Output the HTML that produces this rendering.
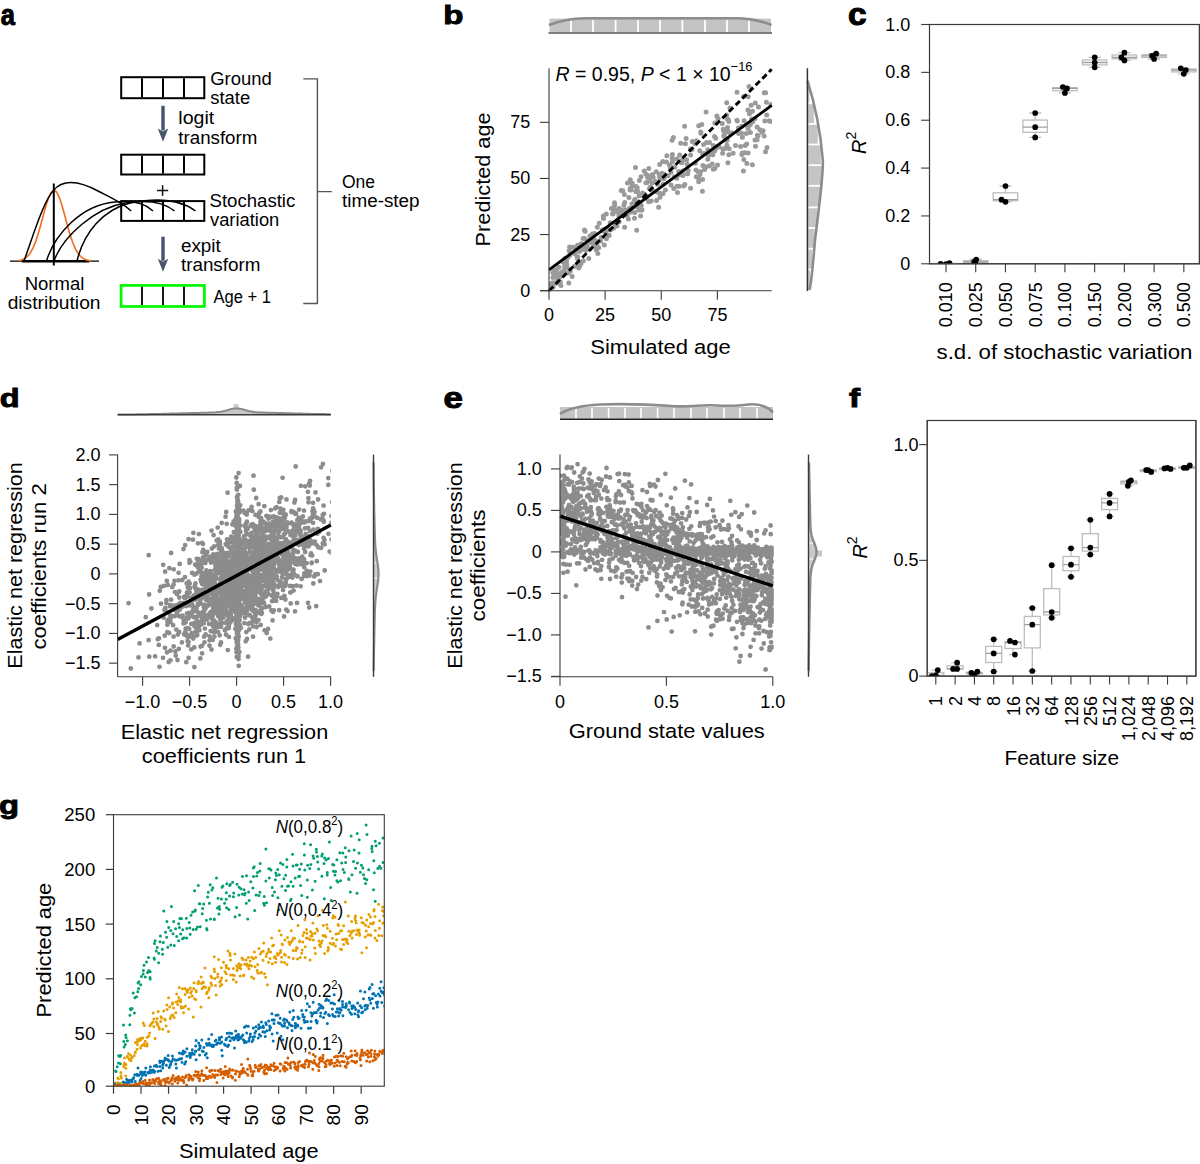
<!DOCTYPE html><html><head><meta charset="utf-8"><style>
html,body{margin:0;padding:0;background:#fff;width:1200px;height:1164px;overflow:hidden}
svg{display:block;font-family:"Liberation Sans",sans-serif}
</style></head><body>
<svg width="1200" height="1164" viewBox="0 0 1200 1164">
<text x="0" y="0" font-size="29" font-weight="bold" fill="#000" stroke="#000" stroke-width="1" textLength="14.19" lengthAdjust="spacingAndGlyphs" transform="translate(0.7 24.9) scale(1 1.0)">a</text>
<rect x="121.2" y="77.2" width="83.1" height="21.0" fill="none" stroke="#000" stroke-width="2"/>
<line x1="142.00" y1="78.20" x2="142.00" y2="97.20" stroke="#000" stroke-width="2"/>
<line x1="163.00" y1="78.20" x2="163.00" y2="97.20" stroke="#000" stroke-width="2"/>
<line x1="184.00" y1="78.20" x2="184.00" y2="97.20" stroke="#000" stroke-width="2"/>
<rect x="121.2" y="154.7" width="83.1" height="19.8" fill="none" stroke="#000" stroke-width="2"/>
<line x1="142.00" y1="155.70" x2="142.00" y2="173.50" stroke="#000" stroke-width="2"/>
<line x1="163.00" y1="155.70" x2="163.00" y2="173.50" stroke="#000" stroke-width="2"/>
<line x1="184.00" y1="155.70" x2="184.00" y2="173.50" stroke="#000" stroke-width="2"/>
<rect x="121.2" y="201.1" width="83.1" height="19.8" fill="none" stroke="#000" stroke-width="2"/>
<line x1="142.00" y1="202.10" x2="142.00" y2="219.90" stroke="#000" stroke-width="2"/>
<line x1="163.00" y1="202.10" x2="163.00" y2="219.90" stroke="#000" stroke-width="2"/>
<line x1="184.00" y1="202.10" x2="184.00" y2="219.90" stroke="#000" stroke-width="2"/>
<rect x="121.1" y="285.4" width="83.3" height="21.1" fill="none" stroke="#00f800" stroke-width="2.7"/>
<line x1="142.00" y1="286.70" x2="142.00" y2="305.10" stroke="#000" stroke-width="1.8"/>
<line x1="163.00" y1="286.70" x2="163.00" y2="305.10" stroke="#000" stroke-width="1.8"/>
<line x1="184.00" y1="286.70" x2="184.00" y2="305.10" stroke="#000" stroke-width="1.8"/>
<rect x="161.3" y="105.8" width="3.4" height="24.7" fill="#46556b"/>
<path d="M157.8 128.5 L163.0 141.8 L168.2 128.5 L163.0 131.5Z" fill="#46556b"/>
<rect x="161.3" y="236.7" width="3.4" height="24.1" fill="#46556b"/>
<path d="M157.8 258.8 L163.0 271.8 L168.2 258.8 L163.0 261.8Z" fill="#46556b"/>
<line x1="157.00" y1="190.50" x2="168.20" y2="190.50" stroke="#111" stroke-width="1.5"/>
<line x1="162.60" y1="185.20" x2="162.60" y2="195.80" stroke="#111" stroke-width="1.5"/>
<text x="210.2" y="85.0" font-size="17.5" textLength="61.5" lengthAdjust="spacingAndGlyphs">Ground</text>
<text x="210.2" y="104.2" font-size="17.5" textLength="40.0" lengthAdjust="spacingAndGlyphs">state</text>
<text x="178.3" y="124.0" font-size="17.5" textLength="36.0" lengthAdjust="spacingAndGlyphs">logit</text>
<text x="178.3" y="143.5" font-size="17.5" textLength="79.0" lengthAdjust="spacingAndGlyphs">transform</text>
<text x="209.5" y="207.3" font-size="17.5" textLength="85.8" lengthAdjust="spacingAndGlyphs">Stochastic</text>
<text x="210.0" y="226.0" font-size="17.5" textLength="69.3" lengthAdjust="spacingAndGlyphs">variation</text>
<text x="180.9" y="251.6" font-size="17.5" textLength="39.9" lengthAdjust="spacingAndGlyphs">expit</text>
<text x="180.9" y="270.7" font-size="17.5" textLength="79.6" lengthAdjust="spacingAndGlyphs">transform</text>
<text x="213.5" y="303.3" font-size="17.5" textLength="57.5" lengthAdjust="spacingAndGlyphs">Age + 1</text>
<text x="342.0" y="187.5" font-size="17.5" textLength="33.0" lengthAdjust="spacingAndGlyphs">One</text>
<text x="342.0" y="206.7" font-size="17.5" textLength="77.6" lengthAdjust="spacingAndGlyphs">time-step</text>
<text x="24.7" y="289.7" font-size="17.5" textLength="59.6" lengthAdjust="spacingAndGlyphs">Normal</text>
<text x="7.7" y="308.6" font-size="17.5" textLength="92.8" lengthAdjust="spacingAndGlyphs">distribution</text>
<path d="M303.3 78.9H317.4V303.5H303.3M317.4 191.6H331.8" fill="none" stroke="#555" stroke-width="1.4"/>
<line x1="10.00" y1="261.20" x2="99.00" y2="261.20" stroke="#000" stroke-width="1.2"/>
<line x1="22.00" y1="261.20" x2="89.00" y2="261.20" stroke="#000" stroke-width="2.4"/>
<polyline points="18.50,260.60 19.41,260.43 20.31,260.23 21.22,259.98 22.12,259.68 23.03,259.32 23.94,258.88 24.84,258.36 25.75,257.74 26.66,257.01 27.56,256.17 28.47,255.19 29.38,254.06 30.28,252.77 31.19,251.32 32.09,249.68 33.00,247.85 33.91,245.84 34.81,243.62 35.72,241.22 36.62,238.62 37.53,235.84 38.44,232.90 39.34,229.82 40.25,226.61 41.16,223.31 42.06,219.95 42.97,216.57 43.88,213.22 44.78,209.93 45.69,206.75 46.59,203.74 47.50,200.94 48.41,198.39 49.31,196.14 50.22,194.22 51.12,192.68 52.03,191.53 52.94,190.80 53.84,190.51 54.75,190.65 55.66,191.23 56.56,192.23 57.47,193.64 58.38,195.44 59.28,197.58 60.19,200.03 61.09,202.75 62.00,205.69 62.91,208.82 63.81,212.07 64.72,215.41 65.62,218.78 66.53,222.15 67.44,225.48 68.34,228.72 69.25,231.85 70.16,234.85 71.06,237.68 71.97,240.34 72.88,242.82 73.78,245.10 74.69,247.18 75.59,249.07 76.50,250.77 77.41,252.29 78.31,253.63 79.22,254.81 80.12,255.84 81.03,256.74 81.94,257.50 82.84,258.16 83.75,258.71 84.66,259.18 85.56,259.56 86.47,259.89 87.38,260.15 88.28,260.37 89.19,260.54 90.09,260.69 91.00,260.80" fill="none" stroke="#f26b1d" stroke-width="1.6"/>
<line x1="53.80" y1="183.50" x2="53.80" y2="265.50" stroke="#000" stroke-width="2"/>
<path d="M24 261 C33 236 44 200 53.5 190.5 C62 180 78 180 100 192 C112 198 125 204 131 211" fill="none" stroke="#000" stroke-width="1.5"/>
<path d="M46.5 261 C54 236 80 205 115 202 C135 200 147 205 153 211" fill="none" stroke="#000" stroke-width="1.5"/>
<path d="M54 261 C63 236 95 208 125 203 C150 199 165 203 174.5 211" fill="none" stroke="#000" stroke-width="1.5"/>
<path d="M77 261 C84 232 103 210 130 203 C165 196 185 203 195.5 211" fill="none" stroke="#000" stroke-width="1.5"/>
<text x="0" y="0" font-size="29" font-weight="bold" fill="#000" stroke="#000" stroke-width="1" textLength="20.20" lengthAdjust="spacingAndGlyphs" transform="translate(443.2 24.3) scale(1 0.92)">b</text>
<clipPath id="cb"><rect x="549" y="60" width="223" height="232"/></clipPath>
<path d="M577.6 249.8h0M660.0 179.1h0M682.7 171.0h0M555.4 270.5h0M581.9 243.7h0M755.3 103.1h0M564.7 264.5h0M577.8 256.7h0M759.8 129.7h0M687.2 164.3h0M631.0 190.1h0M662.7 175.2h0M696.3 176.7h0M610.2 222.7h0M579.7 266.0h0M724.1 135.8h0M698.0 171.4h0M662.9 193.7h0M730.5 133.6h0M671.0 172.3h0M767.0 147.6h0M594.5 233.6h0M672.1 140.2h0M656.5 200.5h0M627.5 183.1h0M680.5 174.7h0M601.3 237.5h0M727.3 140.1h0M741.8 154.6h0M577.6 245.2h0M652.8 176.9h0M610.6 229.7h0M567.5 267.7h0M748.1 153.0h0M644.6 194.2h0M581.8 244.2h0M698.7 178.9h0M593.9 245.3h0M749.3 124.5h0M597.3 227.3h0M556.4 269.8h0M593.6 245.8h0M625.8 214.1h0M653.2 177.2h0M750.4 132.6h0M704.0 153.5h0M624.4 194.6h0M552.8 272.6h0M584.5 247.4h0M770.5 121.4h0M651.2 177.0h0M702.6 179.4h0M561.2 272.4h0M556.6 283.1h0M737.0 92.3h0M679.7 155.0h0M617.6 212.1h0M619.5 213.5h0M568.8 283.0h0M587.4 240.8h0M554.5 270.7h0M735.5 145.5h0M652.6 174.5h0M577.3 250.3h0M713.3 169.3h0M592.5 233.9h0M562.8 261.8h0M682.0 160.4h0M748.1 128.6h0M555.0 274.6h0M727.9 162.7h0M591.3 242.8h0M569.6 255.4h0M553.0 287.2h0M614.1 207.1h0M710.6 151.8h0M658.6 207.2h0M738.6 133.5h0M597.3 246.7h0M619.1 208.4h0M606.4 238.7h0M766.4 102.2h0M758.1 135.7h0M624.7 202.5h0M645.9 196.2h0M618.9 215.7h0M714.9 123.0h0M557.9 274.5h0M564.0 272.0h0M638.8 210.1h0M603.5 218.6h0M736.9 120.2h0M713.9 148.8h0M670.3 168.3h0M696.0 169.9h0M702.9 165.4h0M722.6 153.2h0M755.1 118.6h0M582.3 249.2h0M688.2 170.6h0M580.9 246.7h0M647.5 177.3h0M723.8 135.8h0M747.9 110.1h0M717.7 146.4h0M556.9 277.5h0M628.9 197.6h0M585.2 249.4h0M771.0 104.6h0M581.0 263.6h0M603.3 216.1h0M628.4 212.6h0M562.5 272.0h0M742.4 153.1h0M690.4 148.9h0M584.5 238.6h0M659.7 164.4h0M566.5 260.8h0M684.8 184.6h0M600.5 241.3h0M557.6 278.7h0M574.6 266.2h0M672.4 154.5h0M690.6 155.0h0M621.2 209.9h0M692.0 149.4h0M627.2 215.5h0M578.0 263.1h0M619.1 221.7h0M636.9 190.3h0M751.8 120.2h0M574.7 253.9h0M568.2 257.0h0M673.8 188.5h0M763.1 130.7h0M750.6 123.9h0M704.6 169.6h0M563.8 273.1h0M728.2 119.6h0M700.9 133.3h0M581.0 243.8h0M652.3 183.1h0M560.0 274.9h0M727.2 118.9h0M708.7 151.9h0M727.8 131.1h0M718.0 119.1h0M608.4 228.2h0M724.5 148.7h0M604.4 229.2h0M579.6 249.1h0M635.8 191.4h0M659.6 176.7h0M612.5 213.7h0M683.6 185.9h0M682.9 175.6h0M602.3 229.9h0M687.4 173.8h0M628.4 219.1h0M712.3 164.1h0M613.5 228.2h0M726.5 140.4h0M641.3 205.4h0M672.0 167.3h0M698.7 125.8h0M664.2 177.7h0M606.3 213.9h0M766.7 114.9h0M570.3 271.3h0M621.2 212.4h0M671.0 184.9h0M555.4 274.2h0M583.4 260.7h0M726.6 115.1h0M723.2 129.3h0M690.6 188.2h0M749.4 113.7h0M716.9 115.9h0M615.4 224.7h0M692.3 141.6h0M624.6 227.2h0M715.7 138.3h0M634.5 218.3h0M583.1 246.9h0M743.8 159.4h0M702.4 191.3h0M714.5 136.5h0M673.4 137.4h0M723.0 149.1h0M648.5 175.8h0M674.8 167.1h0M562.9 272.6h0M672.4 161.7h0M730.0 108.1h0M705.8 167.1h0M727.5 127.5h0M659.3 174.4h0M744.9 152.8h0M573.1 247.2h0M743.6 96.6h0M631.5 212.1h0M569.2 250.8h0M686.6 159.7h0M650.1 187.2h0M644.2 171.1h0M738.4 128.0h0M579.6 251.4h0M686.1 138.5h0M641.0 176.8h0M666.4 162.0h0M660.0 197.3h0M578.8 268.0h0M662.8 161.4h0M740.6 146.4h0M587.1 246.1h0M551.5 287.6h0M564.0 270.6h0M651.2 201.0h0M765.6 92.8h0M558.8 280.8h0M769.2 120.7h0M668.1 175.7h0M575.7 247.9h0M642.0 209.7h0M595.1 240.2h0M707.7 149.7h0M669.4 164.9h0M613.0 214.0h0M605.8 232.2h0M741.7 126.3h0M719.3 147.1h0M645.9 182.7h0M639.1 195.7h0M712.9 154.7h0M764.8 121.0h0M566.7 263.9h0M584.4 230.1h0M629.5 208.3h0M661.8 173.2h0M564.9 258.4h0M560.9 285.6h0M597.8 253.5h0M634.8 212.4h0M713.3 145.5h0M684.6 126.2h0M555.5 276.1h0M559.0 267.3h0M649.5 188.5h0M743.4 171.0h0M752.4 164.7h0M630.1 190.0h0M746.2 125.2h0M755.5 146.3h0M639.4 180.4h0M714.8 168.6h0M630.2 188.6h0M583.1 238.5h0M676.8 178.2h0M568.2 273.1h0M696.4 140.7h0M728.8 154.8h0M752.5 111.2h0M648.6 201.8h0M575.1 251.7h0M749.6 125.3h0M742.4 137.2h0M764.1 135.9h0M681.0 161.0h0M698.7 181.7h0M632.0 203.7h0M589.7 248.7h0M613.8 210.8h0M709.2 166.0h0M621.2 190.4h0M702.7 154.3h0M660.6 193.4h0M648.8 168.4h0M764.1 92.8h0M585.9 250.2h0M657.3 192.2h0M584.5 249.6h0M757.4 135.3h0M657.6 184.3h0M622.8 190.7h0M586.4 244.6h0M681.0 162.3h0M637.7 191.4h0M577.3 256.8h0M556.2 272.8h0M636.0 186.4h0M678.6 171.4h0M664.3 174.2h0M749.0 86.5h0M751.6 118.9h0M757.1 126.9h0M726.7 102.8h0M655.2 181.6h0M665.4 189.9h0M637.3 187.7h0M637.8 206.6h0M558.2 278.3h0M726.5 131.9h0M603.7 231.2h0M555.5 282.4h0M652.7 190.6h0M708.5 155.5h0M645.9 173.9h0M629.9 210.7h0M695.4 163.3h0M585.2 231.3h0M551.5 285.1h0M680.7 143.2h0M666.9 155.8h0M741.4 133.0h0M641.4 210.2h0M723.7 131.1h0M553.0 277.5h0M555.1 273.5h0M682.0 162.7h0M599.3 223.3h0M564.0 260.0h0M577.4 264.9h0M632.3 183.2h0M623.9 205.3h0M674.3 177.0h0M746.3 133.6h0M630.3 179.8h0M589.9 235.9h0M677.5 192.4h0M549.5 284.2h0M634.5 200.0h0M619.5 213.4h0M635.1 204.0h0M560.3 282.2h0M672.2 158.3h0M687.7 173.7h0M715.6 148.8h0M761.8 131.9h0M627.8 212.4h0M694.9 143.4h0M647.2 182.6h0M596.8 244.4h0M746.7 144.0h0M714.8 150.8h0M758.5 106.9h0M731.6 132.9h0M752.9 121.6h0M577.5 258.8h0M552.5 282.7h0M593.1 240.0h0M640.6 216.1h0M701.8 124.5h0M646.5 198.2h0M663.1 184.2h0M718.1 118.8h0M564.7 267.1h0M699.8 150.8h0M559.8 277.3h0M604.3 244.9h0M709.5 142.4h0M700.8 131.9h0M639.1 205.6h0M614.5 202.7h0M733.1 153.3h0M610.1 230.1h0M555.9 275.0h0M604.0 229.6h0M553.7 276.6h0M729.2 148.7h0M576.2 265.7h0M765.5 151.7h0M596.3 249.9h0M617.0 226.1h0M679.1 186.3h0M617.5 210.4h0M633.3 207.3h0M572.2 276.6h0M635.5 167.4h0M554.6 283.6h0M598.8 247.8h0M751.1 105.3h0M611.4 208.6h0M609.2 235.4h0M700.0 174.4h0M745.2 145.5h0M614.8 204.8h0M632.6 203.6h0M707.8 159.3h0M725.1 138.6h0M685.4 143.7h0M588.8 258.4h0M589.2 249.0h0M717.5 165.0h0M706.1 112.1h0M748.2 96.8h0M722.3 123.4h0M642.6 193.1h0M578.6 249.6h0M746.9 163.4h0M703.6 144.4h0M677.1 186.2h0M700.5 171.7h0M634.6 206.7h0M625.3 210.1h0M676.9 159.1h0M656.3 171.7h0M706.6 142.6h0M757.1 139.7h0M737.3 121.0h0M635.1 199.3h0M631.8 186.6h0M755.0 140.1h0M636.7 230.2h0M726.9 145.3h0M569.6 247.1h0M649.3 179.8h0M663.7 178.7h0M728.8 121.5h0M744.1 120.7h0M582.9 247.2h0" stroke="#9a9a9a" stroke-width="5.0" stroke-linecap="round" fill="none" clip-path="url(#cb)"/>
<line x1="549.0" y1="269.8" x2="771.7" y2="105.3" stroke="#000" stroke-width="2.9"/>
<line x1="549.0" y1="290.7" x2="771.7" y2="69.3" stroke="#000" stroke-width="2.9" stroke-dasharray="6 3.4"/>
<line x1="549.00" y1="68.30" x2="549.00" y2="290.70" stroke="#3a3a3a" stroke-width="1.1"/>
<line x1="540.00" y1="290.70" x2="771.70" y2="290.70" stroke="#3a3a3a" stroke-width="1.1"/>
<line x1="540.00" y1="290.70" x2="549.00" y2="290.70" stroke="#3a3a3a" stroke-width="1.1"/>
<line x1="549.00" y1="290.70" x2="549.00" y2="299.70" stroke="#3a3a3a" stroke-width="1.1"/>
<text x="530.2" y="296.7" font-size="18" text-anchor="end">0</text>
<text x="549.0" y="321.3" font-size="18" text-anchor="middle">0</text>
<line x1="540.00" y1="234.57" x2="549.00" y2="234.57" stroke="#3a3a3a" stroke-width="1.1"/>
<line x1="605.12" y1="290.70" x2="605.12" y2="299.70" stroke="#3a3a3a" stroke-width="1.1"/>
<text x="530.2" y="240.6" font-size="18" text-anchor="end">25</text>
<text x="605.1" y="321.3" font-size="18" text-anchor="middle">25</text>
<line x1="540.00" y1="178.45" x2="549.00" y2="178.45" stroke="#3a3a3a" stroke-width="1.1"/>
<line x1="661.25" y1="290.70" x2="661.25" y2="299.70" stroke="#3a3a3a" stroke-width="1.1"/>
<text x="530.2" y="184.4" font-size="18" text-anchor="end">50</text>
<text x="661.2" y="321.3" font-size="18" text-anchor="middle">50</text>
<line x1="540.00" y1="122.32" x2="549.00" y2="122.32" stroke="#3a3a3a" stroke-width="1.1"/>
<line x1="717.38" y1="290.70" x2="717.38" y2="299.70" stroke="#3a3a3a" stroke-width="1.1"/>
<text x="530.2" y="128.3" font-size="18" text-anchor="end">75</text>
<text x="717.4" y="321.3" font-size="18" text-anchor="middle">75</text>
<text x="660.5" y="354.2" font-size="20.5" text-anchor="middle" textLength="140.5" lengthAdjust="spacingAndGlyphs">Simulated age</text>
<text x="490.2" y="179.4" font-size="20" text-anchor="middle" textLength="134.0" lengthAdjust="spacingAndGlyphs" transform="rotate(-90 490.2 179.4)">Predicted age</text>
<text x="555.5" y="81.3" font-size="20.5" textLength="197" lengthAdjust="spacingAndGlyphs"><tspan font-style="italic">R</tspan> = 0.95, <tspan font-style="italic">P</tspan> &lt; 1 × 10<tspan font-size="13.5" dy="-10">−16</tspan></text>
<rect x="549.5" y="18.6" width="221.5" height="13.6" fill="#c4c4c4"/>
<line x1="571.00" y1="20.00" x2="571.00" y2="32.20" stroke="#fff" stroke-width="1.8"/>
<line x1="593.00" y1="20.00" x2="593.00" y2="32.20" stroke="#fff" stroke-width="1.8"/>
<line x1="615.60" y1="20.00" x2="615.60" y2="32.20" stroke="#fff" stroke-width="1.8"/>
<line x1="638.00" y1="20.00" x2="638.00" y2="32.20" stroke="#fff" stroke-width="1.8"/>
<line x1="660.00" y1="20.00" x2="660.00" y2="32.20" stroke="#fff" stroke-width="1.8"/>
<line x1="682.40" y1="20.00" x2="682.40" y2="32.20" stroke="#fff" stroke-width="1.8"/>
<line x1="705.00" y1="20.00" x2="705.00" y2="32.20" stroke="#fff" stroke-width="1.8"/>
<line x1="727.00" y1="20.00" x2="727.00" y2="32.20" stroke="#fff" stroke-width="1.8"/>
<line x1="749.00" y1="20.00" x2="749.00" y2="32.20" stroke="#fff" stroke-width="1.8"/>
<path d="M549 25 C560 21 570 18.5 585 18.3 L735 18.3 C750 18.5 762 21 771.5 25" fill="none" stroke="#8c8c8c" stroke-width="2.6"/>
<line x1="548.50" y1="33.00" x2="772.00" y2="33.00" stroke="#555" stroke-width="1.5"/>
<rect x="807.5" y="80.6" width="1.8" height="22.7" fill="#c4c4c4"/>
<rect x="807.5" y="103.3" width="6.4" height="20.7" fill="#c4c4c4"/>
<rect x="807.5" y="124.0" width="10.3" height="20.5" fill="#c4c4c4"/>
<rect x="807.5" y="144.5" width="13.3" height="20.7" fill="#c4c4c4"/>
<rect x="807.5" y="165.2" width="14.2" height="20.6" fill="#c4c4c4"/>
<rect x="807.5" y="185.8" width="12.5" height="21.6" fill="#c4c4c4"/>
<rect x="807.5" y="207.4" width="9.8" height="20.6" fill="#c4c4c4"/>
<rect x="807.5" y="228.0" width="7.2" height="20.7" fill="#c4c4c4"/>
<rect x="807.5" y="248.7" width="4.8" height="20.6" fill="#c4c4c4"/>
<rect x="807.5" y="269.3" width="2.6" height="20.7" fill="#c4c4c4"/>
<line x1="808.50" y1="103.30" x2="822.00" y2="103.30" stroke="#fff" stroke-width="1.8"/>
<line x1="808.50" y1="124.00" x2="822.00" y2="124.00" stroke="#fff" stroke-width="1.8"/>
<line x1="808.50" y1="144.50" x2="822.00" y2="144.50" stroke="#fff" stroke-width="1.8"/>
<line x1="808.50" y1="165.20" x2="822.00" y2="165.20" stroke="#fff" stroke-width="1.8"/>
<line x1="808.50" y1="185.80" x2="822.00" y2="185.80" stroke="#fff" stroke-width="1.8"/>
<line x1="808.50" y1="207.40" x2="822.00" y2="207.40" stroke="#fff" stroke-width="1.8"/>
<line x1="808.50" y1="228.00" x2="822.00" y2="228.00" stroke="#fff" stroke-width="1.8"/>
<line x1="808.50" y1="248.70" x2="822.00" y2="248.70" stroke="#fff" stroke-width="1.8"/>
<line x1="808.50" y1="269.30" x2="822.00" y2="269.30" stroke="#fff" stroke-width="1.8"/>
<path d="M807.5 81 C812 95 820 125 822.8 160 C823.5 175 820 200 815 240 C813 265 811.5 282 809.5 290" fill="none" stroke="#8c8c8c" stroke-width="2.6"/>
<line x1="807.40" y1="68.20" x2="807.40" y2="291.00" stroke="#333" stroke-width="1.5"/>
<text x="0" y="0" font-size="29" font-weight="bold" fill="#000" stroke="#000" stroke-width="1" textLength="18.54" lengthAdjust="spacingAndGlyphs" transform="translate(848.0 25.3) scale(1 1.05)">c</text>
<rect x="929.5" y="24.5" width="269.9" height="239.3" fill="none" stroke="#3a3a3a" stroke-width="1.1"/>
<line x1="921.20" y1="263.80" x2="929.50" y2="263.80" stroke="#3a3a3a" stroke-width="1.1"/>
<text x="910.2" y="269.8" font-size="18" text-anchor="end">0</text>
<line x1="921.20" y1="215.94" x2="929.50" y2="215.94" stroke="#3a3a3a" stroke-width="1.1"/>
<text x="910.2" y="221.9" font-size="18" text-anchor="end">0.2</text>
<line x1="921.20" y1="168.08" x2="929.50" y2="168.08" stroke="#3a3a3a" stroke-width="1.1"/>
<text x="910.2" y="174.1" font-size="18" text-anchor="end">0.4</text>
<line x1="921.20" y1="120.22" x2="929.50" y2="120.22" stroke="#3a3a3a" stroke-width="1.1"/>
<text x="910.2" y="126.2" font-size="18" text-anchor="end">0.6</text>
<line x1="921.20" y1="72.36" x2="929.50" y2="72.36" stroke="#3a3a3a" stroke-width="1.1"/>
<text x="910.2" y="78.4" font-size="18" text-anchor="end">0.8</text>
<line x1="921.20" y1="24.50" x2="929.50" y2="24.50" stroke="#3a3a3a" stroke-width="1.1"/>
<text x="910.2" y="30.5" font-size="18" text-anchor="end">1.0</text>
<line x1="946.00" y1="263.80" x2="946.00" y2="272.30" stroke="#3a3a3a" stroke-width="1.1"/>
<text x="952.5" y="282.3" font-size="18" text-anchor="end" transform="rotate(-90 952.5 282.3)">0.010</text>
<line x1="975.73" y1="263.80" x2="975.73" y2="272.30" stroke="#3a3a3a" stroke-width="1.1"/>
<text x="982.2" y="282.3" font-size="18" text-anchor="end" transform="rotate(-90 982.2 282.3)">0.025</text>
<line x1="1005.46" y1="263.80" x2="1005.46" y2="272.30" stroke="#3a3a3a" stroke-width="1.1"/>
<text x="1012.0" y="282.3" font-size="18" text-anchor="end" transform="rotate(-90 1012.0 282.3)">0.050</text>
<line x1="1035.19" y1="263.80" x2="1035.19" y2="272.30" stroke="#3a3a3a" stroke-width="1.1"/>
<text x="1041.7" y="282.3" font-size="18" text-anchor="end" transform="rotate(-90 1041.7 282.3)">0.075</text>
<line x1="1064.92" y1="263.80" x2="1064.92" y2="272.30" stroke="#3a3a3a" stroke-width="1.1"/>
<text x="1071.4" y="282.3" font-size="18" text-anchor="end" transform="rotate(-90 1071.4 282.3)">0.100</text>
<line x1="1094.65" y1="263.80" x2="1094.65" y2="272.30" stroke="#3a3a3a" stroke-width="1.1"/>
<text x="1101.2" y="282.3" font-size="18" text-anchor="end" transform="rotate(-90 1101.2 282.3)">0.150</text>
<line x1="1124.38" y1="263.80" x2="1124.38" y2="272.30" stroke="#3a3a3a" stroke-width="1.1"/>
<text x="1130.9" y="282.3" font-size="18" text-anchor="end" transform="rotate(-90 1130.9 282.3)">0.200</text>
<line x1="1154.11" y1="263.80" x2="1154.11" y2="272.30" stroke="#3a3a3a" stroke-width="1.1"/>
<text x="1160.6" y="282.3" font-size="18" text-anchor="end" transform="rotate(-90 1160.6 282.3)">0.300</text>
<line x1="1183.84" y1="263.80" x2="1183.84" y2="272.30" stroke="#3a3a3a" stroke-width="1.1"/>
<text x="1190.3" y="282.3" font-size="18" text-anchor="end" transform="rotate(-90 1190.3 282.3)">0.500</text>
<clipPath id="ccp"><rect x="929.5" y="24.5" width="269.9" height="239.3"/></clipPath><g clip-path="url(#ccp)">
<line x1="946.0" y1="263.1" x2="946.0" y2="263.4" stroke="#bdbdbd" stroke-width="1.3"/>
<line x1="946.0" y1="263.9" x2="946.0" y2="264.0" stroke="#bdbdbd" stroke-width="1.3"/>
<line x1="940.0" y1="263.1" x2="952.0" y2="263.1" stroke="#bdbdbd" stroke-width="1.3"/>
<line x1="940.0" y1="264.0" x2="952.0" y2="264.0" stroke="#bdbdbd" stroke-width="1.3"/>
<rect x="933.8" y="263.4" width="24.5" height="1.5" fill="#fff" stroke="#bdbdbd" stroke-width="1.3"/>
<line x1="933.8" y1="263.8" x2="958.2" y2="263.8" stroke="#a0a0a0" stroke-width="1.3"/>
<circle cx="940.5" cy="263.8" r="2.85" fill="#000"/>
<circle cx="946.0" cy="264.0" r="2.85" fill="#000"/>
<circle cx="949.5" cy="263.1" r="2.85" fill="#000"/>
<line x1="975.7" y1="259.5" x2="975.7" y2="260.7" stroke="#bdbdbd" stroke-width="1.3"/>
<line x1="975.7" y1="262.2" x2="975.7" y2="262.6" stroke="#bdbdbd" stroke-width="1.3"/>
<line x1="969.7" y1="259.5" x2="981.7" y2="259.5" stroke="#bdbdbd" stroke-width="1.3"/>
<line x1="969.7" y1="262.6" x2="981.7" y2="262.6" stroke="#bdbdbd" stroke-width="1.3"/>
<rect x="963.5" y="260.7" width="24.5" height="1.6" fill="#fff" stroke="#bdbdbd" stroke-width="1.3"/>
<line x1="963.5" y1="261.9" x2="988.0" y2="261.9" stroke="#a0a0a0" stroke-width="1.3"/>
<circle cx="976.2" cy="259.5" r="2.85" fill="#000"/>
<circle cx="974.2" cy="261.9" r="2.85" fill="#000"/>
<circle cx="975.2" cy="262.6" r="2.85" fill="#000"/>
<line x1="1005.5" y1="186.0" x2="1005.5" y2="192.8" stroke="#bdbdbd" stroke-width="1.3"/>
<line x1="1005.5" y1="200.7" x2="1005.5" y2="201.8" stroke="#bdbdbd" stroke-width="1.3"/>
<line x1="999.5" y1="186.0" x2="1011.5" y2="186.0" stroke="#bdbdbd" stroke-width="1.3"/>
<line x1="999.5" y1="201.8" x2="1011.5" y2="201.8" stroke="#bdbdbd" stroke-width="1.3"/>
<rect x="993.2" y="192.8" width="24.5" height="7.9" fill="#fff" stroke="#bdbdbd" stroke-width="1.3"/>
<line x1="993.2" y1="199.7" x2="1017.7" y2="199.7" stroke="#a0a0a0" stroke-width="1.3"/>
<circle cx="1005.5" cy="186.0" r="2.85" fill="#000"/>
<circle cx="1001.5" cy="199.7" r="2.85" fill="#000"/>
<circle cx="1005.5" cy="201.8" r="2.85" fill="#000"/>
<line x1="1035.2" y1="113.0" x2="1035.2" y2="120.1" stroke="#bdbdbd" stroke-width="1.3"/>
<line x1="1035.2" y1="132.3" x2="1035.2" y2="137.4" stroke="#bdbdbd" stroke-width="1.3"/>
<line x1="1029.2" y1="113.0" x2="1041.2" y2="113.0" stroke="#bdbdbd" stroke-width="1.3"/>
<line x1="1029.2" y1="137.4" x2="1041.2" y2="137.4" stroke="#bdbdbd" stroke-width="1.3"/>
<rect x="1022.9" y="120.1" width="24.5" height="12.2" fill="#fff" stroke="#bdbdbd" stroke-width="1.3"/>
<line x1="1022.9" y1="127.2" x2="1047.4" y2="127.2" stroke="#a0a0a0" stroke-width="1.3"/>
<circle cx="1035.2" cy="113.0" r="2.85" fill="#000"/>
<circle cx="1035.2" cy="127.2" r="2.85" fill="#000"/>
<circle cx="1035.2" cy="137.4" r="2.85" fill="#000"/>
<line x1="1064.9" y1="87.0" x2="1064.9" y2="87.7" stroke="#bdbdbd" stroke-width="1.3"/>
<line x1="1064.9" y1="90.7" x2="1064.9" y2="92.9" stroke="#bdbdbd" stroke-width="1.3"/>
<line x1="1058.9" y1="87.0" x2="1070.9" y2="87.0" stroke="#bdbdbd" stroke-width="1.3"/>
<line x1="1058.9" y1="92.9" x2="1070.9" y2="92.9" stroke="#bdbdbd" stroke-width="1.3"/>
<rect x="1052.7" y="87.7" width="24.5" height="3.0" fill="#fff" stroke="#bdbdbd" stroke-width="1.3"/>
<line x1="1052.7" y1="88.4" x2="1077.2" y2="88.4" stroke="#a0a0a0" stroke-width="1.3"/>
<circle cx="1062.9" cy="87.0" r="2.85" fill="#000"/>
<circle cx="1066.9" cy="88.4" r="2.85" fill="#000"/>
<circle cx="1064.9" cy="92.9" r="2.85" fill="#000"/>
<line x1="1094.7" y1="57.3" x2="1094.7" y2="59.9" stroke="#bdbdbd" stroke-width="1.3"/>
<line x1="1094.7" y1="64.9" x2="1094.7" y2="67.3" stroke="#bdbdbd" stroke-width="1.3"/>
<line x1="1088.7" y1="57.3" x2="1100.7" y2="57.3" stroke="#bdbdbd" stroke-width="1.3"/>
<line x1="1088.7" y1="67.3" x2="1100.7" y2="67.3" stroke="#bdbdbd" stroke-width="1.3"/>
<rect x="1082.4" y="59.9" width="24.5" height="5.0" fill="#fff" stroke="#bdbdbd" stroke-width="1.3"/>
<line x1="1082.4" y1="62.5" x2="1106.9" y2="62.5" stroke="#a0a0a0" stroke-width="1.3"/>
<circle cx="1094.7" cy="57.3" r="2.85" fill="#000"/>
<circle cx="1094.7" cy="62.5" r="2.85" fill="#000"/>
<circle cx="1094.7" cy="67.3" r="2.85" fill="#000"/>
<line x1="1124.4" y1="52.7" x2="1124.4" y2="55.0" stroke="#bdbdbd" stroke-width="1.3"/>
<line x1="1124.4" y1="58.8" x2="1124.4" y2="60.4" stroke="#bdbdbd" stroke-width="1.3"/>
<line x1="1118.4" y1="52.7" x2="1130.4" y2="52.7" stroke="#bdbdbd" stroke-width="1.3"/>
<line x1="1118.4" y1="60.4" x2="1130.4" y2="60.4" stroke="#bdbdbd" stroke-width="1.3"/>
<rect x="1112.1" y="55.0" width="24.5" height="3.8" fill="#fff" stroke="#bdbdbd" stroke-width="1.3"/>
<line x1="1112.1" y1="57.3" x2="1136.6" y2="57.3" stroke="#a0a0a0" stroke-width="1.3"/>
<circle cx="1124.4" cy="52.7" r="2.85" fill="#000"/>
<circle cx="1121.4" cy="57.3" r="2.85" fill="#000"/>
<circle cx="1124.4" cy="60.4" r="2.85" fill="#000"/>
<line x1="1154.1" y1="53.7" x2="1154.1" y2="54.8" stroke="#bdbdbd" stroke-width="1.3"/>
<line x1="1154.1" y1="57.4" x2="1154.1" y2="59.0" stroke="#bdbdbd" stroke-width="1.3"/>
<line x1="1148.1" y1="53.7" x2="1160.1" y2="53.7" stroke="#bdbdbd" stroke-width="1.3"/>
<line x1="1148.1" y1="59.0" x2="1160.1" y2="59.0" stroke="#bdbdbd" stroke-width="1.3"/>
<rect x="1141.9" y="54.8" width="24.5" height="2.6" fill="#fff" stroke="#bdbdbd" stroke-width="1.3"/>
<line x1="1141.9" y1="55.8" x2="1166.4" y2="55.8" stroke="#a0a0a0" stroke-width="1.3"/>
<circle cx="1156.1" cy="53.7" r="2.85" fill="#000"/>
<circle cx="1152.1" cy="55.8" r="2.85" fill="#000"/>
<circle cx="1154.1" cy="59.0" r="2.85" fill="#000"/>
<line x1="1183.8" y1="68.3" x2="1183.8" y2="69.1" stroke="#bdbdbd" stroke-width="1.3"/>
<line x1="1183.8" y1="71.9" x2="1183.8" y2="73.8" stroke="#bdbdbd" stroke-width="1.3"/>
<line x1="1177.8" y1="68.3" x2="1189.8" y2="68.3" stroke="#bdbdbd" stroke-width="1.3"/>
<line x1="1177.8" y1="73.8" x2="1189.8" y2="73.8" stroke="#bdbdbd" stroke-width="1.3"/>
<rect x="1171.6" y="69.1" width="24.5" height="2.8" fill="#fff" stroke="#bdbdbd" stroke-width="1.3"/>
<line x1="1171.6" y1="70.0" x2="1196.1" y2="70.0" stroke="#a0a0a0" stroke-width="1.3"/>
<circle cx="1180.8" cy="68.3" r="2.85" fill="#000"/>
<circle cx="1185.8" cy="70.0" r="2.85" fill="#000"/>
<circle cx="1183.8" cy="73.8" r="2.85" fill="#000"/>
</g>
<rect x="929.5" y="24.5" width="269.9" height="239.3" fill="none" stroke="#3a3a3a" stroke-width="1.1"/>
<text x="866" y="154" font-size="20" transform="rotate(-90 866 154)"><tspan font-style="italic">R</tspan><tspan font-size="14" dy="-10" dx="0">2</tspan></text>
<text x="1064.5" y="359.3" font-size="20.5" text-anchor="middle" textLength="255.9" lengthAdjust="spacingAndGlyphs">s.d. of stochastic variation</text>
<text x="0" y="0" font-size="29" font-weight="bold" fill="#000" stroke="#000" stroke-width="1" textLength="11.10" lengthAdjust="spacingAndGlyphs" transform="translate(848.9 406.6) scale(1 0.92)">f</text>
<rect x="927.2" y="420.5" width="268.7" height="255.6" fill="none" stroke="#3a3a3a" stroke-width="1.1"/>
<line x1="919.20" y1="676.10" x2="927.20" y2="676.10" stroke="#3a3a3a" stroke-width="1.1"/>
<text x="918.6" y="682.1" font-size="18" text-anchor="end">0</text>
<line x1="919.20" y1="560.35" x2="927.20" y2="560.35" stroke="#3a3a3a" stroke-width="1.1"/>
<text x="918.6" y="566.4" font-size="18" text-anchor="end">0.5</text>
<line x1="919.20" y1="444.60" x2="927.20" y2="444.60" stroke="#3a3a3a" stroke-width="1.1"/>
<text x="918.6" y="450.6" font-size="18" text-anchor="end">1.0</text>
<line x1="935.80" y1="676.10" x2="935.80" y2="684.60" stroke="#3a3a3a" stroke-width="1.1"/>
<text x="942.3" y="696.0" font-size="18" text-anchor="end" transform="rotate(-90 942.3 696.0)">1</text>
<line x1="955.11" y1="676.10" x2="955.11" y2="684.60" stroke="#3a3a3a" stroke-width="1.1"/>
<text x="961.6" y="696.0" font-size="18" text-anchor="end" transform="rotate(-90 961.6 696.0)">2</text>
<line x1="974.42" y1="676.10" x2="974.42" y2="684.60" stroke="#3a3a3a" stroke-width="1.1"/>
<text x="980.9" y="696.0" font-size="18" text-anchor="end" transform="rotate(-90 980.9 696.0)">4</text>
<line x1="993.73" y1="676.10" x2="993.73" y2="684.60" stroke="#3a3a3a" stroke-width="1.1"/>
<text x="1000.2" y="696.0" font-size="18" text-anchor="end" transform="rotate(-90 1000.2 696.0)">8</text>
<line x1="1013.04" y1="676.10" x2="1013.04" y2="684.60" stroke="#3a3a3a" stroke-width="1.1"/>
<text x="1019.5" y="696.0" font-size="18" text-anchor="end" transform="rotate(-90 1019.5 696.0)">16</text>
<line x1="1032.35" y1="676.10" x2="1032.35" y2="684.60" stroke="#3a3a3a" stroke-width="1.1"/>
<text x="1038.8" y="696.0" font-size="18" text-anchor="end" transform="rotate(-90 1038.8 696.0)">32</text>
<line x1="1051.66" y1="676.10" x2="1051.66" y2="684.60" stroke="#3a3a3a" stroke-width="1.1"/>
<text x="1058.2" y="696.0" font-size="18" text-anchor="end" transform="rotate(-90 1058.2 696.0)">64</text>
<line x1="1070.97" y1="676.10" x2="1070.97" y2="684.60" stroke="#3a3a3a" stroke-width="1.1"/>
<text x="1077.5" y="696.0" font-size="18" text-anchor="end" transform="rotate(-90 1077.5 696.0)">128</text>
<line x1="1090.28" y1="676.10" x2="1090.28" y2="684.60" stroke="#3a3a3a" stroke-width="1.1"/>
<text x="1096.8" y="696.0" font-size="18" text-anchor="end" transform="rotate(-90 1096.8 696.0)">256</text>
<line x1="1109.59" y1="676.10" x2="1109.59" y2="684.60" stroke="#3a3a3a" stroke-width="1.1"/>
<text x="1116.1" y="696.0" font-size="18" text-anchor="end" transform="rotate(-90 1116.1 696.0)">512</text>
<line x1="1128.90" y1="676.10" x2="1128.90" y2="684.60" stroke="#3a3a3a" stroke-width="1.1"/>
<text x="1135.4" y="696.0" font-size="18" text-anchor="end" transform="rotate(-90 1135.4 696.0)">1,024</text>
<line x1="1148.21" y1="676.10" x2="1148.21" y2="684.60" stroke="#3a3a3a" stroke-width="1.1"/>
<text x="1154.7" y="696.0" font-size="18" text-anchor="end" transform="rotate(-90 1154.7 696.0)">2,048</text>
<line x1="1167.52" y1="676.10" x2="1167.52" y2="684.60" stroke="#3a3a3a" stroke-width="1.1"/>
<text x="1174.0" y="696.0" font-size="18" text-anchor="end" transform="rotate(-90 1174.0 696.0)">4,096</text>
<line x1="1186.83" y1="676.10" x2="1186.83" y2="684.60" stroke="#3a3a3a" stroke-width="1.1"/>
<text x="1193.3" y="696.0" font-size="18" text-anchor="end" transform="rotate(-90 1193.3 696.0)">8,192</text>
<clipPath id="cfp"><rect x="927.2" y="420.5" width="268.7" height="255.6"/></clipPath><g clip-path="url(#cfp)">
<line x1="935.8" y1="670.1" x2="935.8" y2="672.7" stroke="#bdbdbd" stroke-width="1.3"/>
<line x1="935.8" y1="675.8" x2="935.8" y2="676.1" stroke="#bdbdbd" stroke-width="1.3"/>
<line x1="931.8" y1="670.1" x2="939.8" y2="670.1" stroke="#bdbdbd" stroke-width="1.3"/>
<line x1="931.8" y1="676.1" x2="939.8" y2="676.1" stroke="#bdbdbd" stroke-width="1.3"/>
<rect x="927.8" y="672.7" width="16.0" height="3.0" fill="#fff" stroke="#bdbdbd" stroke-width="1.3"/>
<line x1="927.8" y1="675.4" x2="943.8" y2="675.4" stroke="#a0a0a0" stroke-width="1.3"/>
<circle cx="931.8" cy="676.1" r="2.85" fill="#000"/>
<circle cx="935.8" cy="675.4" r="2.85" fill="#000"/>
<circle cx="937.8" cy="670.1" r="2.85" fill="#000"/>
<line x1="955.1" y1="662.7" x2="955.1" y2="665.8" stroke="#bdbdbd" stroke-width="1.3"/>
<line x1="955.1" y1="668.9" x2="955.1" y2="668.9" stroke="#bdbdbd" stroke-width="1.3"/>
<line x1="951.1" y1="662.7" x2="959.1" y2="662.7" stroke="#bdbdbd" stroke-width="1.3"/>
<line x1="951.1" y1="668.9" x2="959.1" y2="668.9" stroke="#bdbdbd" stroke-width="1.3"/>
<rect x="947.1" y="665.8" width="16.0" height="3.1" fill="#fff" stroke="#bdbdbd" stroke-width="1.3"/>
<line x1="947.1" y1="668.9" x2="963.1" y2="668.9" stroke="#a0a0a0" stroke-width="1.3"/>
<circle cx="953.1" cy="668.9" r="2.85" fill="#000"/>
<circle cx="957.1" cy="668.9" r="2.85" fill="#000"/>
<circle cx="957.1" cy="662.7" r="2.85" fill="#000"/>
<line x1="974.4" y1="671.7" x2="974.4" y2="672.3" stroke="#bdbdbd" stroke-width="1.3"/>
<line x1="974.4" y1="673.7" x2="974.4" y2="674.5" stroke="#bdbdbd" stroke-width="1.3"/>
<line x1="970.4" y1="671.7" x2="978.4" y2="671.7" stroke="#bdbdbd" stroke-width="1.3"/>
<line x1="970.4" y1="674.5" x2="978.4" y2="674.5" stroke="#bdbdbd" stroke-width="1.3"/>
<rect x="966.4" y="672.3" width="16.0" height="1.5" fill="#fff" stroke="#bdbdbd" stroke-width="1.3"/>
<line x1="966.4" y1="672.9" x2="982.4" y2="672.9" stroke="#a0a0a0" stroke-width="1.3"/>
<circle cx="971.4" cy="672.9" r="2.85" fill="#000"/>
<circle cx="977.4" cy="671.7" r="2.85" fill="#000"/>
<circle cx="974.4" cy="674.5" r="2.85" fill="#000"/>
<line x1="993.7" y1="639.3" x2="993.7" y2="646.4" stroke="#bdbdbd" stroke-width="1.3"/>
<line x1="993.7" y1="662.4" x2="993.7" y2="671.5" stroke="#bdbdbd" stroke-width="1.3"/>
<line x1="989.7" y1="639.3" x2="997.7" y2="639.3" stroke="#bdbdbd" stroke-width="1.3"/>
<line x1="989.7" y1="671.5" x2="997.7" y2="671.5" stroke="#bdbdbd" stroke-width="1.3"/>
<rect x="985.7" y="646.4" width="16.0" height="16.1" fill="#fff" stroke="#bdbdbd" stroke-width="1.3"/>
<line x1="985.7" y1="653.4" x2="1001.7" y2="653.4" stroke="#a0a0a0" stroke-width="1.3"/>
<circle cx="993.7" cy="639.3" r="2.85" fill="#000"/>
<circle cx="993.7" cy="653.4" r="2.85" fill="#000"/>
<circle cx="993.7" cy="671.5" r="2.85" fill="#000"/>
<line x1="1013.0" y1="640.9" x2="1013.0" y2="641.7" stroke="#bdbdbd" stroke-width="1.3"/>
<line x1="1013.0" y1="648.6" x2="1013.0" y2="654.6" stroke="#bdbdbd" stroke-width="1.3"/>
<line x1="1009.0" y1="640.9" x2="1017.0" y2="640.9" stroke="#bdbdbd" stroke-width="1.3"/>
<line x1="1009.0" y1="654.6" x2="1017.0" y2="654.6" stroke="#bdbdbd" stroke-width="1.3"/>
<rect x="1005.0" y="641.7" width="16.0" height="6.8" fill="#fff" stroke="#bdbdbd" stroke-width="1.3"/>
<line x1="1005.0" y1="642.5" x2="1021.0" y2="642.5" stroke="#a0a0a0" stroke-width="1.3"/>
<circle cx="1010.0" cy="640.9" r="2.85" fill="#000"/>
<circle cx="1015.0" cy="642.5" r="2.85" fill="#000"/>
<circle cx="1015.0" cy="654.6" r="2.85" fill="#000"/>
<line x1="1032.3" y1="608.0" x2="1032.3" y2="616.4" stroke="#bdbdbd" stroke-width="1.3"/>
<line x1="1032.3" y1="647.9" x2="1032.3" y2="671.0" stroke="#bdbdbd" stroke-width="1.3"/>
<line x1="1028.3" y1="608.0" x2="1036.3" y2="608.0" stroke="#bdbdbd" stroke-width="1.3"/>
<line x1="1028.3" y1="671.0" x2="1036.3" y2="671.0" stroke="#bdbdbd" stroke-width="1.3"/>
<rect x="1024.3" y="616.4" width="16.0" height="31.5" fill="#fff" stroke="#bdbdbd" stroke-width="1.3"/>
<line x1="1024.3" y1="624.7" x2="1040.3" y2="624.7" stroke="#a0a0a0" stroke-width="1.3"/>
<circle cx="1032.3" cy="608.0" r="2.85" fill="#000"/>
<circle cx="1032.3" cy="624.7" r="2.85" fill="#000"/>
<circle cx="1032.3" cy="671.0" r="2.85" fill="#000"/>
<line x1="1051.7" y1="565.2" x2="1051.7" y2="588.6" stroke="#bdbdbd" stroke-width="1.3"/>
<line x1="1051.7" y1="614.9" x2="1051.7" y2="617.8" stroke="#bdbdbd" stroke-width="1.3"/>
<line x1="1047.7" y1="565.2" x2="1055.7" y2="565.2" stroke="#bdbdbd" stroke-width="1.3"/>
<line x1="1047.7" y1="617.8" x2="1055.7" y2="617.8" stroke="#bdbdbd" stroke-width="1.3"/>
<rect x="1043.7" y="588.6" width="16.0" height="26.3" fill="#fff" stroke="#bdbdbd" stroke-width="1.3"/>
<line x1="1043.7" y1="612.0" x2="1059.7" y2="612.0" stroke="#a0a0a0" stroke-width="1.3"/>
<circle cx="1051.7" cy="565.2" r="2.85" fill="#000"/>
<circle cx="1051.7" cy="612.0" r="2.85" fill="#000"/>
<circle cx="1051.7" cy="617.8" r="2.85" fill="#000"/>
<line x1="1071.0" y1="548.3" x2="1071.0" y2="556.5" stroke="#bdbdbd" stroke-width="1.3"/>
<line x1="1071.0" y1="570.8" x2="1071.0" y2="576.8" stroke="#bdbdbd" stroke-width="1.3"/>
<line x1="1067.0" y1="548.3" x2="1075.0" y2="548.3" stroke="#bdbdbd" stroke-width="1.3"/>
<line x1="1067.0" y1="576.8" x2="1075.0" y2="576.8" stroke="#bdbdbd" stroke-width="1.3"/>
<rect x="1063.0" y="556.5" width="16.0" height="14.2" fill="#fff" stroke="#bdbdbd" stroke-width="1.3"/>
<line x1="1063.0" y1="564.7" x2="1079.0" y2="564.7" stroke="#a0a0a0" stroke-width="1.3"/>
<circle cx="1071.0" cy="548.3" r="2.85" fill="#000"/>
<circle cx="1071.0" cy="564.7" r="2.85" fill="#000"/>
<circle cx="1071.0" cy="576.8" r="2.85" fill="#000"/>
<line x1="1090.3" y1="519.8" x2="1090.3" y2="533.7" stroke="#bdbdbd" stroke-width="1.3"/>
<line x1="1090.3" y1="551.1" x2="1090.3" y2="554.6" stroke="#bdbdbd" stroke-width="1.3"/>
<line x1="1086.3" y1="519.8" x2="1094.3" y2="519.8" stroke="#bdbdbd" stroke-width="1.3"/>
<line x1="1086.3" y1="554.6" x2="1094.3" y2="554.6" stroke="#bdbdbd" stroke-width="1.3"/>
<rect x="1082.3" y="533.7" width="16.0" height="17.4" fill="#fff" stroke="#bdbdbd" stroke-width="1.3"/>
<line x1="1082.3" y1="547.6" x2="1098.3" y2="547.6" stroke="#a0a0a0" stroke-width="1.3"/>
<circle cx="1090.3" cy="519.8" r="2.85" fill="#000"/>
<circle cx="1090.3" cy="547.6" r="2.85" fill="#000"/>
<circle cx="1090.3" cy="554.6" r="2.85" fill="#000"/>
<line x1="1109.6" y1="493.9" x2="1109.6" y2="498.4" stroke="#bdbdbd" stroke-width="1.3"/>
<line x1="1109.6" y1="509.7" x2="1109.6" y2="516.4" stroke="#bdbdbd" stroke-width="1.3"/>
<line x1="1105.6" y1="493.9" x2="1113.6" y2="493.9" stroke="#bdbdbd" stroke-width="1.3"/>
<line x1="1105.6" y1="516.4" x2="1113.6" y2="516.4" stroke="#bdbdbd" stroke-width="1.3"/>
<rect x="1101.6" y="498.4" width="16.0" height="11.2" fill="#fff" stroke="#bdbdbd" stroke-width="1.3"/>
<line x1="1101.6" y1="502.9" x2="1117.6" y2="502.9" stroke="#a0a0a0" stroke-width="1.3"/>
<circle cx="1109.6" cy="493.9" r="2.85" fill="#000"/>
<circle cx="1109.6" cy="502.9" r="2.85" fill="#000"/>
<circle cx="1109.6" cy="516.4" r="2.85" fill="#000"/>
<line x1="1128.9" y1="480.3" x2="1128.9" y2="481.1" stroke="#bdbdbd" stroke-width="1.3"/>
<line x1="1128.9" y1="483.8" x2="1128.9" y2="485.8" stroke="#bdbdbd" stroke-width="1.3"/>
<line x1="1124.9" y1="480.3" x2="1132.9" y2="480.3" stroke="#bdbdbd" stroke-width="1.3"/>
<line x1="1124.9" y1="485.8" x2="1132.9" y2="485.8" stroke="#bdbdbd" stroke-width="1.3"/>
<rect x="1120.9" y="481.1" width="16.0" height="2.8" fill="#fff" stroke="#bdbdbd" stroke-width="1.3"/>
<line x1="1120.9" y1="481.9" x2="1136.9" y2="481.9" stroke="#a0a0a0" stroke-width="1.3"/>
<circle cx="1130.9" cy="480.3" r="2.85" fill="#000"/>
<circle cx="1128.9" cy="481.9" r="2.85" fill="#000"/>
<circle cx="1127.9" cy="485.8" r="2.85" fill="#000"/>
<line x1="1148.2" y1="470.1" x2="1148.2" y2="470.1" stroke="#bdbdbd" stroke-width="1.3"/>
<line x1="1148.2" y1="471.0" x2="1148.2" y2="471.9" stroke="#bdbdbd" stroke-width="1.3"/>
<line x1="1144.2" y1="470.1" x2="1152.2" y2="470.1" stroke="#bdbdbd" stroke-width="1.3"/>
<line x1="1144.2" y1="471.9" x2="1152.2" y2="471.9" stroke="#bdbdbd" stroke-width="1.3"/>
<rect x="1140.2" y="470.1" width="16.0" height="1.5" fill="#fff" stroke="#bdbdbd" stroke-width="1.3"/>
<line x1="1140.2" y1="470.1" x2="1156.2" y2="470.1" stroke="#a0a0a0" stroke-width="1.3"/>
<circle cx="1146.2" cy="470.1" r="2.85" fill="#000"/>
<circle cx="1151.2" cy="471.9" r="2.85" fill="#000"/>
<circle cx="1148.2" cy="470.1" r="2.85" fill="#000"/>
<line x1="1167.5" y1="467.8" x2="1167.5" y2="468.1" stroke="#bdbdbd" stroke-width="1.3"/>
<line x1="1167.5" y1="468.7" x2="1167.5" y2="468.9" stroke="#bdbdbd" stroke-width="1.3"/>
<line x1="1163.5" y1="467.8" x2="1171.5" y2="467.8" stroke="#bdbdbd" stroke-width="1.3"/>
<line x1="1163.5" y1="468.9" x2="1171.5" y2="468.9" stroke="#bdbdbd" stroke-width="1.3"/>
<rect x="1159.5" y="468.1" width="16.0" height="1.5" fill="#fff" stroke="#bdbdbd" stroke-width="1.3"/>
<line x1="1159.5" y1="468.4" x2="1175.5" y2="468.4" stroke="#a0a0a0" stroke-width="1.3"/>
<circle cx="1164.5" cy="468.4" r="2.85" fill="#000"/>
<circle cx="1170.5" cy="468.9" r="2.85" fill="#000"/>
<circle cx="1167.5" cy="467.8" r="2.85" fill="#000"/>
<line x1="1186.8" y1="465.4" x2="1186.8" y2="466.6" stroke="#bdbdbd" stroke-width="1.3"/>
<line x1="1186.8" y1="467.8" x2="1186.8" y2="467.8" stroke="#bdbdbd" stroke-width="1.3"/>
<line x1="1182.8" y1="465.4" x2="1190.8" y2="465.4" stroke="#bdbdbd" stroke-width="1.3"/>
<line x1="1182.8" y1="467.8" x2="1190.8" y2="467.8" stroke="#bdbdbd" stroke-width="1.3"/>
<rect x="1178.8" y="466.6" width="16.0" height="1.5" fill="#fff" stroke="#bdbdbd" stroke-width="1.3"/>
<line x1="1178.8" y1="467.8" x2="1194.8" y2="467.8" stroke="#a0a0a0" stroke-width="1.3"/>
<circle cx="1189.8" cy="465.4" r="2.85" fill="#000"/>
<circle cx="1183.8" cy="467.8" r="2.85" fill="#000"/>
<circle cx="1186.8" cy="467.8" r="2.85" fill="#000"/>
</g>
<rect x="927.2" y="420.5" width="268.7" height="255.6" fill="none" stroke="#3a3a3a" stroke-width="1.1"/>
<text x="867.5" y="558.6" font-size="20" transform="rotate(-90 867.5 558.6)"><tspan font-style="italic">R</tspan><tspan font-size="14" dy="-10" dx="0">2</tspan></text>
<text x="1061.8" y="765.4" font-size="20.5" text-anchor="middle" textLength="114.7" lengthAdjust="spacingAndGlyphs">Feature size</text>
<text x="0" y="0" font-size="29" font-weight="bold" fill="#000" stroke="#000" stroke-width="1" textLength="19.85" lengthAdjust="spacingAndGlyphs" transform="translate(-0.2 407.0) scale(1 0.92)">d</text>
<clipPath id="cd"><rect x="117.6" y="449.6" width="213.2" height="227.2"/></clipPath>
<path d="M257.9 576.5h0M302.3 556.7h0M175.3 651.5h0M309.1 483.6h0M242.3 553.5h0M213.3 583.7h0M213.2 554.5h0M202.4 595.3h0M235.5 578.1h0M276.3 517.5h0M266.6 585.5h0M268.7 580.4h0M178.8 648.9h0M183.6 619.8h0M304.0 510.6h0M281.5 564.5h0M328.3 484.9h0M290.7 559.9h0M204.6 584.6h0M293.7 573.3h0M268.3 538.0h0M252.4 511.1h0M212.5 594.5h0M244.2 613.2h0M238.5 575.8h0M278.5 533.0h0M248.9 590.3h0M305.2 486.3h0M214.3 620.7h0M262.3 545.3h0M263.3 521.7h0M210.8 579.7h0M198.6 559.2h0M283.2 536.9h0M264.1 571.3h0M237.9 586.5h0M259.3 513.0h0M218.1 632.1h0M253.3 559.4h0M220.8 604.6h0M251.4 579.1h0M282.1 528.2h0M231.0 601.4h0M276.9 596.5h0M204.3 559.2h0M233.0 542.7h0M191.5 597.6h0M240.2 597.9h0M247.2 597.3h0M236.5 566.9h0M233.8 565.4h0M295.8 531.8h0M299.0 525.5h0M197.3 596.6h0M289.4 532.0h0M177.7 607.6h0M215.8 576.8h0M237.4 582.0h0M248.4 562.1h0M203.8 618.7h0M216.3 592.8h0M247.1 602.1h0M217.4 571.0h0M219.4 601.6h0M269.8 577.9h0M280.0 571.7h0M241.8 597.1h0M244.8 598.7h0M243.4 557.6h0M226.6 568.3h0M224.4 558.8h0M204.1 610.1h0M269.1 553.1h0M240.9 627.8h0M238.8 551.8h0M251.8 596.6h0M264.6 528.2h0M298.9 525.6h0M233.6 521.6h0M228.7 567.1h0M251.9 586.5h0M211.5 530.6h0M293.2 512.0h0M279.8 522.7h0M270.9 510.1h0M239.5 575.4h0M272.6 620.4h0M284.6 556.6h0M263.4 577.6h0M233.3 560.1h0M179.2 616.2h0M280.6 537.4h0M230.5 601.9h0M211.6 558.0h0M278.4 536.9h0M257.2 584.2h0M189.4 562.8h0M240.3 531.9h0M233.7 560.5h0M282.4 567.6h0M171.1 599.7h0M229.3 576.3h0M238.8 586.2h0M298.8 545.1h0M202.4 597.3h0M130.8 668.5h0M190.8 600.9h0M254.3 595.6h0M275.3 556.6h0M310.9 542.9h0M259.6 541.2h0M213.2 601.3h0M278.2 550.5h0M243.7 611.8h0M236.4 544.6h0M244.8 513.0h0M293.2 549.7h0M209.4 575.9h0M204.7 573.7h0M241.6 577.6h0M241.6 548.7h0M212.7 602.5h0M210.2 592.4h0M258.7 566.2h0M295.7 561.5h0M271.6 595.5h0M270.5 530.9h0M292.1 543.9h0M167.4 632.2h0M185.9 633.4h0M216.9 589.9h0M198.1 622.7h0M206.0 577.6h0M246.8 569.7h0M194.6 586.7h0M227.0 552.8h0M165.4 607.8h0M206.6 575.1h0M296.0 513.5h0M223.2 569.2h0M256.6 627.0h0M271.4 525.9h0M225.2 575.0h0M266.4 545.0h0M252.4 525.4h0M271.0 563.6h0M219.6 571.7h0M188.6 657.8h0M204.7 551.8h0M222.7 584.9h0M264.8 568.1h0M236.2 583.1h0M228.8 564.2h0M237.2 625.6h0M286.5 499.5h0M221.9 580.4h0M302.4 544.6h0M196.8 558.8h0M221.3 560.1h0M277.1 541.1h0M264.1 586.2h0M211.1 559.4h0M239.9 567.2h0M216.8 608.6h0M276.9 559.9h0M264.9 553.6h0M216.6 606.5h0M259.4 541.2h0M230.0 594.5h0M241.3 549.7h0M246.6 563.0h0M222.4 570.8h0M260.5 590.7h0M261.9 560.6h0M260.5 547.2h0M286.7 541.0h0M233.6 587.6h0M187.0 592.5h0M225.3 591.3h0M251.9 569.6h0M245.0 539.5h0M266.4 515.8h0M275.2 508.4h0M239.6 558.6h0M239.9 589.7h0M206.1 599.1h0M283.9 521.6h0M233.9 573.9h0M202.4 552.2h0M201.2 603.6h0M228.1 556.2h0M304.1 576.0h0M273.9 565.1h0M178.8 592.1h0M239.4 563.6h0M254.3 562.4h0M268.3 589.7h0M257.4 562.3h0M219.4 593.1h0M260.0 581.6h0M222.8 577.3h0M157.8 639.2h0M216.8 603.8h0M217.7 527.6h0M280.9 543.5h0M284.8 518.0h0M203.8 607.1h0M250.8 581.3h0M247.6 606.1h0M188.8 636.9h0M165.0 647.9h0M240.5 561.8h0M249.4 595.2h0M221.2 608.0h0M139.6 643.4h0M243.0 554.4h0M221.8 595.2h0M209.8 574.6h0M231.6 607.4h0M200.6 579.8h0M265.7 562.6h0M244.5 557.0h0M222.6 615.0h0M255.0 571.8h0M242.9 574.3h0M185.6 622.4h0M238.6 560.8h0M226.5 581.0h0M177.0 594.1h0M219.0 602.3h0M260.6 559.4h0M220.2 623.4h0M298.4 527.0h0M309.6 575.6h0M232.3 597.9h0M265.4 560.2h0M320.9 519.4h0M231.3 577.1h0M209.5 645.7h0M227.8 616.0h0M191.2 623.8h0M192.1 604.4h0M252.2 606.6h0M228.1 605.6h0M253.6 559.8h0M262.9 562.7h0M214.7 576.8h0M236.6 569.0h0M233.7 619.6h0M218.3 616.3h0M211.9 590.7h0M256.3 560.4h0M238.7 594.1h0M256.9 544.2h0M282.7 574.8h0M283.2 570.2h0M201.3 598.7h0M211.1 586.4h0M234.2 597.9h0M248.9 576.2h0M280.3 583.6h0M207.0 615.3h0M227.3 544.4h0M253.6 602.0h0M291.5 511.2h0M297.3 564.5h0M205.3 563.1h0M235.9 592.9h0M213.0 620.8h0M276.8 561.6h0M261.3 567.8h0M230.3 576.8h0M220.6 615.2h0M255.5 610.0h0M281.9 562.7h0M214.5 604.2h0M231.6 603.6h0M248.5 576.5h0M244.8 539.5h0M257.1 536.1h0M205.6 587.2h0M221.2 551.4h0M163.2 564.8h0M246.3 534.3h0M285.4 599.5h0M164.8 635.7h0M219.8 579.1h0M278.7 530.7h0M238.6 610.6h0M171.1 553.0h0M289.2 568.6h0M189.2 628.9h0M297.0 602.9h0M221.6 561.2h0M216.9 561.1h0M245.2 548.6h0M243.3 568.0h0M267.3 552.0h0M263.5 560.7h0M238.4 527.8h0M295.1 527.5h0M271.6 530.5h0M254.7 612.8h0M249.3 615.1h0M240.4 544.4h0M241.1 558.5h0M269.7 546.1h0M262.4 566.4h0M245.7 564.6h0M283.2 565.3h0M234.0 561.4h0M260.9 609.8h0M277.2 553.7h0M201.1 612.9h0M233.9 602.2h0M308.4 546.4h0M207.2 598.2h0M288.5 554.0h0M203.3 549.9h0M259.7 598.8h0M203.1 620.9h0M220.4 585.6h0M229.7 581.6h0M223.0 574.3h0M283.0 528.6h0M276.2 547.8h0M277.7 580.2h0M251.6 506.9h0M307.2 535.8h0M283.8 552.1h0M256.6 565.3h0M203.7 617.8h0M270.5 580.7h0M269.3 560.3h0M247.8 564.8h0M271.6 545.2h0M273.8 586.6h0M232.6 560.8h0M265.9 592.1h0M257.5 538.0h0M256.2 498.0h0M230.9 615.5h0M226.3 569.7h0M248.7 543.4h0M299.3 558.3h0M333.8 487.8h0M229.9 622.5h0M203.5 612.2h0M231.0 565.0h0M211.9 548.5h0M228.0 596.1h0M259.4 605.6h0M208.9 577.7h0M267.6 516.4h0M274.6 543.6h0M302.6 564.2h0M314.2 576.4h0M282.6 477.8h0M331.5 522.5h0M224.9 630.2h0M254.8 618.3h0M250.8 535.6h0M261.0 528.6h0M283.6 555.8h0M231.7 593.1h0M310.2 518.4h0M293.3 524.5h0M257.7 559.9h0M262.3 599.6h0M207.0 584.4h0M148.7 555.2h0M241.0 605.1h0M256.6 588.6h0M253.2 591.4h0M202.1 618.3h0M227.1 539.5h0M311.9 518.1h0M272.5 587.8h0M268.2 593.8h0M232.6 582.3h0M272.9 579.1h0M293.9 538.5h0M273.7 552.7h0M229.0 625.3h0M255.5 514.9h0M210.8 613.7h0M232.9 539.5h0M267.3 557.4h0M224.1 592.7h0M235.7 638.2h0M299.6 563.8h0M238.2 546.0h0M274.0 535.0h0M233.1 604.6h0M244.8 566.8h0M230.9 617.3h0M167.7 620.3h0M198.6 628.4h0M228.6 546.8h0M301.2 561.1h0M222.7 582.0h0M243.5 579.8h0M268.8 579.9h0M255.8 547.4h0M231.7 570.4h0M309.8 531.0h0M295.9 558.3h0M151.4 608.5h0M281.4 585.8h0M265.5 555.4h0M282.2 561.4h0M248.1 656.7h0M276.3 596.5h0M318.4 547.5h0M310.1 480.8h0M313.1 502.8h0M285.0 570.0h0M280.0 523.6h0M280.7 582.3h0M201.9 563.5h0M331.6 539.3h0M253.8 594.3h0M257.1 612.4h0M249.3 576.7h0M262.8 537.5h0M163.6 617.7h0M253.5 475.7h0M196.3 617.1h0M207.0 560.1h0M173.6 584.6h0M179.0 604.5h0M267.1 568.5h0M225.9 602.8h0M240.7 555.7h0M238.1 554.9h0M200.2 603.0h0M217.5 608.4h0M196.4 635.5h0M232.6 583.3h0M159.5 666.8h0M229.4 603.7h0M279.3 501.9h0M290.6 576.7h0M288.2 565.5h0M263.3 540.5h0M205.9 581.9h0M279.0 564.5h0M264.2 552.4h0M254.5 573.4h0M197.9 597.8h0M259.2 591.2h0M298.3 532.1h0M272.7 554.6h0M235.5 577.3h0M265.1 553.6h0M244.4 572.3h0M251.0 582.4h0M276.6 556.3h0M257.4 584.0h0M247.0 638.9h0M258.9 590.8h0M212.8 602.5h0M206.0 594.5h0M262.7 556.5h0M221.5 551.1h0M265.6 523.5h0M173.7 569.3h0M290.0 558.4h0M240.3 548.8h0M308.0 602.8h0M149.3 656.7h0M179.7 563.9h0M297.9 552.0h0M250.2 576.1h0M255.9 558.5h0M249.0 559.0h0M250.4 579.9h0M264.9 565.6h0M205.6 634.5h0M237.9 569.2h0M294.1 525.2h0M251.2 546.8h0M220.6 582.4h0M248.0 588.5h0M284.3 563.9h0M236.7 601.0h0M237.5 617.5h0M263.2 552.7h0M276.9 576.6h0M300.9 485.8h0M239.4 569.8h0M257.7 530.3h0M284.4 595.9h0M171.6 616.8h0M250.0 548.3h0M262.2 543.5h0M241.4 565.9h0M211.9 576.8h0M267.0 584.0h0M292.3 573.4h0M241.3 589.6h0M226.2 623.2h0M236.5 551.7h0M304.4 573.5h0M292.5 577.6h0M246.5 579.4h0M202.8 551.6h0M196.4 592.5h0M232.6 566.7h0M232.8 577.7h0M255.2 526.0h0M201.6 580.2h0M240.2 615.9h0M265.5 596.4h0M180.3 602.9h0M333.2 521.1h0M267.2 577.2h0M265.3 554.8h0M195.2 564.7h0M205.8 607.8h0M284.3 516.0h0M279.3 518.3h0M289.7 568.1h0M273.3 538.9h0M269.3 564.2h0M202.7 595.0h0M255.3 544.2h0M222.1 564.2h0M267.1 582.0h0M316.2 606.2h0M270.2 546.2h0M284.6 525.9h0M233.6 567.1h0M206.3 584.3h0M246.2 553.5h0M285.6 539.9h0M302.2 562.6h0M243.5 568.3h0M255.5 552.8h0M230.5 598.6h0M179.7 605.4h0M249.1 542.0h0M259.2 513.4h0M229.9 562.4h0M239.2 521.3h0M176.6 611.0h0M248.1 577.0h0M299.1 509.6h0M245.0 578.9h0M268.8 572.6h0M263.0 595.3h0M216.8 589.4h0M254.0 577.4h0M214.4 625.2h0M358.1 550.9h0M253.8 559.7h0M204.0 573.6h0M186.9 617.6h0M303.3 563.4h0M269.5 567.9h0M193.5 617.0h0M224.3 554.1h0M199.2 571.7h0M288.1 567.0h0M225.7 589.5h0M320.0 581.1h0M265.8 596.5h0M233.5 578.8h0M297.5 576.4h0M165.1 571.7h0M213.8 561.7h0M230.4 568.9h0M287.0 544.1h0M287.3 568.3h0M259.6 564.8h0M177.5 660.0h0M225.5 566.1h0M203.4 576.3h0M293.9 526.5h0M228.9 586.2h0M268.5 518.7h0M317.3 533.7h0M243.0 569.3h0M272.7 573.1h0M231.1 593.3h0M247.7 614.6h0M247.5 586.6h0M246.4 581.7h0M248.5 577.3h0M230.7 609.9h0M317.8 574.2h0M220.9 609.9h0M255.3 578.3h0M234.4 552.4h0M158.8 644.9h0M283.2 544.7h0M254.7 578.0h0M192.8 610.4h0M217.7 613.9h0M183.5 549.1h0M256.6 562.8h0M305.7 545.2h0M292.5 530.7h0M195.7 627.4h0M179.2 632.0h0M265.8 557.4h0M310.3 571.6h0M247.4 574.7h0M285.8 514.7h0M191.7 633.2h0M241.0 575.9h0M262.3 544.5h0M229.4 620.8h0M236.5 570.6h0M271.6 559.3h0M221.1 626.8h0M206.9 594.6h0M273.9 540.4h0M254.5 542.7h0M206.7 599.5h0M261.7 528.5h0M223.4 579.4h0M269.7 560.1h0M244.7 596.1h0M233.9 591.3h0M215.2 575.8h0M252.7 568.9h0M243.2 541.9h0M317.9 528.8h0M243.2 574.6h0M193.0 539.7h0M324.7 544.3h0M166.4 602.9h0M308.5 502.3h0M211.6 583.6h0M298.4 523.8h0M237.7 556.6h0M265.7 607.0h0M246.0 530.5h0M240.5 587.2h0M264.8 562.1h0M220.0 544.0h0M263.1 568.0h0M203.0 595.9h0M216.5 573.4h0M225.1 601.8h0M240.8 557.5h0M291.4 547.6h0M212.4 599.6h0M211.4 612.3h0M201.2 581.7h0M228.9 636.9h0M266.1 578.7h0M215.7 609.3h0M233.1 565.2h0M221.7 522.9h0M247.6 557.6h0M166.8 580.9h0M267.3 594.4h0M280.0 522.7h0M212.2 619.3h0M241.7 593.2h0M209.3 599.5h0M283.0 590.1h0M268.7 544.5h0M356.1 490.0h0M236.4 559.4h0M210.7 631.1h0M226.0 634.6h0M196.1 611.1h0M252.6 524.2h0M256.5 620.3h0M280.2 584.8h0M260.2 526.3h0M228.7 562.0h0M294.6 524.3h0M267.1 559.2h0M276.8 549.2h0M199.7 592.7h0M212.7 597.6h0M220.2 644.8h0M229.8 588.9h0M160.8 587.0h0M291.4 575.0h0M237.0 557.9h0M277.8 561.1h0M275.0 575.3h0M302.9 516.4h0M267.5 567.8h0M260.0 603.8h0M217.0 625.9h0M250.4 542.2h0M313.4 529.7h0M177.9 634.5h0M218.7 572.4h0M256.6 572.1h0M308.4 498.2h0M203.9 615.9h0M228.9 616.8h0M252.3 606.1h0M366.1 536.3h0M213.2 608.1h0M240.6 596.4h0M275.4 573.2h0M219.7 615.3h0M261.8 543.3h0M262.9 533.5h0M233.2 609.3h0M260.7 527.1h0M313.6 510.1h0M252.1 536.1h0M230.9 596.4h0M218.6 615.1h0M256.3 533.4h0M287.5 611.0h0M253.2 578.8h0M259.5 580.2h0M349.7 535.2h0M218.2 610.1h0M206.1 599.9h0M258.2 573.7h0M239.4 571.1h0M269.8 587.3h0M295.4 550.8h0M261.5 552.0h0M240.2 574.6h0M267.7 589.5h0M266.3 579.8h0M244.2 560.8h0M225.6 590.7h0M273.4 565.9h0M240.0 580.7h0M203.6 574.9h0M273.9 547.5h0M227.6 492.7h0M226.8 543.8h0M272.6 541.8h0M217.4 565.5h0M240.7 590.4h0M209.6 589.7h0M188.6 581.7h0M258.6 528.8h0M307.2 542.7h0M213.7 603.2h0M292.0 542.5h0M288.3 559.8h0M305.2 552.0h0M206.0 580.7h0M222.1 550.6h0M310.6 555.2h0M245.3 526.7h0M247.0 573.2h0M274.6 597.9h0M271.0 546.9h0M226.4 577.1h0M239.4 562.2h0M272.1 601.2h0M258.0 550.0h0M219.7 562.0h0M296.9 575.8h0M280.5 581.8h0M235.6 553.6h0M226.7 523.8h0M283.3 509.8h0M155.1 656.3h0M252.1 524.4h0M225.2 613.7h0M222.1 588.4h0M282.0 561.3h0M259.9 530.7h0M365.8 478.3h0M240.0 577.1h0M262.5 552.3h0M194.7 622.9h0M287.3 547.1h0M225.7 544.1h0M257.1 562.0h0M298.5 559.0h0M294.2 512.7h0M267.7 570.7h0M298.1 539.8h0M231.8 570.6h0M213.1 582.8h0M190.4 614.7h0M270.3 561.4h0M324.4 540.0h0M236.4 582.1h0M249.3 629.4h0M236.7 588.3h0M267.5 570.8h0M178.6 572.8h0M281.7 523.6h0M290.3 592.4h0M222.6 617.4h0M209.9 574.8h0M214.8 586.6h0M269.9 578.3h0M304.3 567.3h0M210.4 604.4h0M189.2 616.6h0M252.5 602.9h0M258.8 554.1h0M275.7 518.4h0M221.8 589.3h0M276.6 550.2h0M290.7 603.4h0M185.3 632.0h0M236.8 622.5h0M271.7 543.6h0M277.6 530.4h0M226.7 612.0h0M173.1 625.2h0M217.8 614.1h0M192.9 612.1h0M227.5 620.9h0M287.1 530.7h0M223.1 606.6h0M250.6 600.6h0M200.8 624.8h0M283.0 563.5h0M223.1 553.0h0M207.0 586.6h0M319.0 532.1h0M260.0 583.5h0M273.4 582.7h0M170.3 605.2h0M301.9 521.1h0M313.1 508.3h0M241.7 575.3h0M235.4 610.8h0M224.5 600.9h0M288.3 552.2h0M186.5 595.7h0M259.4 563.1h0M323.6 505.6h0M252.0 554.4h0M322.7 514.8h0M247.7 540.8h0M235.0 570.8h0M281.9 521.5h0M243.9 582.0h0M250.6 582.2h0M231.2 536.6h0M200.2 596.8h0M234.8 520.5h0M273.9 610.3h0M288.3 542.1h0M244.0 559.0h0M258.6 504.2h0M211.0 562.5h0M239.9 586.2h0M240.8 567.3h0M241.5 594.2h0M249.1 587.5h0M260.4 549.5h0M293.8 539.6h0M276.5 507.1h0M266.7 633.1h0M200.0 599.7h0M215.9 567.3h0M248.7 534.5h0M250.8 564.2h0M275.0 554.8h0M179.3 591.3h0M253.8 489.7h0M251.8 547.2h0M234.1 604.6h0M216.6 607.7h0M255.7 555.9h0M240.9 595.6h0M265.2 540.2h0M170.0 606.4h0M212.4 592.3h0M305.7 534.0h0M255.8 603.0h0M217.5 606.2h0M234.9 584.9h0M197.5 596.9h0M301.9 540.3h0M302.2 539.8h0M281.2 497.5h0M293.6 590.6h0M265.4 527.8h0M298.0 530.8h0M271.8 578.3h0M301.7 539.5h0M246.8 587.2h0M244.4 579.9h0M226.3 573.6h0M229.8 566.4h0M187.5 596.6h0M298.7 517.6h0M301.6 578.9h0M275.9 522.2h0M286.2 545.7h0M256.7 592.6h0M266.7 529.5h0M196.4 592.3h0M245.2 579.7h0M178.8 610.4h0M222.0 598.2h0M237.0 617.1h0M236.0 576.5h0M207.4 582.9h0M297.0 561.2h0M285.8 556.4h0M227.8 650.1h0M201.0 567.1h0M229.2 600.9h0M283.7 583.8h0M175.0 592.1h0M278.5 526.0h0M242.8 565.0h0M232.6 556.5h0M286.7 550.9h0M248.5 583.5h0M234.3 538.9h0M295.0 611.4h0M187.1 636.3h0M309.4 544.9h0M215.5 565.5h0M215.9 578.7h0M308.4 544.8h0M374.7 509.8h0M294.8 528.8h0M215.8 596.1h0M164.6 610.0h0M257.1 559.3h0M248.0 601.9h0M225.6 605.2h0M243.0 585.0h0M222.0 577.3h0M280.0 525.8h0M244.6 593.7h0M239.9 625.7h0M163.9 585.8h0M257.4 603.9h0M192.2 572.9h0M275.8 577.7h0M246.4 591.2h0M170.2 615.3h0M234.8 603.6h0M202.0 572.8h0M268.8 543.8h0M264.6 630.3h0M287.8 553.7h0M218.0 627.1h0M266.2 559.4h0M194.9 585.9h0M259.7 587.0h0M238.4 575.5h0M256.2 569.5h0M246.8 561.6h0M286.1 552.9h0M234.0 603.2h0M240.1 559.8h0M300.5 535.6h0M244.4 623.2h0M226.8 593.2h0M212.7 615.9h0M247.6 576.8h0M245.7 641.3h0M271.6 575.6h0M240.5 525.6h0M273.3 596.6h0M236.9 577.9h0M307.9 491.8h0M245.1 562.9h0M272.9 532.3h0M261.7 569.6h0M196.8 635.3h0M286.4 578.9h0M230.9 568.0h0M282.1 577.5h0M170.6 618.0h0M176.2 629.6h0M170.5 660.3h0M231.7 559.3h0M245.2 611.9h0M209.0 623.9h0M233.3 579.5h0M220.2 592.0h0M274.4 569.5h0M273.3 548.7h0M257.6 553.7h0M270.9 569.9h0M311.6 563.0h0M270.9 535.7h0M188.1 605.2h0M238.1 591.4h0M234.7 586.8h0M277.2 525.7h0M264.3 506.2h0M278.9 561.2h0M187.1 613.3h0M299.3 528.8h0M240.3 561.0h0M282.6 526.4h0M264.3 563.0h0M212.3 612.3h0M214.6 557.4h0M268.6 581.7h0M289.2 566.2h0M210.9 612.0h0M202.0 589.9h0M167.0 652.3h0M209.6 613.3h0M216.7 540.5h0M233.8 553.9h0M267.9 537.5h0M226.1 557.2h0M202.1 542.9h0M230.0 599.7h0M241.5 573.3h0M250.0 546.3h0M249.4 579.7h0M237.5 566.7h0M265.1 576.4h0M233.0 570.6h0M204.3 580.9h0M237.5 554.0h0M314.7 516.3h0M212.9 575.3h0M337.3 583.6h0M224.9 576.9h0M271.3 561.6h0M182.8 606.5h0M240.2 598.6h0M298.8 526.0h0M199.5 591.8h0M216.5 598.1h0M256.1 564.4h0M257.5 551.7h0M187.8 628.2h0M196.3 573.7h0M255.0 561.3h0M255.3 548.4h0M272.0 571.4h0M237.8 587.0h0M267.9 587.4h0M290.0 566.8h0M197.8 589.3h0M282.8 552.5h0M272.9 551.4h0M292.8 586.2h0M229.6 583.6h0M243.0 540.7h0M247.3 578.1h0M226.1 571.5h0M282.5 567.4h0M252.9 544.0h0M206.6 594.4h0M254.2 558.4h0M204.0 589.9h0M185.1 545.2h0M205.0 604.9h0M245.1 525.8h0M248.7 607.0h0M240.2 569.6h0M264.8 540.8h0M316.9 545.4h0M201.7 567.8h0M260.4 524.3h0M254.7 569.7h0M199.4 596.1h0M225.3 593.7h0M252.0 609.3h0M245.5 585.5h0M212.9 580.5h0M273.2 539.8h0M253.3 572.3h0M268.4 575.8h0M304.1 548.7h0M196.5 608.3h0M281.4 528.9h0M262.2 555.5h0M211.5 649.6h0M242.1 576.8h0M228.6 563.4h0M200.3 658.4h0M274.5 546.4h0M215.2 592.3h0M167.8 585.0h0M275.1 572.4h0M225.9 592.3h0M258.1 577.2h0M251.9 566.2h0M232.6 551.3h0M229.9 572.7h0M149.1 594.5h0M228.8 587.6h0M201.4 595.3h0M263.1 555.0h0M214.8 570.0h0M219.6 569.7h0M247.8 528.3h0M200.9 615.8h0M217.4 593.9h0M225.8 572.7h0M259.1 529.4h0M189.6 592.5h0M272.7 579.3h0M238.7 550.7h0M225.2 597.4h0M256.9 573.3h0M282.0 520.0h0M287.2 522.3h0M204.9 628.6h0M294.4 502.5h0M245.3 563.8h0M293.0 534.9h0M237.6 596.5h0M239.8 580.5h0M196.4 618.6h0M226.9 600.3h0M277.8 557.5h0M285.7 545.6h0M268.5 551.8h0M254.4 603.7h0M227.3 583.9h0M321.1 547.8h0M193.4 532.8h0M198.7 591.0h0M214.9 607.6h0M250.4 576.0h0M226.5 628.7h0M272.7 560.3h0M184.9 577.2h0M274.8 529.0h0M309.6 484.5h0M276.4 569.8h0M232.5 610.4h0M221.0 586.9h0M284.4 546.3h0M179.8 609.6h0M213.8 557.4h0M180.6 616.6h0M238.1 571.7h0M312.4 511.3h0M227.3 575.7h0M283.7 516.4h0M203.0 544.1h0M222.9 571.2h0M222.0 610.2h0M282.9 513.0h0M210.6 613.2h0M218.3 592.1h0M243.7 609.9h0M301.4 564.2h0M245.7 603.0h0M310.1 540.0h0M258.3 605.3h0M234.0 604.3h0M286.5 560.2h0M221.7 548.2h0M209.3 602.2h0M247.5 609.7h0M185.7 628.6h0M198.9 534.1h0M213.3 623.2h0M244.8 612.0h0M282.4 548.2h0M286.4 545.8h0M236.2 560.1h0M252.3 610.4h0M231.9 583.3h0M190.5 612.8h0M258.7 526.8h0M216.1 557.3h0M271.6 610.7h0M223.2 558.6h0M205.7 605.7h0M255.9 572.1h0M222.9 597.0h0M194.3 647.4h0M282.2 561.8h0M255.4 599.4h0M255.2 563.3h0M246.4 587.6h0M222.5 580.8h0M138.5 657.4h0M222.4 622.8h0M226.9 564.0h0M259.2 611.3h0M194.4 574.7h0M261.2 544.1h0M244.6 578.8h0M298.5 542.7h0M216.3 613.2h0M244.0 572.7h0M252.8 621.6h0M265.6 555.3h0M291.9 561.2h0M261.5 569.4h0M191.2 649.4h0M305.7 521.5h0M169.3 568.2h0M267.8 564.9h0M293.2 553.4h0M218.3 539.5h0M242.2 569.6h0M241.2 587.1h0M202.1 653.3h0M257.9 534.8h0M208.0 605.7h0M256.2 550.5h0M266.7 536.7h0M285.1 542.8h0M295.1 540.1h0M260.1 578.5h0M262.5 558.9h0M235.9 574.2h0M241.8 568.6h0M277.4 593.8h0M273.5 588.7h0M262.0 588.5h0M243.9 544.3h0M283.0 548.2h0M202.0 645.8h0M224.4 557.4h0M252.6 536.9h0M286.6 550.3h0M197.9 543.3h0M204.2 576.0h0M198.9 570.8h0M271.5 516.9h0M274.3 543.8h0M301.9 559.8h0M329.6 551.6h0M199.3 622.0h0M237.3 581.5h0M223.7 590.2h0M203.4 613.4h0M245.8 523.9h0M223.7 565.9h0M249.7 552.0h0M230.9 579.2h0M190.0 588.2h0M266.4 558.9h0M265.4 574.8h0M227.8 578.1h0M163.0 657.8h0M157.2 625.1h0M192.4 597.6h0M258.1 563.9h0M269.0 573.8h0M246.7 577.9h0M246.6 554.4h0M148.7 640.2h0M257.5 587.0h0M218.1 545.1h0M233.5 592.1h0M207.6 599.9h0M168.8 619.5h0M272.2 540.9h0M257.8 569.4h0M203.7 623.2h0M185.6 634.9h0M220.0 625.9h0M276.1 550.3h0M263.9 575.3h0M245.5 556.4h0M277.7 543.9h0M256.2 585.0h0M207.9 573.5h0M267.7 567.5h0M241.1 542.3h0M212.3 574.5h0M286.1 539.5h0M259.5 528.4h0M189.4 605.4h0M272.2 580.0h0M250.9 565.2h0M229.9 593.1h0M226.2 512.0h0M205.0 605.5h0M188.6 615.7h0M253.8 590.1h0M261.1 518.2h0M230.9 621.4h0M253.0 581.2h0M229.3 590.3h0M230.2 594.4h0M262.5 569.4h0M261.7 543.7h0M296.6 585.6h0M226.1 598.1h0M256.6 554.2h0M237.3 560.4h0M251.7 539.3h0M290.3 563.1h0M258.5 620.1h0M214.5 584.1h0M226.4 545.1h0M221.5 584.9h0M233.8 563.6h0M218.7 599.6h0M225.1 601.3h0M237.2 566.6h0M255.6 615.6h0M211.8 581.1h0M246.0 569.8h0M245.0 552.4h0M274.9 571.3h0M252.9 544.6h0M262.8 548.9h0M253.6 552.3h0M285.7 581.2h0M238.7 607.5h0M188.1 645.4h0M256.3 568.3h0M206.9 619.5h0M161.0 603.7h0M260.7 578.7h0M241.6 608.7h0M250.1 584.6h0M259.7 557.4h0M236.3 587.6h0M282.5 559.3h0M245.0 570.0h0M231.4 590.7h0M243.6 593.1h0M167.5 612.0h0M261.3 613.9h0M188.4 618.4h0M256.9 592.1h0M237.5 581.9h0M245.2 567.3h0M212.6 593.9h0M303.8 537.1h0M167.5 621.4h0M237.4 586.1h0M209.4 574.8h0M184.0 634.3h0M295.0 563.8h0M249.2 563.8h0M331.5 516.1h0M270.9 554.8h0M260.7 585.6h0M263.2 561.1h0M195.5 583.5h0M194.4 626.0h0M295.1 500.0h0M272.5 542.5h0M215.8 622.5h0M246.9 521.7h0M248.9 593.1h0M287.7 523.5h0M255.8 598.3h0M217.9 599.3h0M273.0 611.9h0M223.8 610.2h0M264.5 597.2h0M222.3 587.5h0M128.6 603.2h0M302.9 541.7h0M209.6 636.3h0M280.4 508.7h0M267.0 580.3h0M224.6 580.8h0M201.4 576.2h0M314.5 512.1h0M252.7 585.3h0M291.4 512.1h0M256.7 570.8h0M279.1 550.6h0M253.0 636.7h0M197.5 566.8h0M216.3 611.7h0M258.7 600.6h0M201.1 564.5h0M232.2 583.0h0M240.9 598.8h0M285.3 563.4h0M304.1 559.3h0M169.2 633.1h0M260.1 536.6h0M311.0 553.3h0M195.0 599.7h0M205.1 619.6h0M287.9 577.5h0M251.2 584.8h0M224.6 607.1h0M252.4 570.9h0M271.5 525.0h0M248.5 510.4h0M259.4 584.6h0M253.2 539.7h0M260.3 579.6h0M253.6 545.7h0M261.7 567.5h0M240.6 586.1h0M287.3 550.6h0M235.8 617.7h0M228.5 616.5h0M194.4 667.1h0M219.9 541.7h0M252.8 526.6h0M240.6 574.5h0M269.1 523.7h0M204.5 591.3h0M223.9 611.0h0M174.8 616.1h0M237.2 617.6h0M282.1 554.6h0M264.1 550.6h0M232.2 572.1h0M264.4 593.1h0M256.8 564.2h0M214.0 622.1h0M209.5 616.6h0M212.7 639.9h0M262.8 554.0h0M267.6 560.2h0M260.9 554.0h0M236.8 538.0h0M315.5 492.4h0M238.9 586.3h0M264.3 531.8h0M253.0 575.7h0M284.4 563.1h0M184.9 598.4h0M265.4 560.0h0M239.4 574.7h0M243.1 581.1h0M208.1 580.2h0M219.7 635.3h0M290.7 523.1h0M278.2 571.3h0M194.1 610.0h0M255.3 582.5h0M228.5 612.6h0M285.5 529.6h0M262.8 580.5h0M274.2 569.2h0M244.2 555.1h0M248.1 546.2h0M222.6 590.3h0M191.4 601.4h0M225.5 572.3h0M291.1 544.9h0M295.3 535.4h0M214.2 606.7h0M214.8 589.8h0M218.6 609.1h0M217.1 559.2h0M202.7 578.6h0M220.3 573.5h0M269.1 554.7h0M271.9 572.4h0M307.0 576.0h0M239.0 596.0h0M166.4 600.2h0M224.1 606.2h0M205.6 555.3h0M231.9 573.1h0M217.5 606.0h0M279.7 547.3h0M213.6 535.2h0M244.4 566.5h0M309.8 485.6h0M243.6 576.0h0M183.6 623.4h0M276.8 546.1h0M261.1 594.1h0M263.9 602.7h0M269.2 606.4h0M209.4 556.7h0M207.8 596.9h0M249.5 623.1h0M182.2 580.1h0M213.4 626.8h0M286.0 571.6h0M197.6 563.4h0M256.7 591.5h0M282.5 525.5h0M241.7 590.6h0M227.6 576.4h0M291.6 522.6h0M193.9 595.5h0M304.5 540.1h0M211.2 582.2h0M245.0 607.8h0M203.8 589.7h0M204.6 591.8h0M279.8 512.8h0M246.5 578.6h0M262.7 541.0h0M196.4 588.9h0M230.8 619.9h0M198.6 612.6h0M242.8 573.3h0M260.5 552.8h0M262.0 580.1h0M262.6 575.2h0M219.9 571.6h0M264.7 546.8h0M227.9 593.8h0M293.1 556.9h0M237.6 559.5h0M287.4 570.0h0M230.7 569.9h0M268.0 549.2h0M252.2 617.5h0M190.3 561.7h0M268.2 525.8h0M210.4 571.2h0M178.6 580.3h0M248.9 569.0h0M285.1 526.8h0M270.7 578.4h0M212.9 625.7h0M181.3 604.2h0M145.8 617.2h0M220.2 587.5h0M224.6 597.4h0M237.7 593.6h0M288.8 566.0h0M236.4 580.2h0M204.1 636.7h0M202.7 594.4h0M208.7 600.4h0M219.1 567.2h0M255.5 597.0h0M232.0 579.9h0M240.9 582.7h0M247.4 582.2h0M251.3 560.1h0M267.4 550.4h0M286.5 526.9h0M207.3 552.0h0M233.0 546.7h0M239.5 600.1h0M238.1 647.0h0M273.7 569.7h0M270.4 563.2h0M220.8 566.0h0M305.0 528.3h0M263.0 547.9h0M269.4 577.8h0M222.1 613.6h0M273.0 555.6h0M232.4 524.4h0M209.4 601.5h0M248.6 606.2h0M206.9 578.4h0M204.4 595.5h0M260.7 564.9h0M273.2 535.6h0M219.1 590.6h0M279.2 610.2h0M287.1 574.4h0M286.3 556.6h0M256.8 543.5h0M233.2 593.7h0M300.7 531.0h0M230.5 552.5h0M261.8 527.2h0M285.6 571.2h0M307.3 539.4h0M255.9 563.6h0M254.8 574.6h0M264.5 522.9h0M253.4 578.4h0M286.2 524.9h0M284.6 566.4h0M308.7 520.9h0M243.9 536.4h0M273.0 521.7h0M220.0 593.9h0M231.1 587.3h0M298.2 532.0h0M236.3 548.0h0M176.9 612.7h0M226.3 559.1h0M226.9 621.3h0M179.3 597.6h0M253.2 552.1h0M276.7 585.6h0M227.1 583.8h0M281.6 528.5h0M170.5 650.7h0M273.3 572.4h0M245.5 611.9h0M328.3 478.1h0M246.7 613.3h0M245.0 617.7h0M245.0 555.4h0M233.3 564.9h0M232.1 607.4h0M271.2 539.1h0M255.9 538.4h0M256.9 583.9h0M256.1 546.4h0M221.2 532.7h0M314.9 541.7h0M209.6 640.3h0M280.0 565.8h0M240.0 511.9h0M284.1 616.5h0M238.1 569.5h0M286.0 568.7h0M264.4 536.9h0M289.1 555.6h0M318.7 530.9h0M254.4 585.3h0M252.3 581.4h0M159.8 590.8h0M247.5 529.1h0M279.3 523.1h0M237.8 595.6h0M249.2 588.9h0M241.0 578.6h0M177.0 605.2h0M278.1 587.0h0M220.9 604.3h0M197.8 616.1h0M282.5 571.8h0M261.3 589.8h0M267.5 552.6h0M251.7 603.9h0M223.3 617.7h0M279.4 530.9h0M215.9 602.8h0M256.4 590.4h0M211.1 603.5h0M207.4 586.6h0M276.7 544.6h0M219.2 546.3h0M305.0 536.6h0M200.5 646.6h0M285.8 558.6h0M236.7 618.7h0M275.3 559.7h0M272.7 562.1h0M181.9 642.4h0M269.5 526.3h0M236.2 565.3h0M213.7 556.5h0M285.2 585.9h0M260.8 539.1h0M262.5 556.3h0M298.1 519.8h0M284.1 534.3h0M251.1 577.9h0M218.5 610.9h0M300.5 533.9h0M224.3 576.6h0M190.0 635.5h0M316.8 574.2h0M322.9 464.0h0M189.0 613.0h0M261.3 602.7h0M196.7 633.1h0M270.8 585.6h0M231.5 576.5h0M197.6 627.7h0M282.2 543.1h0M216.5 606.7h0M262.3 608.3h0M223.8 553.1h0M309.5 521.0h0M286.8 546.5h0M231.8 550.5h0M170.5 621.9h0M261.2 557.7h0M214.0 632.2h0M290.6 592.6h0M304.6 522.4h0M248.2 595.5h0M280.4 546.0h0M200.4 570.8h0M268.6 574.0h0M306.9 570.9h0M197.9 605.2h0M274.0 547.0h0M256.1 536.1h0M278.5 537.0h0M249.3 602.4h0M244.2 542.3h0M290.0 586.0h0M248.0 582.5h0M263.8 579.6h0M197.4 623.3h0M260.7 625.0h0M271.4 610.4h0M241.3 579.9h0M244.8 591.8h0M174.5 580.8h0M208.7 601.1h0M236.7 597.6h0M234.9 575.1h0M324.7 570.5h0M274.3 531.1h0M203.3 592.6h0M328.4 484.8h0M195.7 631.7h0M204.5 642.3h0M214.4 636.6h0M244.1 560.6h0M339.5 534.4h0M236.7 561.4h0M266.1 591.4h0M193.2 638.5h0M230.1 602.7h0M339.2 535.7h0M293.7 538.8h0M279.7 498.1h0M301.8 522.7h0M267.3 530.4h0M266.1 578.6h0M207.4 618.4h0M191.9 635.0h0M222.3 598.2h0M234.5 608.9h0M217.2 553.8h0M272.7 550.1h0M313.3 583.5h0M246.2 593.3h0M189.5 560.1h0M201.4 593.3h0M285.0 533.4h0M275.7 551.6h0M255.2 576.7h0M270.3 638.6h0M288.3 560.6h0M248.5 624.0h0M258.1 551.1h0M234.2 577.1h0M174.2 609.5h0M250.6 536.0h0M245.2 562.0h0M261.1 592.3h0M226.2 566.3h0M261.4 575.2h0M260.4 511.3h0M230.7 602.6h0M209.1 588.2h0M220.6 601.3h0M258.5 569.8h0M278.0 549.1h0M313.1 522.8h0M242.5 610.2h0M264.5 581.6h0M290.5 535.2h0M209.1 590.4h0M269.2 563.5h0M229.0 617.7h0M232.1 559.6h0M274.3 599.5h0M237.3 546.3h0M258.4 612.5h0M205.0 552.3h0M243.6 584.1h0M213.6 610.8h0M234.6 553.0h0M351.8 537.6h0M246.9 562.3h0M238.1 571.4h0M231.3 589.4h0M217.4 608.3h0M313.3 541.8h0M220.3 619.5h0M335.5 528.3h0M238.0 555.8h0M292.4 570.0h0M250.6 567.5h0M222.3 588.1h0M239.2 607.4h0M295.9 542.7h0M239.9 486.0h0M173.6 636.6h0M316.8 561.2h0M219.8 544.2h0M233.8 532.2h0M301.3 518.8h0M182.9 603.2h0M227.1 584.6h0M270.1 563.0h0M269.9 546.8h0M267.8 586.4h0M209.9 599.8h0M281.3 597.9h0M229.1 577.8h0M253.1 626.3h0M211.2 578.5h0M311.8 562.7h0M232.1 590.4h0M243.5 510.6h0M225.6 609.0h0M261.2 589.6h0M195.6 588.7h0M242.7 574.0h0M237.9 553.5h0M308.1 527.8h0M233.9 564.9h0M239.5 539.1h0M252.1 584.0h0M286.0 558.4h0M324.0 513.8h0M263.9 559.9h0M266.7 585.9h0M309.2 607.5h0M249.9 557.7h0M263.8 564.0h0M224.8 609.4h0M241.9 571.0h0M217.9 555.4h0M331.3 552.6h0M277.7 545.5h0M274.2 572.8h0M209.1 600.1h0M252.0 591.5h0M221.1 598.3h0M220.9 578.0h0M195.4 596.7h0M222.4 573.3h0M348.6 512.9h0M224.1 562.8h0M273.7 526.0h0M284.3 547.5h0M265.5 545.5h0M276.8 539.6h0M209.3 577.3h0M307.1 545.3h0M328.5 533.8h0M249.1 580.5h0M220.5 556.2h0M215.5 579.2h0M196.3 590.1h0M270.9 577.4h0M279.8 546.4h0M312.8 514.9h0M197.3 634.9h0M280.1 548.7h0M273.8 516.5h0M237.2 607.2h0M213.5 603.2h0M258.5 543.5h0M332.3 470.8h0M197.9 603.8h0M224.1 562.2h0M226.6 628.5h0M241.3 613.2h0M289.0 555.5h0M228.4 573.0h0M159.0 638.3h0M197.9 565.7h0M197.2 598.5h0M256.4 622.1h0M252.4 556.0h0M202.2 584.1h0M274.1 545.5h0M175.7 655.6h0M238.9 606.6h0M296.4 543.3h0M185.4 621.5h0M269.1 516.6h0M285.8 583.7h0M228.2 615.3h0M252.1 537.8h0M188.6 539.2h0M258.8 517.1h0M199.4 630.2h0M224.1 568.6h0M261.9 612.9h0M231.0 540.0h0M203.1 620.5h0M243.9 579.4h0M234.8 611.8h0M214.1 546.5h0M168.7 662.0h0M237.1 567.6h0M278.9 545.0h0M221.0 572.1h0M223.3 603.9h0M226.2 607.8h0M260.3 569.6h0M186.3 606.0h0M273.8 554.7h0M323.6 537.9h0M262.9 580.4h0M247.0 596.3h0M261.7 565.8h0M263.3 549.0h0M231.7 611.8h0M239.8 581.9h0M236.9 557.2h0M265.2 576.3h0M317.1 533.3h0M250.1 583.5h0M322.8 543.5h0M211.6 593.7h0M273.8 594.9h0M217.6 607.5h0M250.0 615.4h0M241.6 591.7h0M172.3 587.0h0M235.7 583.1h0M260.5 521.6h0M256.7 556.6h0M188.5 642.1h0M189.8 583.6h0M268.7 559.8h0M206.2 581.3h0M323.8 521.8h0M257.1 581.4h0M258.0 586.0h0M238.4 588.1h0M215.0 601.0h0M255.7 538.8h0M236.6 566.7h0M303.1 543.2h0M251.5 595.4h0M254.8 530.0h0M286.3 530.4h0M283.1 512.6h0M167.4 624.7h0M321.1 467.3h0M186.7 583.4h0M206.4 570.5h0M234.0 554.9h0M214.7 582.8h0M315.3 574.4h0M246.7 611.4h0M201.9 561.5h0M230.9 548.9h0M214.8 610.3h0M219.2 599.1h0M260.5 531.3h0M266.2 563.5h0M239.4 588.1h0M194.7 623.9h0M221.0 642.5h0M281.1 567.0h0M266.0 563.7h0M233.4 586.5h0M274.7 544.0h0M173.7 646.4h0M218.9 548.6h0M246.9 541.5h0M257.4 603.7h0M286.2 609.6h0M248.8 585.7h0M257.1 580.9h0M251.6 532.8h0M204.7 610.0h0M238.4 583.6h0M300.7 586.3h0M273.4 591.0h0M233.8 556.8h0M246.3 632.1h0M312.2 555.4h0M306.7 563.1h0M318.1 499.5h0M295.7 466.5h0M240.7 556.8h0M238.7 636.6h0M184.1 596.8h0M295.5 513.9h0M293.5 569.6h0M332.1 502.1h0M216.7 573.2h0M313.0 543.2h0M268.0 629.0h0M252.3 602.1h0M257.4 530.6h0M203.1 557.5h0M244.6 601.3h0M209.3 575.2h0M228.8 628.0h0M255.7 579.2h0M229.2 542.8h0M275.0 537.9h0M220.8 591.0h0M226.5 586.9h0M225.6 516.7h0M255.6 561.6h0M257.7 562.2h0M286.3 552.9h0M236.1 559.5h0M222.5 580.7h0M259.3 564.3h0M317.3 517.8h0M282.4 561.4h0M176.5 606.9h0M252.8 545.9h0M233.4 568.0h0M241.4 605.1h0M280.7 545.2h0M251.0 598.8h0M245.2 584.4h0M187.6 640.9h0M244.9 585.9h0M220.4 565.4h0M258.4 560.3h0M290.3 561.8h0M215.4 568.6h0M240.3 548.4h0M272.4 575.7h0M186.3 662.2h0M221.8 608.1h0M193.1 606.3h0M225.0 593.7h0M244.8 591.1h0M235.5 553.8h0M303.5 544.2h0M278.9 521.3h0M255.9 531.8h0M291.9 559.3h0M322.4 518.3h0M234.6 553.2h0M242.2 556.9h0M262.1 559.9h0M289.8 544.2h0M171.7 615.8h0M246.8 514.5h0M352.4 500.2h0M250.7 525.4h0M323.6 520.7h0M345.0 528.0h0M279.7 571.3h0M338.8 521.5h0M251.9 622.3h0M182.6 615.6h0M231.8 586.4h0M307.2 572.9h0M354.0 487.8h0M273.5 595.5h0M187.8 587.5h0M250.8 580.4h0M173.3 605.6h0M253.9 562.2h0M313.5 543.3h0M214.9 630.0h0M216.5 584.6h0M232.3 618.2h0M236.9 567.6h0M273.4 554.0h0M264.1 603.5h0M279.8 567.5h0M211.5 603.6h0M297.3 520.2h0M276.1 600.9h0M216.4 596.9h0M237.5 581.9h0M238.9 564.7h0M238.6 655.9h0M238.3 494.8h0M236.8 522.3h0M237.9 590.2h0M237.7 610.3h0M237.8 540.0h0M237.6 600.3h0M237.8 584.0h0M237.5 593.4h0M237.9 540.7h0M239.1 587.1h0M237.9 597.3h0M238.5 504.6h0M238.3 623.2h0M236.9 571.8h0M238.0 551.2h0M237.8 565.1h0M237.9 535.0h0M236.3 543.1h0M237.1 646.1h0M237.3 590.3h0M236.8 554.3h0M236.5 614.6h0M237.9 555.1h0M237.0 565.3h0M236.5 624.9h0M237.2 512.4h0M237.7 608.8h0M236.8 575.3h0M236.9 586.9h0M236.6 573.9h0M237.4 487.4h0M238.0 553.0h0M238.8 512.8h0M237.8 580.0h0M236.6 591.1h0M237.3 570.8h0M237.3 546.2h0M240.2 588.5h0M239.2 509.5h0M237.1 528.8h0M237.2 535.3h0M235.4 525.7h0M237.2 620.9h0M238.6 599.1h0M236.9 628.6h0M237.8 556.8h0M237.4 498.3h0M238.9 528.9h0M239.0 603.1h0M238.2 588.2h0M237.0 487.5h0M236.7 592.1h0M237.1 629.0h0M239.7 626.4h0M237.8 561.5h0M238.3 594.0h0M235.7 586.7h0M237.1 561.8h0M238.1 596.9h0M238.2 564.3h0M238.8 571.4h0M238.2 570.8h0M240.2 505.3h0M238.5 659.0h0M239.3 562.2h0M237.2 540.4h0M238.2 542.2h0M237.2 557.4h0M238.3 544.6h0M235.3 628.7h0M236.7 571.2h0M237.5 496.3h0M237.3 549.8h0M238.0 540.6h0M237.2 500.1h0M237.3 507.3h0M237.2 557.8h0M239.1 585.2h0M236.5 517.4h0M237.7 547.1h0M238.5 538.6h0M236.9 549.6h0M236.6 583.6h0M238.7 602.3h0M237.7 535.7h0M236.6 615.9h0M239.3 553.8h0M237.4 542.7h0M237.7 544.3h0M238.9 560.8h0M236.6 563.6h0M237.5 549.5h0M237.2 506.1h0M238.5 618.6h0M236.4 584.2h0M238.2 618.5h0M238.0 578.2h0M238.1 595.2h0M236.6 592.1h0M235.9 598.6h0M238.0 579.7h0M238.8 557.3h0M238.6 557.7h0M237.7 502.2h0M238.5 591.9h0M239.2 521.2h0M237.7 550.2h0M238.2 580.3h0M236.9 583.7h0M239.9 613.9h0M236.9 562.0h0M238.2 564.7h0M237.5 571.9h0M238.7 531.5h0M236.7 624.2h0M236.0 628.9h0M238.2 581.6h0M236.5 536.4h0M238.5 592.6h0M237.7 523.1h0M237.9 567.1h0M236.6 534.8h0M237.8 578.0h0M237.5 626.4h0M238.3 567.4h0M237.7 614.7h0M237.7 583.2h0M238.4 559.0h0M239.1 591.7h0M236.4 605.8h0M237.3 523.7h0M238.1 512.7h0M237.3 525.6h0M236.6 624.5h0M236.9 548.4h0M237.5 596.3h0M237.5 620.4h0M238.4 622.9h0M238.4 546.1h0M237.9 584.0h0M236.6 581.2h0M238.1 500.9h0M236.5 609.0h0M239.4 651.9h0M236.8 617.2h0M236.7 657.0h0M237.4 592.7h0M237.2 583.4h0M236.2 517.5h0M237.4 600.6h0M238.4 647.4h0M236.6 592.2h0M237.5 582.9h0M236.8 515.5h0M238.4 599.8h0M237.4 596.1h0M236.7 563.2h0M237.6 553.3h0M237.5 539.2h0M239.0 539.9h0M236.9 609.1h0M238.0 486.8h0M237.2 557.0h0M237.0 546.5h0M238.4 568.9h0M236.8 531.0h0M237.9 630.7h0M238.4 554.4h0M238.0 653.1h0M237.8 632.2h0M238.7 531.9h0M238.8 599.1h0M236.2 578.1h0M237.6 554.7h0M237.0 595.7h0M237.1 565.0h0M236.7 550.3h0M237.1 575.4h0M239.3 538.6h0M236.8 489.6h0M238.3 605.5h0M238.1 618.3h0M235.9 624.0h0M238.3 568.2h0M238.5 503.8h0M239.1 623.3h0M238.0 622.2h0M239.0 603.4h0M237.8 553.6h0M238.5 615.3h0M236.7 614.7h0M236.9 609.0h0M238.2 609.3h0M236.2 574.7h0M236.2 559.0h0M238.2 625.2h0M237.5 608.4h0M236.7 584.5h0M237.2 556.1h0M236.9 520.3h0M236.9 561.6h0M237.0 548.8h0M237.0 639.6h0M236.1 566.6h0M236.3 579.8h0M237.7 598.7h0M237.5 558.5h0M236.6 642.0h0M237.5 583.3h0M237.9 652.7h0M237.9 580.7h0M237.1 570.6h0M237.7 527.2h0M238.2 572.4h0M237.9 610.6h0M237.6 604.3h0M236.9 497.2h0M237.7 548.6h0M237.4 568.5h0M238.4 576.5h0M237.3 536.7h0M237.6 648.9h0M236.8 575.8h0M238.0 581.6h0M238.0 524.2h0M237.2 614.9h0M237.9 598.1h0M237.5 502.5h0M236.9 514.6h0M236.5 652.2h0M237.6 605.4h0M236.8 547.7h0M239.1 546.3h0M238.4 615.4h0M237.7 619.9h0M238.0 505.3h0M238.3 551.7h0M235.4 543.8h0M237.2 594.0h0M236.7 598.6h0M237.4 592.8h0M235.9 540.3h0M238.1 564.2h0M236.3 526.4h0M237.8 572.5h0M238.0 637.2h0M236.7 559.9h0M237.2 592.1h0M237.0 539.1h0M237.2 557.2h0M237.3 594.0h0M236.8 523.7h0M236.4 557.6h0M236.4 545.2h0M237.4 570.9h0M238.2 557.2h0M238.8 558.5h0M237.6 579.1h0M237.6 578.0h0M237.9 561.0h0M236.6 523.3h0M238.4 561.4h0M238.7 665.8h0M237.1 618.3h0M238.1 644.1h0M237.7 623.8h0M237.0 578.4h0M238.3 604.1h0M237.2 565.1h0M238.1 639.1h0M237.6 599.7h0M236.9 633.7h0M237.8 591.0h0M235.9 552.0h0M238.1 640.2h0M237.9 580.7h0M238.2 537.4h0M237.2 553.5h0M237.6 601.0h0M237.8 582.5h0M238.3 600.8h0M238.7 519.0h0M237.7 563.2h0M238.7 519.1h0M237.2 622.1h0M236.3 513.0h0M237.4 603.2h0M236.7 571.3h0M237.4 526.3h0M237.3 587.5h0M237.3 558.2h0M237.3 599.8h0M236.4 545.1h0M237.4 577.2h0M237.5 519.7h0M238.1 569.9h0M238.8 563.4h0M237.1 609.3h0M235.9 611.8h0M236.5 598.8h0M237.5 552.9h0M237.1 527.3h0M238.6 473.1h0M237.8 568.3h0M236.7 592.4h0M236.9 596.1h0M236.7 541.0h0M239.8 560.1h0M236.7 555.9h0M236.9 487.9h0M236.8 573.6h0M237.0 601.9h0M236.8 572.7h0M237.6 610.9h0M237.0 520.4h0M237.0 570.8h0M237.9 578.7h0M238.6 535.2h0M238.1 568.3h0M237.8 594.3h0M237.4 606.2h0M237.2 528.4h0M237.5 550.4h0M238.1 528.0h0M237.0 555.8h0M237.6 525.1h0M237.6 617.7h0M237.2 597.4h0M236.0 578.3h0M235.5 584.7h0M237.5 602.5h0M238.3 570.8h0M236.7 530.4h0M236.7 483.0h0M238.3 571.8h0M237.9 539.5h0M237.4 634.4h0M236.9 640.6h0M238.5 509.7h0M237.4 565.7h0M238.9 595.5h0M237.8 576.2h0M238.2 634.0h0M237.5 540.1h0M237.0 631.6h0M235.5 558.9h0M236.1 563.0h0M238.8 588.5h0M236.7 540.5h0M239.1 629.9h0M238.1 568.1h0M239.1 519.1h0M237.0 562.4h0M237.8 544.3h0M238.0 572.0h0M237.4 561.0h0M236.2 579.8h0M237.5 634.5h0M238.9 605.4h0M236.4 559.3h0M237.3 568.8h0M239.5 548.0h0M237.4 586.8h0M238.1 547.7h0M237.9 506.9h0M238.1 587.3h0M237.2 573.3h0M235.8 546.4h0M237.7 515.4h0M239.2 557.6h0M238.6 542.3h0M236.9 569.9h0M238.4 556.7h0M237.2 529.8h0M237.5 562.9h0M235.9 535.4h0M236.6 557.8h0M237.7 611.2h0M236.6 585.0h0M237.7 591.9h0M236.9 554.9h0M237.6 583.6h0M238.4 590.8h0M237.5 537.9h0M236.2 536.2h0M237.0 578.2h0M235.8 511.3h0M236.3 477.5h0M237.9 542.2h0M238.1 597.0h0M238.0 587.5h0M237.9 512.0h0M238.2 547.2h0M238.8 598.0h0M239.3 566.0h0M237.3 544.2h0M237.1 528.9h0M237.6 552.9h0M238.4 586.3h0M238.1 543.3h0M237.4 638.1h0M237.2 538.8h0M237.7 628.3h0M237.0 605.8h0M239.6 620.1h0M237.7 570.0h0M236.3 648.7h0M237.6 644.3h0M236.5 524.6h0M237.3 581.1h0M237.0 505.7h0M236.5 620.4h0M237.4 640.0h0M237.6 631.7h0" stroke="#8c8c8c" stroke-width="4.8" stroke-linecap="round" fill="none" clip-path="url(#cd)"/>
<line x1="117.6" y1="639.4" x2="330.8" y2="525.1" stroke="#000" stroke-width="3.4"/>
<line x1="117.60" y1="454.60" x2="117.60" y2="676.80" stroke="#3a3a3a" stroke-width="1.1"/>
<line x1="117.60" y1="676.80" x2="330.80" y2="676.80" stroke="#3a3a3a" stroke-width="1.1"/>
<line x1="109.10" y1="454.90" x2="117.60" y2="454.90" stroke="#3a3a3a" stroke-width="1.1"/>
<text x="100.5" y="460.9" font-size="18" text-anchor="end">2.0</text>
<line x1="109.10" y1="484.65" x2="117.60" y2="484.65" stroke="#3a3a3a" stroke-width="1.1"/>
<text x="100.5" y="490.6" font-size="18" text-anchor="end">1.5</text>
<line x1="109.10" y1="514.40" x2="117.60" y2="514.40" stroke="#3a3a3a" stroke-width="1.1"/>
<text x="100.5" y="520.4" font-size="18" text-anchor="end">1.0</text>
<line x1="109.10" y1="544.15" x2="117.60" y2="544.15" stroke="#3a3a3a" stroke-width="1.1"/>
<text x="100.5" y="550.1" font-size="18" text-anchor="end">0.5</text>
<line x1="109.10" y1="573.90" x2="117.60" y2="573.90" stroke="#3a3a3a" stroke-width="1.1"/>
<text x="100.5" y="579.9" font-size="18" text-anchor="end">0</text>
<line x1="109.10" y1="603.65" x2="117.60" y2="603.65" stroke="#3a3a3a" stroke-width="1.1"/>
<text x="100.5" y="609.6" font-size="18" text-anchor="end">−0.5</text>
<line x1="109.10" y1="633.40" x2="117.60" y2="633.40" stroke="#3a3a3a" stroke-width="1.1"/>
<text x="100.5" y="639.4" font-size="18" text-anchor="end">−1.0</text>
<line x1="109.10" y1="663.15" x2="117.60" y2="663.15" stroke="#3a3a3a" stroke-width="1.1"/>
<text x="100.5" y="669.1" font-size="18" text-anchor="end">−1.5</text>
<line x1="142.60" y1="676.80" x2="142.60" y2="685.80" stroke="#3a3a3a" stroke-width="1.1"/>
<text x="142.6" y="708.3" font-size="18" text-anchor="middle">−1.0</text>
<line x1="189.60" y1="676.80" x2="189.60" y2="685.80" stroke="#3a3a3a" stroke-width="1.1"/>
<text x="189.6" y="708.3" font-size="18" text-anchor="middle">−0.5</text>
<line x1="236.60" y1="676.80" x2="236.60" y2="685.80" stroke="#3a3a3a" stroke-width="1.1"/>
<text x="236.6" y="708.3" font-size="18" text-anchor="middle">0</text>
<line x1="283.60" y1="676.80" x2="283.60" y2="685.80" stroke="#3a3a3a" stroke-width="1.1"/>
<text x="283.6" y="708.3" font-size="18" text-anchor="middle">0.5</text>
<line x1="330.60" y1="676.80" x2="330.60" y2="685.80" stroke="#3a3a3a" stroke-width="1.1"/>
<text x="330.6" y="708.3" font-size="18" text-anchor="middle">1.0</text>
<text x="224.5" y="738.8" font-size="20.5" text-anchor="middle" textLength="207.5" lengthAdjust="spacingAndGlyphs">Elastic net regression</text>
<text x="224.0" y="762.9" font-size="20.5" text-anchor="middle" textLength="164.5" lengthAdjust="spacingAndGlyphs">coefficients run 1</text>
<text x="21.8" y="565.5" font-size="20.5" text-anchor="middle" textLength="206.5" lengthAdjust="spacingAndGlyphs" transform="rotate(-90 21.8 565.5)">Elastic net regression</text>
<text x="46.2" y="566.4" font-size="20.5" text-anchor="middle" textLength="166.3" lengthAdjust="spacingAndGlyphs" transform="rotate(-90 46.2 566.4)">coefficients run 2</text>
<polygon points="117.6,414.7 117.6,414.5 119.7,414.5 121.9,414.5 124.0,414.5 126.1,414.5 128.3,414.4 130.4,414.4 132.5,414.4 134.7,414.4 136.8,414.3 138.9,414.3 141.1,414.3 143.2,414.2 145.3,414.2 147.4,414.2 149.6,414.1 151.7,414.1 153.8,414.0 156.0,414.0 158.1,413.9 160.2,413.9 162.4,413.8 164.5,413.8 166.6,413.7 168.8,413.7 170.9,413.6 173.0,413.6 175.2,413.5 177.3,413.5 179.4,413.4 181.6,413.3 183.7,413.3 185.8,413.2 188.0,413.2 190.1,413.1 192.2,413.0 194.4,413.0 196.5,412.9 198.6,412.9 200.7,412.8 202.9,412.8 205.0,412.7 207.1,412.7 209.3,412.6 211.4,412.5 213.5,412.4 215.7,412.3 217.8,412.1 219.9,411.9 222.1,411.5 224.2,411.0 226.3,410.5 228.5,409.9 230.6,409.3 232.7,408.8 234.9,408.5 237.0,408.4 239.1,408.6 241.3,409.0 243.4,409.5 245.5,410.1 247.7,410.7 249.8,411.2 251.9,411.6 254.0,412.0 256.2,412.2 258.3,412.4 260.4,412.5 262.6,412.5 264.7,412.6 266.8,412.7 269.0,412.7 271.1,412.8 273.2,412.8 275.4,412.9 277.5,412.9 279.6,413.0 281.8,413.1 283.9,413.1 286.0,413.2 288.2,413.2 290.3,413.3 292.4,413.4 294.6,413.4 296.7,413.5 298.8,413.5 301.0,413.6 303.1,413.7 305.2,413.7 307.3,413.8 309.5,413.8 311.6,413.9 313.7,413.9 315.9,414.0 318.0,414.0 320.1,414.0 322.3,414.1 324.4,414.1 326.5,414.2 328.7,414.2 330.8,414.2 330.8,414.7" fill="#c8c8c8"/>
<rect x="233.6" y="404.2" width="4.8" height="10" fill="#c8c8c8"/>
<polyline points="117.6,414.5 119.7,414.5 121.9,414.5 124.0,414.5 126.1,414.5 128.3,414.4 130.4,414.4 132.5,414.4 134.7,414.4 136.8,414.3 138.9,414.3 141.1,414.3 143.2,414.2 145.3,414.2 147.4,414.2 149.6,414.1 151.7,414.1 153.8,414.0 156.0,414.0 158.1,413.9 160.2,413.9 162.4,413.8 164.5,413.8 166.6,413.7 168.8,413.7 170.9,413.6 173.0,413.6 175.2,413.5 177.3,413.5 179.4,413.4 181.6,413.3 183.7,413.3 185.8,413.2 188.0,413.2 190.1,413.1 192.2,413.0 194.4,413.0 196.5,412.9 198.6,412.9 200.7,412.8 202.9,412.8 205.0,412.7 207.1,412.7 209.3,412.6 211.4,412.5 213.5,412.4 215.7,412.3 217.8,412.1 219.9,411.9 222.1,411.5 224.2,411.0 226.3,410.5 228.5,409.9 230.6,409.3 232.7,408.8 234.9,408.5 237.0,408.4 239.1,408.6 241.3,409.0 243.4,409.5 245.5,410.1 247.7,410.7 249.8,411.2 251.9,411.6 254.0,412.0 256.2,412.2 258.3,412.4 260.4,412.5 262.6,412.5 264.7,412.6 266.8,412.7 269.0,412.7 271.1,412.8 273.2,412.8 275.4,412.9 277.5,412.9 279.6,413.0 281.8,413.1 283.9,413.1 286.0,413.2 288.2,413.2 290.3,413.3 292.4,413.4 294.6,413.4 296.7,413.5 298.8,413.5 301.0,413.6 303.1,413.7 305.2,413.7 307.3,413.8 309.5,413.8 311.6,413.9 313.7,413.9 315.9,414.0 318.0,414.0 320.1,414.0 322.3,414.1 324.4,414.1 326.5,414.2 328.7,414.2 330.8,414.2" fill="none" stroke="#8a8a8a" stroke-width="2"/>
<line x1="117.60" y1="414.70" x2="330.80" y2="414.70" stroke="#3a3a3a" stroke-width="1.6"/>
<polygon points="373.5,462.6 373.6,462.6 373.6,464.7 373.6,466.8 373.7,468.8 373.7,470.9 373.7,473.0 373.7,475.1 373.7,477.2 373.7,479.3 373.8,481.3 373.8,483.4 373.8,485.5 373.8,487.6 373.9,489.7 373.9,491.7 373.9,493.8 374.0,495.9 374.0,498.0 374.0,500.1 374.1,502.2 374.1,504.2 374.2,506.3 374.2,508.4 374.2,510.5 374.3,512.6 374.3,514.6 374.4,516.7 374.4,518.8 374.5,520.9 374.5,523.0 374.6,525.1 374.6,527.1 374.7,529.2 374.7,531.3 374.8,533.4 374.8,535.5 374.9,537.6 375.0,539.6 375.1,541.7 375.2,543.8 375.3,545.9 375.5,548.0 375.7,550.0 375.9,552.1 376.2,554.2 376.5,556.3 376.8,558.4 377.1,560.5 377.4,562.5 377.8,564.6 378.0,566.7 378.3,568.8 378.4,570.9 378.5,572.9 378.5,575.0 378.4,577.1 378.2,579.2 378.0,581.3 377.7,583.4 377.4,585.4 377.1,587.5 376.8,589.6 376.5,591.7 376.2,593.8 375.9,595.8 375.7,597.9 375.5,600.0 375.3,602.1 375.2,604.2 375.1,606.3 375.0,608.3 374.9,610.4 374.8,612.5 374.8,614.6 374.7,616.7 374.7,618.8 374.6,620.8 374.6,622.9 374.5,625.0 374.5,627.1 374.4,629.2 374.4,631.2 374.3,633.3 374.3,635.4 374.2,637.5 374.2,639.6 374.2,641.7 374.1,643.7 374.1,645.8 374.0,647.9 374.0,650.0 374.0,652.1 373.9,654.1 373.9,656.2 373.9,658.3 373.8,660.4 373.8,662.5 373.8,664.6 373.8,666.6 373.7,668.7 373.7,670.8 373.5,670.8" fill="#cccccc"/>
<line x1="374.50" y1="533.00" x2="378.00" y2="533.00" stroke="#fff" stroke-width="1.2"/>
<line x1="374.50" y1="548.00" x2="378.00" y2="548.00" stroke="#fff" stroke-width="1.2"/>
<line x1="374.50" y1="563.00" x2="378.00" y2="563.00" stroke="#fff" stroke-width="1.2"/>
<line x1="374.50" y1="578.00" x2="378.00" y2="578.00" stroke="#fff" stroke-width="1.2"/>
<line x1="374.50" y1="593.00" x2="378.00" y2="593.00" stroke="#fff" stroke-width="1.2"/>
<line x1="374.50" y1="608.00" x2="378.00" y2="608.00" stroke="#fff" stroke-width="1.2"/>
<polyline points="373.6,462.6 373.6,464.7 373.6,466.8 373.7,468.8 373.7,470.9 373.7,473.0 373.7,475.1 373.7,477.2 373.7,479.3 373.8,481.3 373.8,483.4 373.8,485.5 373.8,487.6 373.9,489.7 373.9,491.7 373.9,493.8 374.0,495.9 374.0,498.0 374.0,500.1 374.1,502.2 374.1,504.2 374.2,506.3 374.2,508.4 374.2,510.5 374.3,512.6 374.3,514.6 374.4,516.7 374.4,518.8 374.5,520.9 374.5,523.0 374.6,525.1 374.6,527.1 374.7,529.2 374.7,531.3 374.8,533.4 374.8,535.5 374.9,537.6 375.0,539.6 375.1,541.7 375.2,543.8 375.3,545.9 375.5,548.0 375.7,550.0 375.9,552.1 376.2,554.2 376.5,556.3 376.8,558.4 377.1,560.5 377.4,562.5 377.8,564.6 378.0,566.7 378.3,568.8 378.4,570.9 378.5,572.9 378.5,575.0 378.4,577.1 378.2,579.2 378.0,581.3 377.7,583.4 377.4,585.4 377.1,587.5 376.8,589.6 376.5,591.7 376.2,593.8 375.9,595.8 375.7,597.9 375.5,600.0 375.3,602.1 375.2,604.2 375.1,606.3 375.0,608.3 374.9,610.4 374.8,612.5 374.8,614.6 374.7,616.7 374.7,618.8 374.6,620.8 374.6,622.9 374.5,625.0 374.5,627.1 374.4,629.2 374.4,631.2 374.3,633.3 374.3,635.4 374.2,637.5 374.2,639.6 374.2,641.7 374.1,643.7 374.1,645.8 374.0,647.9 374.0,650.0 374.0,652.1 373.9,654.1 373.9,656.2 373.9,658.3 373.8,660.4 373.8,662.5 373.8,664.6 373.8,666.6 373.7,668.7 373.7,670.8" fill="none" stroke="#8a8a8a" stroke-width="2.2"/>
<line x1="373.50" y1="454.60" x2="373.50" y2="676.80" stroke="#3a3a3a" stroke-width="1.4"/>
<text x="0" y="0" font-size="29" font-weight="bold" fill="#000" stroke="#000" stroke-width="1" textLength="19.35" lengthAdjust="spacingAndGlyphs" transform="translate(443.4 407.9) scale(1 1.0)">e</text>
<clipPath id="ce"><rect x="560.0" y="454.6" width="213.8" height="222.2"/></clipPath>
<path d="M752.2 562.9h0M574.4 539.4h0M703.2 546.7h0M660.6 551.8h0M704.2 547.0h0M568.4 513.2h0M570.9 544.2h0M597.6 534.6h0M768.3 603.9h0M624.3 549.1h0M685.6 574.0h0M769.4 649.9h0M710.0 573.5h0M604.7 533.8h0M650.3 568.3h0M582.1 554.5h0M620.6 517.4h0M624.3 528.3h0M564.1 480.4h0M739.3 556.0h0M750.9 612.1h0M670.1 550.6h0M695.2 559.3h0M686.7 536.1h0M700.7 586.4h0M771.6 617.6h0M682.9 527.3h0M590.2 552.9h0M707.4 560.5h0M706.9 558.2h0M741.8 620.3h0M704.7 583.2h0M628.8 554.0h0M568.7 531.0h0M655.3 571.1h0M693.7 542.8h0M716.2 572.4h0M702.8 543.6h0M687.2 537.7h0M688.7 604.6h0M609.7 505.4h0M643.5 551.3h0M648.9 527.3h0M568.9 484.5h0M762.7 549.2h0M577.8 488.8h0M766.5 590.5h0M728.7 590.7h0M607.3 525.9h0M637.2 533.5h0M612.8 530.4h0M691.7 559.6h0M566.6 494.2h0M650.4 551.5h0M720.3 560.2h0M656.9 547.0h0M693.6 535.0h0M651.1 555.9h0M693.6 573.0h0M743.9 603.2h0M703.7 544.6h0M751.0 569.2h0M739.0 582.3h0M666.8 505.3h0M648.6 565.3h0M708.8 547.7h0M705.2 551.6h0M627.5 549.2h0M692.8 584.5h0M643.0 558.7h0M768.5 562.5h0M609.6 559.8h0M649.3 549.7h0M741.1 599.6h0M660.8 549.8h0M615.7 552.6h0M608.2 546.4h0M714.4 603.0h0M701.8 555.7h0M627.6 553.5h0M626.1 538.8h0M670.9 598.4h0M744.8 618.7h0M700.3 573.7h0M572.2 539.5h0M693.4 567.5h0M760.5 604.2h0M648.6 529.7h0M745.4 566.1h0M751.6 551.9h0M607.4 511.4h0M635.2 510.3h0M607.2 498.2h0M664.7 543.4h0M705.2 577.5h0M724.1 573.0h0M573.7 509.4h0M757.6 607.1h0M574.6 529.1h0M755.8 555.4h0M661.3 532.0h0M574.6 539.5h0M562.7 538.8h0M588.3 540.5h0M563.0 548.9h0M761.1 556.3h0M684.9 550.8h0M611.0 553.7h0M578.1 525.7h0M678.2 566.2h0M643.0 510.3h0M595.1 552.3h0M621.7 551.3h0M721.0 529.6h0M567.5 466.8h0M732.1 536.0h0M754.6 570.9h0M745.9 589.7h0M585.8 545.0h0M730.4 551.6h0M708.2 584.9h0M572.4 519.5h0M590.8 524.4h0M642.5 517.7h0M652.6 558.6h0M702.0 540.7h0M692.4 574.0h0M688.3 573.1h0M610.7 554.2h0M768.4 580.7h0M750.5 586.4h0M616.6 530.1h0M752.1 591.1h0M730.4 570.8h0M628.9 491.2h0M738.8 559.8h0M698.5 538.5h0M686.1 556.1h0M633.8 540.8h0M565.3 478.0h0M754.2 512.5h0M752.1 598.2h0M676.9 545.6h0M694.9 570.8h0M728.0 555.0h0M561.0 504.6h0M606.9 545.7h0M575.8 553.2h0M766.9 632.2h0M659.8 512.7h0M641.6 540.2h0M727.6 570.7h0M664.1 534.2h0M674.8 553.2h0M764.2 533.4h0M691.1 554.4h0M643.7 515.8h0M647.0 541.6h0M693.6 599.6h0M647.5 530.6h0M670.0 547.4h0M700.0 572.8h0M647.0 506.1h0M713.5 551.5h0M770.5 565.8h0M761.2 620.7h0M579.2 529.8h0M719.2 614.4h0M644.2 527.7h0M675.4 526.8h0M573.1 532.4h0M765.6 530.3h0M739.9 610.1h0M757.2 575.2h0M585.5 569.5h0M637.0 589.0h0M661.3 539.1h0M659.6 547.8h0M738.6 526.4h0M692.0 554.8h0M746.5 551.2h0M565.8 532.1h0M612.1 512.5h0M591.7 481.5h0M749.8 577.9h0M742.3 545.7h0M702.4 537.1h0M601.2 520.5h0M716.7 594.3h0M691.6 570.1h0M716.5 612.5h0M653.4 520.4h0M704.2 522.6h0M765.8 574.0h0M768.6 581.3h0M753.6 639.9h0M570.0 481.4h0M714.1 600.8h0M595.3 539.3h0M617.6 474.1h0M673.6 542.9h0M739.3 599.3h0M748.3 601.0h0M640.9 534.0h0M750.6 552.1h0M662.2 544.2h0M560.1 505.0h0M732.3 560.3h0M661.1 531.0h0M616.3 567.5h0M589.8 566.8h0M674.9 520.8h0M704.5 582.5h0M770.0 650.1h0M743.5 591.5h0M708.7 567.5h0M688.2 563.9h0M592.2 489.4h0M714.4 599.5h0M613.7 532.6h0M662.6 587.2h0M756.8 531.1h0M702.2 593.8h0M616.2 576.7h0M711.6 551.6h0M636.8 536.2h0M731.8 608.2h0M636.7 526.8h0M702.3 547.6h0M644.6 552.3h0M574.9 498.8h0M562.4 482.0h0M609.6 509.8h0M754.5 595.3h0M666.4 551.4h0M729.1 586.4h0M661.0 553.2h0M725.6 571.1h0M748.5 593.1h0M768.8 592.2h0M701.5 565.3h0M645.6 549.3h0M651.1 532.3h0M615.8 555.8h0M759.9 612.6h0M739.0 593.6h0M722.1 594.2h0M614.9 517.9h0M567.9 507.8h0M677.3 550.8h0M604.5 534.1h0M703.1 553.0h0M574.0 492.0h0M642.1 515.6h0M709.6 570.5h0M650.2 546.4h0M691.8 606.5h0M626.3 546.6h0M654.1 484.7h0M752.4 601.2h0M748.8 554.3h0M726.6 553.3h0M639.1 563.0h0M716.0 619.7h0M679.0 576.3h0M597.4 491.2h0M763.2 554.3h0M617.7 514.6h0M671.2 561.3h0M761.0 563.3h0M703.8 591.9h0M760.0 559.8h0M757.5 571.0h0M655.2 531.7h0M691.1 484.4h0M731.7 597.1h0M615.8 524.4h0M682.7 551.9h0M568.9 505.1h0M575.1 547.3h0M616.0 538.2h0M603.9 490.1h0M737.1 592.9h0M631.4 492.1h0M582.2 513.7h0M589.8 524.6h0M752.9 562.8h0M639.0 549.6h0M732.3 550.2h0M623.1 485.2h0M622.0 597.2h0M732.1 552.1h0M610.0 579.0h0M755.5 633.3h0M689.7 541.3h0M580.8 508.3h0M701.6 550.9h0M685.2 577.0h0M641.2 551.0h0M702.7 568.3h0M581.2 557.7h0M685.8 546.1h0M768.3 594.6h0M563.6 495.7h0M711.2 634.6h0M666.7 619.5h0M748.9 595.1h0M610.6 536.1h0M565.4 498.5h0M562.8 530.8h0M650.9 562.5h0M595.7 553.7h0M679.4 534.4h0M644.4 540.4h0M627.5 487.4h0M728.3 576.7h0M579.4 509.3h0M560.4 514.5h0M610.8 542.2h0M604.8 521.0h0M629.2 565.8h0M625.1 555.4h0M573.3 501.8h0M622.9 552.8h0M711.2 626.7h0M562.0 528.4h0M608.3 552.6h0M623.4 522.3h0M715.9 603.2h0M626.3 555.8h0M652.3 547.4h0M616.7 551.9h0M633.3 528.3h0M755.8 582.9h0M763.5 589.8h0M714.5 550.8h0M640.2 534.0h0M604.6 544.7h0M627.6 510.1h0M609.4 535.6h0M628.7 526.8h0M563.3 513.5h0M694.9 551.8h0M666.8 561.8h0M720.6 553.8h0M576.4 512.5h0M630.5 545.9h0M658.8 549.1h0M596.8 536.7h0M703.4 553.1h0M769.6 550.0h0M625.0 552.2h0M623.0 543.8h0M560.7 550.8h0M580.9 527.8h0M723.4 563.4h0M717.1 555.5h0M725.7 605.5h0M659.7 566.4h0M760.7 584.2h0M747.3 505.6h0M602.6 522.0h0M633.2 541.0h0M648.1 554.8h0M648.7 554.0h0M673.7 616.9h0M677.2 571.8h0M560.0 534.0h0M703.3 570.5h0M623.6 552.4h0M670.9 497.7h0M587.2 496.4h0M752.6 587.4h0M577.1 563.3h0M625.3 486.4h0M573.9 534.6h0M653.2 567.1h0M746.0 583.8h0M564.1 521.5h0M713.4 536.3h0M580.6 514.9h0M645.8 533.3h0M572.9 500.7h0M673.1 513.7h0M701.9 549.3h0M732.5 578.4h0M585.9 533.0h0M641.6 571.9h0M622.6 555.2h0M648.5 627.4h0M652.2 521.3h0M600.5 548.6h0M714.2 579.0h0M765.7 566.1h0M624.9 545.3h0M648.8 543.6h0M746.6 597.7h0M717.5 575.6h0M701.3 558.3h0M715.6 527.4h0M588.1 560.9h0M706.6 589.7h0M611.8 522.2h0M706.1 551.9h0M655.9 555.1h0M759.2 587.7h0M722.5 570.2h0M573.0 495.4h0M573.0 552.6h0M765.0 591.4h0M595.5 485.6h0M679.7 530.4h0M580.7 540.0h0M621.3 524.4h0M697.5 585.5h0M572.7 501.6h0M633.1 529.8h0M606.3 533.9h0M659.7 543.0h0M684.3 563.7h0M598.8 494.7h0M590.1 498.7h0M583.3 501.2h0M583.8 489.1h0M717.4 542.3h0M666.8 550.4h0M667.1 534.4h0M579.1 522.5h0M566.6 552.3h0M722.0 541.8h0M745.2 581.2h0M690.2 555.2h0M619.3 481.1h0M633.6 544.8h0M574.9 527.3h0M600.6 570.0h0M766.6 578.2h0M746.4 571.9h0M660.0 560.1h0M692.1 535.8h0M767.9 599.9h0M753.7 620.1h0M690.8 571.8h0M686.8 561.9h0M714.5 570.2h0M623.5 536.4h0M657.3 574.5h0M749.5 609.3h0M687.1 612.3h0M737.2 579.4h0M605.7 487.4h0M739.6 550.3h0M630.0 571.2h0M584.1 538.3h0M743.7 551.0h0M707.3 574.8h0M583.0 535.1h0M626.6 571.6h0M727.9 529.9h0M638.4 514.2h0M691.5 587.6h0M666.9 531.9h0M685.6 580.7h0M624.5 535.2h0M645.9 512.5h0M615.8 550.6h0M741.3 605.0h0M599.5 550.9h0M759.3 583.0h0M627.4 514.3h0M620.9 509.7h0M708.0 527.6h0M689.9 512.1h0M610.4 509.8h0M770.4 635.9h0M733.4 604.7h0M755.1 565.0h0M740.3 568.4h0M707.8 571.7h0M763.0 602.3h0M771.6 582.5h0M755.4 625.6h0M757.8 589.4h0M706.0 551.0h0M670.4 518.4h0M731.4 546.4h0M671.0 565.0h0M714.1 602.0h0M582.4 520.9h0M637.7 535.4h0M598.0 562.0h0M707.7 609.7h0M736.1 595.9h0M596.8 533.3h0M740.5 568.5h0M715.1 570.3h0M687.4 561.5h0M736.3 551.4h0M584.0 530.7h0M751.9 594.4h0M597.9 563.3h0M696.4 551.3h0M670.9 527.5h0M585.2 503.9h0M760.4 609.0h0M615.7 502.2h0M607.9 541.2h0M652.5 500.5h0M562.0 507.3h0M646.3 512.0h0M746.1 571.9h0M576.6 513.7h0M633.2 556.8h0M600.5 547.5h0M666.1 523.7h0M656.7 569.2h0M760.9 549.4h0M638.2 584.6h0M689.3 555.2h0M743.5 595.6h0M688.9 515.9h0M645.2 550.9h0M728.3 586.4h0M682.4 576.5h0M673.1 539.0h0M712.7 571.6h0M753.5 584.0h0M615.5 570.7h0M638.7 549.8h0M751.6 588.1h0M704.3 581.7h0M682.2 513.1h0M707.2 505.0h0M595.4 527.3h0M711.0 583.5h0M731.0 554.5h0M658.3 528.5h0M634.1 560.4h0M771.7 570.8h0M702.5 577.2h0M699.7 574.8h0M631.4 547.3h0M743.8 550.8h0M749.8 573.2h0M576.5 506.0h0M592.8 520.6h0M719.6 619.4h0M659.3 517.8h0M576.1 518.5h0M653.6 557.2h0M561.6 541.3h0M730.5 613.4h0M685.6 551.4h0M750.8 551.4h0M715.9 570.1h0M690.4 563.1h0M649.9 538.9h0M565.5 596.7h0M727.6 568.0h0M579.5 533.9h0M699.3 551.1h0M675.7 527.1h0M636.0 548.0h0M620.9 561.6h0M725.5 557.6h0M580.5 516.1h0M572.4 495.0h0M580.7 496.2h0M709.6 566.0h0M653.5 558.1h0M638.8 536.6h0M638.9 540.3h0M752.2 551.0h0M577.6 511.9h0M744.2 550.1h0M682.7 531.6h0M713.7 557.4h0M567.6 571.7h0M712.1 597.0h0M679.9 540.9h0M665.5 527.3h0M604.5 549.5h0M702.2 607.9h0M689.4 498.1h0M635.6 544.4h0M695.2 611.8h0M611.6 516.2h0M749.3 545.3h0M713.4 625.7h0M691.3 553.9h0M594.7 537.6h0M624.1 536.8h0M726.4 552.3h0M726.2 597.7h0M602.8 553.3h0M622.7 561.9h0M672.1 528.7h0M587.8 487.6h0M719.9 598.9h0M656.2 516.2h0M753.2 598.5h0M748.9 579.7h0M661.9 557.5h0M681.5 557.4h0M636.7 503.8h0M717.5 560.5h0M620.3 552.4h0M583.6 471.3h0M751.0 535.5h0M632.0 535.0h0M673.2 510.0h0M752.0 599.1h0M622.4 574.5h0M674.0 589.1h0M711.3 603.7h0M766.6 602.2h0M610.0 477.5h0M618.8 551.1h0M709.3 582.2h0M632.1 493.6h0M587.5 526.9h0M683.9 548.2h0M712.9 510.4h0M696.6 602.4h0M583.9 552.6h0M723.6 579.9h0M641.6 538.6h0M589.1 518.3h0M687.2 547.7h0M604.9 554.5h0M617.4 545.2h0M624.4 562.8h0M709.7 568.7h0M610.6 516.9h0M772.3 572.7h0M715.2 560.2h0M685.6 534.4h0M575.8 551.6h0M568.0 515.7h0M661.9 543.7h0M722.7 613.6h0M681.6 570.1h0M573.7 486.6h0M657.7 552.4h0M665.8 553.9h0M659.5 550.5h0M571.8 467.4h0M678.3 550.7h0M647.2 527.0h0M748.3 559.6h0M615.8 515.5h0M731.2 552.2h0M595.6 550.4h0M579.1 563.3h0M677.2 560.5h0M640.8 557.1h0M736.4 637.3h0M579.6 482.1h0M597.5 570.7h0M770.3 549.1h0M583.3 551.8h0M663.8 568.8h0M673.6 537.6h0M754.7 566.8h0M767.3 550.0h0M561.8 510.3h0M692.7 563.1h0M750.0 655.5h0M769.9 576.3h0M574.6 521.2h0M593.0 525.6h0M579.3 504.0h0M686.1 519.5h0M763.0 610.2h0M666.6 552.3h0M756.4 596.1h0M732.0 629.0h0M664.1 526.6h0M650.6 550.9h0M682.3 604.3h0M707.0 553.8h0M708.2 564.3h0M682.0 552.5h0M632.6 572.9h0M682.5 590.5h0M678.8 552.4h0M739.3 555.8h0M743.7 609.6h0M690.6 555.1h0M587.8 531.7h0M591.3 515.3h0M742.8 554.9h0M674.8 541.3h0M706.0 537.2h0M647.0 492.0h0M618.7 552.8h0M673.7 523.8h0M671.2 557.1h0M584.2 523.4h0M701.8 574.1h0M667.2 540.1h0M742.4 623.2h0M749.3 619.8h0M643.3 561.5h0M716.4 598.3h0M716.8 620.8h0M682.1 553.4h0M765.2 598.6h0M593.9 553.6h0M676.1 547.0h0M682.0 517.8h0M562.7 546.1h0M633.6 511.0h0M705.0 587.4h0M724.6 545.9h0M576.4 495.3h0M565.9 545.5h0M595.9 552.5h0M698.1 604.5h0M685.9 572.6h0M637.5 535.9h0M751.1 599.8h0M563.6 544.9h0M653.1 524.1h0M574.9 499.5h0M592.9 538.4h0M715.7 521.1h0M737.0 621.8h0M655.1 557.7h0M743.4 609.9h0M589.4 532.4h0M653.2 552.0h0M629.1 519.7h0M736.2 592.2h0M770.6 577.1h0M659.9 554.9h0M707.9 522.6h0M682.9 592.6h0M770.3 599.4h0M734.5 556.2h0M673.1 526.8h0M679.5 551.4h0M765.7 577.0h0M650.6 500.0h0M639.4 542.0h0M673.6 550.6h0M603.1 548.9h0M695.4 540.7h0M601.7 524.8h0M743.4 623.8h0M594.1 563.1h0M750.6 646.8h0M764.4 579.1h0M633.7 533.9h0M662.4 522.7h0M667.8 564.5h0M576.3 585.3h0M614.2 530.6h0M690.1 561.0h0M615.5 545.8h0M603.0 512.8h0M724.4 608.5h0M658.9 550.5h0M629.9 547.9h0M737.2 565.6h0M738.9 542.3h0M591.0 553.0h0M630.2 527.3h0M585.1 518.9h0M651.6 542.4h0M772.6 549.1h0M579.9 476.4h0M769.9 608.3h0M629.8 526.5h0M582.3 520.0h0M573.1 539.6h0M657.6 529.9h0M630.9 527.9h0M727.4 547.5h0M700.4 554.0h0M626.4 548.8h0M621.0 550.7h0M595.9 529.0h0M744.6 552.4h0M590.3 535.4h0M753.2 577.1h0M678.9 545.2h0M649.8 483.9h0M702.7 553.7h0M771.9 561.5h0M707.0 567.8h0M720.1 581.1h0M704.5 546.7h0M769.4 610.4h0M745.4 602.4h0M669.9 524.8h0M749.6 589.2h0M560.3 505.6h0M580.4 549.2h0M592.3 532.6h0M606.6 544.6h0M729.7 593.6h0M607.6 515.0h0M751.8 596.6h0M675.3 573.5h0M586.3 539.4h0M727.2 580.2h0M677.0 515.1h0M694.3 581.6h0M666.6 553.7h0M665.0 531.6h0M741.0 620.3h0M575.6 521.8h0M690.3 552.2h0M597.8 509.2h0M575.2 520.0h0M754.9 587.5h0M736.8 575.7h0M706.6 582.1h0M696.0 586.5h0M659.5 512.9h0M651.0 554.8h0M607.0 551.8h0M744.7 553.3h0M580.7 553.2h0M704.5 591.0h0M576.9 539.2h0M621.0 495.0h0M737.0 570.1h0M754.6 553.2h0M691.7 554.4h0M762.8 587.3h0M768.8 605.1h0M632.7 537.3h0M682.6 535.0h0M710.4 553.5h0M602.9 544.7h0M768.7 599.0h0M643.1 526.3h0M669.0 562.3h0M655.4 548.7h0M646.3 579.2h0M648.1 562.3h0M575.8 500.3h0M652.9 533.9h0M648.1 541.1h0M641.7 521.8h0M561.8 550.9h0M762.2 591.9h0M574.3 530.7h0M748.9 584.9h0M731.3 514.8h0M608.6 512.3h0M697.1 605.7h0M674.0 553.0h0M763.3 552.1h0M748.8 532.5h0M613.5 510.9h0M740.3 556.8h0M650.2 557.5h0M644.4 561.8h0M592.7 526.3h0M666.2 548.5h0M598.8 478.6h0M687.5 507.4h0M636.2 512.5h0M697.4 575.9h0M690.4 570.0h0M571.5 531.7h0M771.2 581.5h0M587.0 543.1h0M747.9 622.9h0M732.2 601.0h0M659.5 552.1h0M607.4 500.0h0M659.7 528.0h0M734.7 582.1h0M743.0 617.1h0M689.7 594.4h0M591.3 485.3h0M709.7 568.7h0M590.8 507.2h0M561.4 512.7h0M721.5 580.1h0M623.7 519.4h0M607.5 537.8h0M630.7 524.6h0M564.2 556.8h0M591.1 511.7h0M730.3 500.8h0M592.3 522.9h0M698.1 562.4h0M590.3 551.9h0M691.4 552.6h0M771.9 621.5h0M692.4 581.3h0M771.7 604.0h0M745.2 623.8h0M562.9 499.7h0M657.5 595.6h0M734.9 550.5h0M636.1 577.0h0M771.9 615.2h0M758.0 580.7h0M750.5 606.7h0M696.7 512.0h0M575.6 515.6h0M725.0 550.4h0M568.7 510.3h0M677.2 527.6h0M620.0 550.2h0M598.7 512.6h0M611.6 515.9h0M754.3 545.5h0M750.4 558.2h0M660.6 583.7h0M765.3 618.9h0M595.6 490.3h0M588.5 479.5h0M615.9 496.3h0M606.0 476.5h0M567.7 484.3h0M616.4 494.5h0M595.9 500.2h0M710.9 568.6h0M572.2 550.5h0M629.9 530.3h0M598.8 529.0h0M652.9 560.1h0M724.7 584.5h0M653.1 554.0h0M710.5 559.4h0M741.2 578.4h0M643.0 527.5h0M668.6 557.9h0M628.6 474.6h0M745.5 551.4h0M612.0 539.0h0M687.8 550.2h0M600.6 541.7h0M584.7 507.6h0M642.6 542.7h0M566.3 530.7h0M562.7 501.7h0M719.7 551.5h0M760.3 551.1h0M581.9 539.7h0M617.8 553.4h0M756.0 574.4h0M647.2 553.9h0M695.0 631.3h0M618.2 542.1h0M637.5 549.2h0M668.1 567.9h0M700.0 547.8h0M769.4 594.5h0M642.2 547.8h0M738.9 546.9h0M619.0 518.7h0M711.3 564.4h0M697.5 578.7h0M697.7 534.6h0M566.6 543.4h0M654.3 511.9h0M704.5 576.6h0M735.4 512.2h0M716.8 555.3h0M692.9 549.9h0M681.8 554.2h0M603.4 526.9h0M579.4 488.4h0M590.7 538.0h0M625.8 550.3h0M752.0 613.7h0M703.7 550.6h0M700.7 588.2h0M730.8 596.1h0M589.7 473.6h0M601.3 578.8h0M566.0 564.6h0M584.5 529.7h0M692.6 553.8h0M572.1 482.1h0M586.9 511.8h0M652.5 546.4h0M717.3 553.3h0M641.3 580.6h0M597.4 552.5h0M571.6 515.9h0M675.2 488.5h0M744.3 590.1h0M608.9 533.3h0M666.2 559.2h0M692.3 587.1h0M600.4 569.7h0M580.9 502.9h0M703.8 554.5h0M603.0 542.3h0M609.1 531.1h0M712.4 549.4h0M725.9 589.9h0M683.8 578.1h0M614.4 571.4h0M656.4 559.5h0M740.9 551.5h0M740.5 604.7h0M663.2 552.5h0M628.0 525.5h0M692.0 552.6h0M650.8 536.4h0M715.8 553.0h0M665.2 535.6h0M728.4 569.2h0M762.5 582.2h0M719.6 525.2h0M766.8 589.0h0M745.6 558.6h0M620.4 549.8h0M688.8 534.7h0M696.7 537.1h0M676.3 551.6h0M680.3 548.4h0M629.8 554.1h0M680.7 568.4h0M759.1 578.4h0M582.6 472.4h0M754.1 600.8h0M728.8 528.6h0M668.5 531.6h0M759.8 582.2h0M645.5 559.2h0M609.7 477.4h0M748.6 566.5h0M672.3 539.9h0M678.6 518.8h0M666.0 551.0h0M727.5 610.8h0M623.9 502.5h0M695.3 607.0h0M619.0 559.8h0M667.7 554.9h0M651.1 525.0h0M622.2 548.8h0M677.6 516.4h0M588.4 550.7h0M596.5 484.1h0M686.8 533.6h0M600.6 540.2h0M771.5 617.7h0M738.0 590.7h0M673.1 576.9h0M765.0 549.0h0M615.3 543.6h0M596.0 552.4h0M600.3 510.6h0M610.8 553.4h0M707.8 616.6h0M719.5 563.9h0M582.9 538.8h0M588.8 488.3h0M767.1 547.6h0M702.4 551.9h0M621.4 541.7h0M573.9 489.3h0M632.7 537.7h0M743.5 628.1h0M706.4 572.6h0M668.9 576.9h0M725.6 572.0h0M621.5 577.4h0M660.8 494.8h0M710.5 568.5h0M682.8 552.6h0M561.8 528.4h0M582.8 488.6h0M696.0 562.6h0M710.8 589.3h0M595.4 569.4h0M661.7 515.6h0M708.3 599.9h0M731.5 542.4h0M628.9 482.4h0M592.2 539.2h0M619.4 551.0h0M566.7 468.0h0M726.5 593.1h0M702.6 553.6h0M739.4 661.7h0M752.4 618.2h0M663.0 540.9h0M672.4 518.9h0M685.7 573.8h0M592.1 487.0h0M746.0 551.1h0M761.5 580.0h0M615.7 500.7h0M690.8 586.5h0M651.5 540.9h0M631.6 485.9h0M569.3 551.5h0M577.6 498.8h0M632.6 529.8h0M743.8 599.4h0M718.7 610.1h0M642.5 577.0h0M621.5 559.2h0M642.6 554.2h0M571.1 520.6h0M739.4 569.3h0M633.2 510.1h0M761.1 581.2h0M565.8 521.2h0M698.6 611.5h0M768.0 593.2h0M720.7 617.1h0M664.1 553.5h0M708.6 571.1h0M571.1 498.7h0M706.6 590.6h0M759.8 607.3h0M700.1 579.8h0M721.0 577.8h0M766.1 614.9h0M650.3 509.9h0M771.4 610.7h0M600.1 486.1h0M709.1 604.4h0M727.2 564.3h0M722.6 618.7h0M619.1 511.1h0M727.6 563.2h0M640.4 517.1h0M625.0 484.9h0M769.9 549.7h0M732.4 558.2h0M697.7 549.9h0M645.2 548.2h0M681.0 536.2h0M759.2 633.3h0M740.8 556.3h0M694.1 606.3h0M592.1 539.2h0M620.0 502.6h0M731.3 584.8h0M751.3 586.9h0M693.6 572.0h0M752.3 570.9h0M697.7 598.4h0M727.1 566.5h0M699.8 525.9h0M678.5 560.1h0M634.1 535.6h0M666.1 545.5h0M705.7 551.0h0M679.3 555.5h0M602.1 559.8h0M746.5 591.2h0M641.0 566.2h0M630.0 516.8h0M684.2 552.7h0M753.3 613.7h0M724.9 529.2h0M628.8 571.4h0M724.9 586.4h0M655.5 486.5h0M656.9 582.4h0M770.3 634.0h0M693.4 566.4h0M658.7 555.6h0M729.0 619.9h0M571.2 468.1h0M712.4 558.8h0M716.7 613.7h0M609.8 549.6h0M665.4 473.8h0M739.5 554.4h0M598.4 514.0h0M767.9 615.8h0M681.5 536.4h0M660.7 520.7h0M595.4 532.8h0M747.3 607.5h0M698.1 554.2h0M574.3 554.5h0M722.5 590.7h0M720.8 528.2h0M588.6 494.8h0M705.9 553.2h0M707.4 546.3h0M750.4 617.5h0M748.4 551.9h0M722.4 520.7h0M739.1 516.9h0M560.5 507.7h0M754.1 574.2h0M744.9 594.5h0M675.2 530.0h0M583.4 483.5h0M732.7 552.0h0M689.3 560.2h0M617.8 550.6h0M644.4 530.9h0M648.2 508.4h0M754.4 590.6h0M759.3 626.3h0M704.8 552.5h0M654.7 526.6h0M617.3 568.5h0M735.1 610.9h0M723.8 574.7h0M675.9 540.8h0M601.3 530.3h0M711.4 573.0h0M659.1 586.0h0M627.3 563.0h0M633.0 540.9h0M669.3 552.9h0M612.6 546.5h0M754.7 599.1h0M602.9 531.5h0M717.5 610.9h0M729.9 539.3h0M600.6 484.1h0M765.0 603.8h0M746.0 604.8h0M679.5 567.3h0M751.4 575.6h0M740.0 612.1h0M720.1 563.7h0M695.8 556.4h0M720.3 555.8h0M637.7 515.2h0M607.0 533.8h0M636.6 559.5h0M728.5 525.2h0M713.0 552.7h0M627.4 542.3h0M707.0 554.4h0M700.4 614.3h0M605.2 552.1h0M729.2 584.2h0M679.2 552.8h0M571.4 513.1h0M755.0 573.0h0M739.3 589.5h0M765.6 669.5h0M733.8 580.6h0M725.7 567.3h0M653.3 569.5h0M713.4 571.5h0M721.2 549.4h0M748.1 581.0h0M735.4 569.2h0M664.0 612.1h0M744.7 559.5h0M675.6 587.9h0M681.1 523.3h0M705.0 613.5h0M666.8 576.0h0M571.0 549.4h0M623.2 525.9h0M732.2 545.8h0M561.5 491.9h0M738.8 564.3h0M649.3 536.4h0M757.4 590.0h0M733.5 589.7h0M674.5 560.9h0M596.1 497.0h0M710.7 521.7h0M602.6 531.5h0M570.5 496.0h0M706.2 582.5h0M596.2 534.1h0M747.3 582.3h0M617.3 525.6h0M577.5 492.9h0M718.6 552.2h0M741.9 558.2h0M692.4 590.1h0M759.4 619.7h0M653.7 566.5h0M610.0 516.3h0M663.7 534.4h0M564.5 489.1h0M703.4 537.7h0M641.4 503.8h0M637.4 540.0h0M594.5 531.2h0M601.7 479.9h0M650.2 486.0h0M646.6 518.0h0M743.6 608.6h0M584.1 532.7h0M589.2 550.4h0M709.7 565.0h0M586.1 559.1h0M758.5 553.8h0M764.5 576.0h0M575.4 525.1h0M770.1 553.0h0M637.9 539.4h0M630.2 531.6h0M761.3 575.6h0M761.8 595.2h0M665.4 580.1h0M644.6 532.6h0M738.7 579.5h0M569.8 564.8h0M723.2 586.6h0M736.4 585.6h0M568.5 496.5h0M634.5 538.8h0M676.6 532.5h0M722.0 555.3h0M563.1 518.9h0M690.7 599.4h0M609.2 500.1h0M647.6 562.7h0M678.1 544.9h0M590.7 500.4h0M567.3 533.4h0M692.4 580.0h0M699.3 553.0h0M632.2 548.9h0M586.1 507.8h0M749.5 552.1h0M748.0 612.0h0M574.9 537.9h0M741.7 514.2h0M624.1 547.3h0M574.2 472.5h0M661.3 546.6h0M698.1 595.5h0M661.1 560.6h0M636.0 523.3h0M744.4 604.5h0M625.3 515.0h0M590.1 509.9h0M665.9 566.2h0M648.9 552.9h0M738.7 595.7h0M689.4 551.3h0M606.5 468.0h0M770.2 568.4h0M609.9 516.9h0M598.6 508.1h0M722.0 591.0h0M649.2 572.8h0M673.0 508.3h0M672.2 560.0h0M760.9 580.9h0M767.7 557.3h0M712.1 588.1h0M725.0 558.4h0M761.5 577.1h0M661.1 562.7h0M677.9 550.0h0M769.6 647.5h0M647.5 562.3h0M642.5 490.2h0M670.9 581.4h0M628.7 539.6h0M638.6 539.0h0M632.5 498.4h0M616.4 543.6h0M609.2 515.0h0M676.7 537.4h0M566.2 510.2h0M646.0 550.5h0M709.9 498.9h0M754.4 574.7h0M745.2 566.4h0M767.2 552.7h0M608.9 567.0h0M654.6 544.1h0M607.5 491.4h0M671.3 527.5h0M629.2 578.9h0M705.2 547.1h0M711.3 537.6h0M741.8 620.1h0M571.8 521.4h0M577.6 550.3h0M707.0 564.7h0M582.0 478.7h0M603.6 530.6h0M682.8 557.3h0M689.5 554.3h0M602.0 547.0h0M573.7 515.1h0M702.9 598.6h0M755.7 621.6h0M701.9 534.2h0M704.7 523.6h0M684.9 480.7h0M596.9 537.7h0M591.8 513.7h0M617.5 546.5h0M589.7 482.5h0M744.3 594.8h0M679.7 615.3h0M680.3 555.3h0M729.3 616.6h0M732.3 549.2h0M681.3 538.1h0M697.2 570.3h0M599.7 515.2h0M707.6 550.7h0M567.8 535.7h0M720.3 563.0h0M618.9 491.3h0M707.7 553.6h0M632.2 585.6h0M590.0 557.7h0M643.7 552.1h0M580.1 538.4h0M750.7 533.0h0M560.7 534.3h0M590.4 521.6h0M644.9 550.9h0M684.3 589.1h0M609.9 554.2h0M609.8 547.9h0M569.3 553.2h0M657.0 576.5h0M601.2 566.2h0M676.0 567.8h0M675.3 553.0h0M614.5 519.3h0M626.8 537.9h0M757.5 582.3h0M600.1 519.0h0M712.3 548.8h0M714.1 516.6h0M751.3 623.0h0M675.9 555.2h0M723.3 588.0h0M681.8 584.4h0M691.2 526.3h0M639.1 540.6h0M688.5 547.5h0M689.4 528.8h0M715.8 549.9h0M680.3 592.0h0M660.2 536.3h0M708.8 553.6h0M737.2 540.5h0M681.1 552.4h0M655.3 553.0h0M764.9 568.7h0M708.3 531.1h0M609.2 515.6h0M681.7 566.9h0M682.3 580.7h0M655.6 510.1h0M760.8 580.5h0M599.9 526.8h0M586.5 536.5h0M766.4 603.9h0M700.3 523.1h0M741.0 529.3h0M744.3 566.8h0M771.6 611.3h0M692.9 566.9h0M659.4 553.9h0M690.7 576.9h0M667.9 550.5h0M742.4 634.0h0M659.4 538.3h0M682.6 602.6h0M566.7 528.5h0M651.4 515.8h0M664.5 525.1h0M565.3 491.4h0M625.6 540.2h0M577.2 482.8h0M676.1 539.8h0M716.0 558.5h0M627.4 578.6h0M675.8 539.3h0M657.4 620.9h0M699.6 550.1h0M709.6 529.3h0M759.0 628.2h0M708.6 548.2h0M561.3 506.2h0M716.8 563.8h0M608.3 516.7h0M678.8 591.9h0M671.0 561.4h0M633.9 536.9h0M727.5 561.3h0M592.3 559.7h0M693.1 547.4h0M758.2 553.7h0M687.1 545.6h0M723.4 586.5h0M671.1 555.0h0M687.1 563.4h0M767.3 612.9h0M571.9 552.8h0M664.6 539.1h0M626.2 532.7h0M722.5 581.3h0M699.6 534.2h0M749.0 612.0h0M651.8 557.0h0M594.8 525.7h0M619.0 473.7h0M637.4 559.5h0M620.2 511.0h0M593.8 493.1h0M710.8 566.2h0M622.8 551.8h0M648.5 552.1h0M723.4 555.8h0M740.6 656.0h0M708.8 526.6h0M751.6 577.8h0M601.3 498.6h0M627.8 549.0h0M754.6 550.1h0M771.9 618.2h0M698.2 594.4h0M757.5 583.7h0M577.6 464.2h0M691.6 534.2h0M692.6 550.3h0M703.4 598.4h0M640.5 515.2h0M592.9 524.6h0M667.0 595.8h0M611.1 570.6h0M582.7 514.4h0M764.2 587.6h0M632.5 536.4h0M683.0 559.7h0M754.1 581.4h0M609.1 562.8h0M650.5 546.7h0M649.7 536.7h0M737.5 550.4h0M658.2 537.1h0M701.4 554.5h0M642.7 548.5h0M639.5 534.6h0M622.1 551.9h0M748.0 580.9h0M641.3 549.1h0M591.4 537.4h0M704.9 553.9h0M576.9 542.2h0M594.5 500.2h0M751.4 596.1h0M708.7 600.5h0M684.5 553.7h0M641.4 506.8h0M639.0 504.6h0M686.8 581.9h0M745.3 595.5h0M636.8 555.3h0M637.1 540.0h0M746.0 619.2h0M684.3 567.9h0M584.5 468.8h0M761.5 648.6h0M696.6 502.2h0M566.8 543.9h0M702.3 582.7h0M732.0 551.9h0M625.7 521.9h0M611.6 548.0h0M671.7 631.6h0M696.5 564.7h0M713.9 583.4h0M575.0 541.6h0M569.6 531.8h0M621.8 582.6h0M609.8 549.5h0M563.8 541.0h0M666.3 574.4h0M568.6 520.4h0M643.6 548.2h0M612.7 558.6h0M679.5 551.0h0M719.8 590.2h0M632.3 580.9h0M687.8 556.5h0M651.3 517.8h0M694.8 576.0h0M596.8 522.9h0M741.0 606.4h0M731.6 612.9h0M735.1 583.6h0M735.7 648.3h0M735.8 576.5h0M744.6 585.0h0M574.1 514.2h0M649.8 527.8h0M617.5 537.6h0M657.9 480.0h0M740.8 617.7h0M639.6 514.8h0M560.7 542.6h0M564.2 525.3h0M639.6 527.2h0M726.4 551.0h0M590.4 529.0h0M606.3 506.8h0M763.8 643.5h0M579.9 509.0h0M629.2 581.2h0M731.7 589.3h0M612.7 542.9h0M720.1 585.1h0M726.4 552.9h0M610.0 507.1h0M567.4 478.8h0M687.1 536.2h0M762.1 577.8h0M733.5 628.7h0M576.2 507.8h0M609.7 543.8h0M660.9 590.1h0M624.8 474.1h0M737.0 571.3h0M763.6 631.0h0M669.6 597.9h0M755.0 615.3h0M622.0 551.0h0M686.9 556.5h0M707.5 598.0h0M668.7 555.6h0M614.4 533.3h0M756.7 540.0h0M751.9 588.8h0M695.3 581.6h0M571.4 506.9h0M614.9 524.6h0M645.2 554.2h0M621.5 555.7h0M729.6 548.6h0M772.5 549.5h0M641.9 547.4h0M747.7 549.9h0M668.2 546.9h0M633.0 546.9h0M722.4 555.7h0M672.0 550.2h0M642.9 555.1h0M728.1 548.6h0M705.6 551.9h0M767.5 553.0h0M744.2 546.9h0M689.4 548.2h0M670.7 551.6h0M597.3 556.1h0M710.2 549.8h0M761.4 552.8h0M714.9 549.8h0M757.0 553.7h0M602.6 551.7h0M720.4 553.0h0M628.9 554.8h0M772.5 550.7h0M749.3 546.9h0M766.3 546.9h0M647.2 551.8h0M634.4 549.5h0M710.1 553.6h0M763.3 550.7h0M701.9 546.9h0M767.8 553.6h0M765.0 549.0h0M715.2 548.2h0M738.6 553.6h0M748.9 553.0h0M747.6 551.4h0M650.5 548.1h0M677.9 556.3h0M760.4 549.8h0M768.9 548.3h0M704.5 553.5h0M727.7 549.2h0M637.6 552.3h0M763.0 551.4h0M716.5 553.1h0M702.8 551.2h0M760.0 550.2h0M708.0 549.4h0M617.5 551.9h0M657.1 553.6h0M680.9 549.4h0M621.1 554.6h0M563.9 554.6h0M667.5 554.9h0M757.7 553.6h0M694.0 549.9h0M748.6 549.6h0M718.4 547.2h0M650.5 553.9h0M660.4 550.0h0M714.2 556.5h0M688.0 547.8h0M638.8 550.8h0M713.6 549.1h0M608.4 553.5h0M638.7 547.2h0M676.7 547.7h0M668.7 551.9h0M749.0 556.9h0M700.4 554.6h0M745.2 546.9h0M652.0 557.6h0M740.4 555.3h0M764.2 550.8h0M718.8 549.9h0M769.7 550.7h0M747.8 555.7h0M627.7 552.9h0M714.3 553.1h0M718.0 550.9h0M725.6 548.9h0M729.8 546.9h0M687.1 554.2h0M766.9 554.6h0M730.3 551.8h0M622.6 552.4h0M766.7 556.4h0M740.5 551.0h0M597.1 554.4h0M772.0 548.2h0M759.7 551.7h0M694.8 552.1h0M651.7 547.1h0M583.9 557.5h0M731.4 548.5h0M691.5 554.7h0M651.2 550.3h0M737.5 550.7h0M737.0 551.3h0M572.4 551.1h0M628.3 552.1h0M739.9 547.4h0M705.7 550.5h0M623.1 548.5h0M718.4 548.8h0M746.3 546.9h0M720.4 547.7h0M713.0 549.0h0M697.2 549.0h0M669.5 553.4h0M702.1 557.0h0M708.8 559.0h0M761.3 552.3h0M678.1 552.0h0M580.8 547.0h0M723.5 552.0h0M689.1 553.2h0M608.8 553.6h0M680.6 546.9h0M688.1 549.1h0M713.0 558.3h0M753.4 546.9h0M669.3 553.9h0M650.4 551.3h0M659.3 546.9h0M716.4 556.5h0M659.2 549.2h0M761.1 551.1h0M767.4 549.4h0M667.1 554.3h0M695.6 551.1h0M734.2 553.1h0M697.0 551.8h0M707.3 553.2h0M730.9 547.3h0M748.5 547.4h0M746.9 549.7h0M726.3 549.2h0M746.0 553.2h0M771.2 547.7h0M713.5 546.9h0M749.5 546.9h0M707.6 546.9h0M742.7 551.7h0M648.4 549.4h0M707.0 550.9h0M680.0 549.5h0M739.3 549.9h0M737.3 547.7h0M683.5 551.8h0M723.4 556.1h0M759.5 551.3h0M739.3 546.9h0M703.1 549.3h0M752.0 552.0h0M638.9 548.9h0M746.0 546.9h0M725.8 555.2h0M756.2 552.5h0M694.8 559.4h0M753.2 550.9h0M757.9 547.7h0M620.6 549.9h0M705.3 551.4h0M668.4 556.2h0M716.3 555.5h0M732.7 549.0h0M676.4 551.2h0M767.7 550.8h0M705.8 550.6h0M761.7 550.3h0M702.5 549.5h0M638.3 547.4h0M712.0 552.8h0M744.1 546.9h0M730.9 548.3h0M754.6 549.8h0M772.6 554.4h0M771.7 552.3h0M741.6 555.1h0M744.9 556.0h0M684.8 553.5h0M637.5 550.8h0M721.8 547.7h0M731.3 554.9h0M620.0 552.3h0M765.2 551.4h0M763.2 549.6h0M760.0 550.3h0M584.1 551.8h0M765.9 554.2h0M704.5 550.3h0M767.2 553.5h0M674.2 550.8h0M766.9 551.3h0M723.0 555.8h0M767.3 549.4h0M564.3 498.7h0M564.2 491.4h0M564.0 545.3h0M563.0 502.5h0M561.4 507.0h0M562.9 492.0h0M562.1 487.7h0M561.1 496.8h0M563.3 564.0h0M560.2 475.8h0M561.7 527.9h0M560.6 552.9h0M563.4 500.6h0M560.4 520.5h0M561.4 500.5h0M560.0 526.5h0M560.3 518.7h0M560.0 509.4h0M562.7 483.7h0M561.7 511.6h0M560.4 499.3h0M561.1 516.5h0M562.5 502.5h0M563.3 485.7h0M562.6 557.2h0M562.4 541.6h0M561.0 522.5h0M563.4 572.8h0M560.2 554.4h0M561.0 556.0h0M563.6 554.7h0M564.2 536.7h0M563.9 475.7h0M562.5 534.0h0M561.3 501.1h0M560.1 484.6h0M562.6 502.2h0M562.1 530.0h0M561.4 506.4h0M562.7 492.5h0M772.2 620.5h0M770.9 631.9h0M770.1 621.8h0M771.2 597.8h0M769.6 578.4h0M769.2 603.5h0M771.1 602.1h0M771.6 577.7h0M770.4 557.8h0M770.2 625.4h0M771.6 572.8h0M770.1 587.2h0M769.9 568.6h0M772.3 619.0h0M772.3 598.4h0M771.6 616.7h0M769.6 615.6h0M772.1 592.3h0M768.6 616.7h0M771.2 605.1h0M771.0 558.7h0M770.7 612.6h0M768.6 601.9h0M770.8 590.2h0M771.1 642.3h0M770.3 604.8h0M769.5 579.0h0M771.1 617.1h0M772.4 590.3h0M769.5 575.8h0M772.7 615.0h0M772.7 599.5h0M769.1 636.5h0M772.4 595.3h0M772.0 647.1h0M770.7 534.2h0M771.9 609.4h0M770.6 525.5h0M772.6 613.5h0M769.1 617.4h0M771.5 562.0h0M769.1 604.3h0M769.0 597.9h0M771.7 570.4h0M771.5 582.1h0M771.2 622.1h0M771.2 585.5h0M771.9 550.8h0M769.8 615.5h0M771.2 590.6h0" stroke="#8c8c8c" stroke-width="4.8" stroke-linecap="round" fill="none" clip-path="url(#ce)"/>
<line x1="560.0" y1="516.2" x2="772.8" y2="585.9" stroke="#000" stroke-width="3.4"/>
<line x1="560.00" y1="454.60" x2="560.00" y2="676.80" stroke="#3a3a3a" stroke-width="1.1"/>
<line x1="551.00" y1="676.80" x2="772.80" y2="676.80" stroke="#3a3a3a" stroke-width="1.1"/>
<line x1="551.00" y1="468.90" x2="560.00" y2="468.90" stroke="#3a3a3a" stroke-width="1.1"/>
<text x="541.8" y="474.9" font-size="18" text-anchor="end">1.0</text>
<line x1="551.00" y1="510.40" x2="560.00" y2="510.40" stroke="#3a3a3a" stroke-width="1.1"/>
<text x="541.8" y="516.4" font-size="18" text-anchor="end">0.5</text>
<line x1="551.00" y1="551.90" x2="560.00" y2="551.90" stroke="#3a3a3a" stroke-width="1.1"/>
<text x="541.8" y="557.9" font-size="18" text-anchor="end">0</text>
<line x1="551.00" y1="593.40" x2="560.00" y2="593.40" stroke="#3a3a3a" stroke-width="1.1"/>
<text x="541.8" y="599.4" font-size="18" text-anchor="end">−0.5</text>
<line x1="551.00" y1="634.90" x2="560.00" y2="634.90" stroke="#3a3a3a" stroke-width="1.1"/>
<text x="541.8" y="640.9" font-size="18" text-anchor="end">−1.0</text>
<line x1="551.00" y1="676.40" x2="560.00" y2="676.40" stroke="#3a3a3a" stroke-width="1.1"/>
<text x="541.8" y="682.4" font-size="18" text-anchor="end">−1.5</text>
<line x1="560.00" y1="676.80" x2="560.00" y2="685.80" stroke="#3a3a3a" stroke-width="1.1"/>
<text x="560.0" y="708.3" font-size="18" text-anchor="middle">0</text>
<line x1="666.40" y1="676.80" x2="666.40" y2="685.80" stroke="#3a3a3a" stroke-width="1.1"/>
<text x="666.4" y="708.3" font-size="18" text-anchor="middle">0.5</text>
<line x1="772.80" y1="676.80" x2="772.80" y2="685.80" stroke="#3a3a3a" stroke-width="1.1"/>
<text x="772.8" y="708.3" font-size="18" text-anchor="middle">1.0</text>
<text x="666.8" y="737.5" font-size="20.5" text-anchor="middle" textLength="196.0" lengthAdjust="spacingAndGlyphs">Ground state values</text>
<text x="461.7" y="565.5" font-size="20.5" text-anchor="middle" textLength="206.5" lengthAdjust="spacingAndGlyphs" transform="rotate(-90 461.7 565.5)">Elastic net regression</text>
<text x="485.4" y="565.5" font-size="20.5" text-anchor="middle" textLength="112.0" lengthAdjust="spacingAndGlyphs" transform="rotate(-90 485.4 565.5)">coefficients</text>
<rect x="560" y="407" width="213" height="11.8" fill="#c4c4c4"/>
<line x1="576.00" y1="408.00" x2="576.00" y2="418.50" stroke="#fff" stroke-width="1.6"/>
<line x1="592.00" y1="408.00" x2="592.00" y2="418.50" stroke="#fff" stroke-width="1.6"/>
<line x1="608.60" y1="408.00" x2="608.60" y2="418.50" stroke="#fff" stroke-width="1.6"/>
<line x1="625.00" y1="408.00" x2="625.00" y2="418.50" stroke="#fff" stroke-width="1.6"/>
<line x1="641.00" y1="408.00" x2="641.00" y2="418.50" stroke="#fff" stroke-width="1.6"/>
<line x1="657.60" y1="408.00" x2="657.60" y2="418.50" stroke="#fff" stroke-width="1.6"/>
<line x1="674.00" y1="408.00" x2="674.00" y2="418.50" stroke="#fff" stroke-width="1.6"/>
<line x1="691.00" y1="408.00" x2="691.00" y2="418.50" stroke="#fff" stroke-width="1.6"/>
<line x1="707.00" y1="408.00" x2="707.00" y2="418.50" stroke="#fff" stroke-width="1.6"/>
<line x1="724.00" y1="408.00" x2="724.00" y2="418.50" stroke="#fff" stroke-width="1.6"/>
<line x1="740.00" y1="408.00" x2="740.00" y2="418.50" stroke="#fff" stroke-width="1.6"/>
<line x1="757.00" y1="408.00" x2="757.00" y2="418.50" stroke="#fff" stroke-width="1.6"/>
<path d="M560 414 C566 410 580 405.5 600 404.5 C620 403.8 650 404.5 675 406.3 C690 407 700 405 712 405.3 C725 405.8 735 406.5 748 404.5 C758 403.5 766 405 773 412.5" fill="none" stroke="#8c8c8c" stroke-width="2.6"/>
<line x1="560.00" y1="419.20" x2="773.00" y2="419.20" stroke="#222" stroke-width="1.6"/>
<polygon points="808.5,462.6 809.0,462.6 809.0,464.7 809.1,466.8 809.1,468.8 809.1,470.9 809.2,473.0 809.2,475.1 809.3,477.2 809.3,479.3 809.4,481.3 809.4,483.4 809.4,485.5 809.5,487.6 809.5,489.7 809.6,491.7 809.6,493.8 809.7,495.9 809.7,498.0 809.8,500.1 809.8,502.2 809.9,504.2 809.9,506.3 809.9,508.4 810.0,510.5 810.0,512.6 810.1,514.6 810.1,516.7 810.2,518.8 810.2,520.9 810.3,523.0 810.3,525.1 810.5,527.1 810.6,529.2 810.8,531.3 811.2,533.4 811.6,535.5 812.2,537.6 812.9,539.6 813.7,541.7 814.5,543.8 815.3,545.9 816.0,548.0 816.4,550.0 816.5,552.1 816.3,554.2 815.8,556.3 815.2,558.4 814.3,560.5 813.5,562.5 812.7,564.6 812.0,566.7 811.5,568.8 811.1,570.9 810.8,572.9 810.6,575.0 810.4,577.1 810.3,579.2 810.3,581.3 810.2,583.4 810.2,585.4 810.1,587.5 810.1,589.6 810.0,591.7 810.0,593.8 809.9,595.8 809.9,597.9 809.8,600.0 809.8,602.1 809.8,604.2 809.7,606.3 809.7,608.3 809.6,610.4 809.6,612.5 809.5,614.6 809.5,616.7 809.4,618.8 809.4,620.8 809.3,622.9 809.3,625.0 809.3,627.1 809.2,629.2 809.2,631.2 809.1,633.3 809.1,635.4 809.1,637.5 809.0,639.6 809.0,641.7 809.0,643.7 808.9,645.8 808.9,647.9 808.9,650.0 808.9,652.1 808.8,654.1 808.8,656.2 808.8,658.3 808.8,660.4 808.7,662.5 808.7,664.6 808.7,666.6 808.7,668.7 808.7,670.8 808.5,670.8" fill="#cccccc"/>
<line x1="809.50" y1="535.00" x2="813.00" y2="535.00" stroke="#fff" stroke-width="1.2"/>
<line x1="809.50" y1="543.00" x2="813.00" y2="543.00" stroke="#fff" stroke-width="1.2"/>
<line x1="809.50" y1="559.00" x2="813.00" y2="559.00" stroke="#fff" stroke-width="1.2"/>
<line x1="809.50" y1="567.00" x2="813.00" y2="567.00" stroke="#fff" stroke-width="1.2"/>
<rect x="808.5" y="550.5" width="13.5" height="6" fill="#c8c8c8"/>
<polyline points="809.0,462.6 809.0,464.7 809.1,466.8 809.1,468.8 809.1,470.9 809.2,473.0 809.2,475.1 809.3,477.2 809.3,479.3 809.4,481.3 809.4,483.4 809.4,485.5 809.5,487.6 809.5,489.7 809.6,491.7 809.6,493.8 809.7,495.9 809.7,498.0 809.8,500.1 809.8,502.2 809.9,504.2 809.9,506.3 809.9,508.4 810.0,510.5 810.0,512.6 810.1,514.6 810.1,516.7 810.2,518.8 810.2,520.9 810.3,523.0 810.3,525.1 810.5,527.1 810.6,529.2 810.8,531.3 811.2,533.4 811.6,535.5 812.2,537.6 812.9,539.6 813.7,541.7 814.5,543.8 815.3,545.9 816.0,548.0 816.4,550.0 816.5,552.1 816.3,554.2 815.8,556.3 815.2,558.4 814.3,560.5 813.5,562.5 812.7,564.6 812.0,566.7 811.5,568.8 811.1,570.9 810.8,572.9 810.6,575.0 810.4,577.1 810.3,579.2 810.3,581.3 810.2,583.4 810.2,585.4 810.1,587.5 810.1,589.6 810.0,591.7 810.0,593.8 809.9,595.8 809.9,597.9 809.8,600.0 809.8,602.1 809.8,604.2 809.7,606.3 809.7,608.3 809.6,610.4 809.6,612.5 809.5,614.6 809.5,616.7 809.4,618.8 809.4,620.8 809.3,622.9 809.3,625.0 809.3,627.1 809.2,629.2 809.2,631.2 809.1,633.3 809.1,635.4 809.1,637.5 809.0,639.6 809.0,641.7 809.0,643.7 808.9,645.8 808.9,647.9 808.9,650.0 808.9,652.1 808.8,654.1 808.8,656.2 808.8,658.3 808.8,660.4 808.7,662.5 808.7,664.6 808.7,666.6 808.7,668.7 808.7,670.8" fill="none" stroke="#8a8a8a" stroke-width="2.4"/>
<line x1="808.50" y1="454.60" x2="808.50" y2="676.80" stroke="#3a3a3a" stroke-width="1.4"/>
<text x="0" y="0" font-size="29" font-weight="bold" fill="#000" stroke="#000" stroke-width="1" textLength="20.02" lengthAdjust="spacingAndGlyphs" transform="translate(-1.0 813.6) scale(1 0.875)">g</text>
<clipPath id="cg"><rect x="113.5" y="814.7" width="270.8" height="271.5"/></clipPath>
<path d="M116.1 1071.5h0M115.6 1071.0h0M113.8 1085.7h0M118.5 1063.1h0M118.6 1055.8h0M117.2 1066.8h0M120.4 1063.7h0M120.7 1055.5h0M119.9 1056.5h0M123.5 1024.9h0M123.8 1041.5h0M124.1 1047.1h0M125.4 1044.4h0M125.7 1035.1h0M126.1 1037.4h0M129.9 1015.3h0M129.8 1024.7h0M127.4 1040.8h0M132.1 1008.4h0M130.4 1008.8h0M130.8 1009.7h0M134.4 1012.9h0M134.9 997.8h0M133.2 992.9h0M138.1 982.9h0M136.5 996.8h0M137.8 991.7h0M140.7 984.7h0M138.9 981.8h0M138.7 988.6h0M143.4 970.4h0M141.4 976.6h0M143.2 974.1h0M146.5 962.0h0M144.0 965.3h0M145.3 976.9h0M147.5 972.5h0M148.5 957.5h0M148.9 970.4h0M150.2 979.1h0M150.2 971.7h0M150.0 977.5h0M154.4 959.2h0M154.1 958.1h0M154.4 943.6h0M156.3 951.1h0M157.2 947.6h0M155.1 940.7h0M160.0 941.7h0M158.6 962.7h0M158.7 953.3h0M162.6 954.2h0M162.3 949.2h0M160.4 936.0h0M163.7 911.1h0M165.6 932.3h0M163.3 942.4h0M167.8 947.2h0M166.6 937.2h0M166.9 921.5h0M170.8 945.0h0M170.8 930.5h0M168.7 927.4h0M173.7 921.6h0M171.4 906.4h0M173.0 933.7h0M175.6 928.7h0M174.3 945.4h0M176.7 936.6h0M178.6 940.8h0M179.4 927.6h0M178.7 923.8h0M181.4 918.6h0M179.9 918.6h0M180.7 934.0h0M183.9 937.8h0M182.5 938.8h0M182.7 929.8h0M186.8 928.4h0M186.7 938.0h0M186.3 918.2h0M190.2 934.3h0M189.2 922.5h0M189.8 928.1h0M191.0 915.2h0M192.6 911.9h0M193.2 929.5h0M195.1 910.9h0M194.6 890.7h0M195.3 910.1h0M196.2 929.3h0M198.3 885.5h0M197.4 926.9h0M199.8 903.8h0M200.2 926.8h0M199.4 903.8h0M202.2 913.7h0M203.7 904.0h0M202.7 908.5h0M206.6 928.5h0M207.0 929.8h0M206.4 920.2h0M207.6 897.1h0M209.4 903.3h0M208.3 892.3h0M211.9 890.0h0M210.2 884.7h0M210.5 919.1h0M214.4 919.6h0M214.3 918.9h0M212.8 887.8h0M217.5 907.9h0M218.0 898.3h0M216.5 878.1h0M219.3 906.5h0M219.7 909.3h0M218.9 914.0h0M222.0 887.2h0M222.9 885.9h0M221.4 898.9h0M224.6 903.3h0M226.2 899.3h0M226.3 892.8h0M226.8 883.7h0M228.9 909.6h0M226.6 907.7h0M230.3 884.6h0M229.7 885.5h0M229.6 896.0h0M233.4 896.8h0M232.6 882.3h0M233.7 893.1h0M235.1 916.7h0M236.6 907.5h0M237.0 884.3h0M238.8 895.0h0M239.1 887.3h0M239.5 915.1h0M242.4 876.6h0M240.9 888.8h0M242.2 894.1h0M244.0 889.8h0M244.5 894.8h0M245.2 893.3h0M247.7 919.1h0M246.3 903.3h0M246.5 875.8h0M248.6 891.9h0M249.1 900.5h0M250.8 881.8h0M253.3 868.0h0M252.9 887.9h0M253.5 876.6h0M256.1 895.0h0M254.7 910.5h0M254.2 866.8h0M258.9 895.5h0M256.7 875.9h0M257.5 872.6h0M260.2 863.6h0M260.0 892.3h0M259.9 871.0h0M264.3 896.5h0M263.7 903.2h0M264.4 905.3h0M265.9 880.9h0M266.5 902.8h0M265.9 848.9h0M268.8 868.7h0M269.7 868.7h0M269.3 877.9h0M271.0 870.0h0M272.2 887.6h0M272.6 895.5h0M274.5 892.1h0M275.8 872.9h0M275.4 879.8h0M276.5 875.4h0M277.9 897.8h0M277.7 869.6h0M280.5 862.9h0M279.3 874.7h0M278.9 909.8h0M281.9 886.3h0M283.9 878.7h0M282.9 864.5h0M285.7 875.3h0M286.8 867.0h0M285.5 890.6h0M288.6 886.0h0M287.5 886.3h0M286.9 859.6h0M291.1 899.3h0M290.9 881.7h0M290.4 900.5h0M292.5 854.3h0M293.0 865.9h0M293.1 886.2h0M296.3 865.1h0M297.2 864.9h0M295.2 878.1h0M299.6 869.3h0M298.6 876.6h0M299.7 876.2h0M301.8 895.6h0M300.6 885.6h0M301.3 863.9h0M304.8 869.9h0M304.3 843.7h0M304.4 855.1h0M307.7 865.3h0M307.3 897.3h0M307.3 880.0h0M309.8 868.4h0M310.6 844.7h0M310.9 864.5h0M312.4 890.0h0M313.7 858.3h0M313.1 856.0h0M316.5 852.1h0M316.3 849.3h0M315.1 881.3h0M318.6 869.1h0M317.7 862.0h0M317.4 856.5h0M321.9 876.2h0M322.3 854.0h0M321.8 856.0h0M324.3 898.7h0M324.7 858.0h0M324.0 863.5h0M327.2 875.0h0M327.3 872.6h0M326.1 860.0h0M329.4 842.0h0M328.4 858.6h0M330.6 887.5h0M333.4 871.2h0M332.6 864.6h0M331.2 900.5h0M333.8 864.9h0M334.9 875.0h0M335.6 871.6h0M337.8 882.0h0M336.9 859.8h0M336.9 880.7h0M340.5 880.8h0M341.7 863.1h0M339.8 852.8h0M344.3 872.4h0M343.1 869.5h0M342.8 853.1h0M345.8 857.1h0M345.6 862.5h0M345.2 847.7h0M349.0 850.8h0M348.7 878.7h0M348.8 879.5h0M351.1 836.1h0M352.0 874.7h0M350.3 891.9h0M355.6 868.2h0M353.5 861.5h0M354.2 849.9h0M357.2 833.4h0M357.5 863.1h0M357.0 893.3h0M360.3 872.2h0M359.0 853.1h0M359.2 839.7h0M361.4 865.3h0M363.5 874.8h0M362.8 868.0h0M365.6 883.4h0M364.5 878.5h0M366.1 824.9h0M367.0 834.6h0M368.7 869.8h0M366.8 879.8h0M372.0 846.2h0M371.8 848.5h0M372.2 851.4h0M373.5 889.8h0M373.8 860.7h0M374.3 872.7h0M375.3 841.2h0M375.2 901.3h0M376.1 845.8h0M377.8 868.5h0M379.4 843.2h0M379.6 866.3h0M383.0 838.0h0M383.0 862.6h0M380.9 868.3h0M385.1 865.7h0M385.8 833.3h0M385.8 870.2h0" stroke="#009e73" stroke-width="3.0" stroke-linecap="round" fill="none" clip-path="url(#cg)"/>
<path d="M115.6 1085.6h0M113.8 1085.7h0M114.1 1085.7h0M115.6 1083.0h0M118.4 1078.7h0M117.9 1082.7h0M117.8 1078.0h0M116.5 1083.7h0M120.6 1083.2h0M121.4 1078.1h0M120.9 1072.4h0M120.9 1075.7h0M123.6 1066.4h0M124.2 1064.9h0M124.5 1058.0h0M124.4 1063.0h0M124.9 1083.6h0M125.9 1068.2h0M125.8 1075.9h0M125.9 1064.6h0M129.3 1059.5h0M127.3 1056.6h0M127.6 1057.3h0M128.6 1053.8h0M132.2 1057.6h0M130.9 1060.7h0M130.5 1055.2h0M131.2 1058.2h0M134.2 1055.4h0M135.4 1042.5h0M135.4 1052.1h0M135.3 1052.6h0M137.5 1044.8h0M137.1 1049.3h0M137.1 1041.8h0M137.6 1039.6h0M140.5 1048.0h0M139.0 1041.0h0M140.2 1038.5h0M140.8 1039.7h0M141.9 1045.6h0M143.3 1023.0h0M142.9 1038.1h0M141.1 1038.3h0M143.8 1043.9h0M144.3 1025.5h0M145.1 1041.2h0M144.7 1045.4h0M147.0 1043.7h0M147.2 1037.3h0M147.0 1046.0h0M148.8 1035.9h0M149.7 1033.1h0M150.1 1025.7h0M151.7 1023.2h0M150.3 1025.3h0M152.9 1022.0h0M153.2 1012.9h0M153.8 1026.4h0M153.9 1019.0h0M157.1 1018.5h0M156.4 1022.0h0M155.1 1038.5h0M157.3 1024.7h0M158.2 1011.6h0M159.4 1029.1h0M158.9 1026.9h0M157.8 1024.0h0M161.0 1016.7h0M161.5 1018.1h0M160.7 1021.5h0M162.7 1029.3h0M163.7 1011.0h0M164.8 1019.1h0M164.8 1019.6h0M165.2 1019.9h0M167.1 1009.6h0M168.4 1031.4h0M166.1 1026.1h0M166.9 1004.9h0M169.7 1007.1h0M170.3 1018.5h0M168.6 997.7h0M171.1 1016.1h0M173.6 1007.9h0M172.7 1002.8h0M172.9 1015.1h0M172.3 1004.2h0M176.2 1002.0h0M175.8 1012.7h0M174.1 1017.6h0M176.7 993.9h0M177.8 1004.4h0M179.2 987.6h0M178.8 997.4h0M178.5 1000.7h0M180.6 1001.7h0M181.4 1008.0h0M180.7 999.9h0M181.1 1006.6h0M182.4 988.8h0M185.0 988.6h0M183.6 1012.7h0M183.4 1007.5h0M185.5 1006.0h0M186.6 990.6h0M185.1 994.4h0M187.4 992.3h0M189.3 997.3h0M190.3 988.0h0M188.6 1009.0h0M188.1 989.7h0M191.6 991.3h0M190.7 993.0h0M192.2 996.1h0M193.3 1016.9h0M194.0 982.8h0M195.7 999.5h0M193.7 988.5h0M194.6 998.7h0M197.7 983.6h0M196.1 990.5h0M198.6 981.5h0M196.2 991.7h0M199.0 983.2h0M201.5 983.6h0M201.0 1006.9h0M201.2 977.1h0M203.4 982.5h0M203.4 987.0h0M202.1 988.8h0M203.0 982.1h0M206.6 993.4h0M205.7 987.4h0M204.4 986.8h0M204.9 968.0h0M207.2 992.2h0M208.8 997.7h0M208.7 989.9h0M209.3 987.8h0M211.7 985.3h0M211.0 983.0h0M210.9 976.2h0M211.9 977.7h0M214.9 978.4h0M214.2 956.8h0M214.2 968.9h0M214.6 971.6h0M217.7 977.0h0M215.5 985.4h0M217.8 973.9h0M216.1 994.9h0M219.8 981.9h0M220.8 980.5h0M220.3 986.1h0M218.6 959.4h0M223.5 962.3h0M221.6 977.7h0M221.8 984.6h0M221.3 967.8h0M225.0 971.8h0M226.2 973.7h0M226.1 965.6h0M226.2 980.5h0M228.8 968.8h0M228.1 951.1h0M226.5 965.5h0M226.4 967.7h0M230.0 953.4h0M230.5 960.0h0M230.1 955.5h0M230.7 974.9h0M233.1 975.0h0M233.4 968.4h0M234.2 975.5h0M233.3 979.4h0M234.9 954.1h0M237.0 970.6h0M236.2 982.0h0M236.7 965.7h0M237.7 967.9h0M239.7 967.6h0M239.8 966.1h0M239.0 963.8h0M240.2 976.0h0M240.8 968.8h0M241.1 964.9h0M242.0 957.9h0M244.7 964.3h0M243.9 974.9h0M243.1 959.6h0M243.3 975.7h0M246.8 963.9h0M246.1 960.1h0M247.3 966.0h0M248.3 957.4h0M249.6 964.9h0M249.0 968.8h0M248.7 965.7h0M250.1 960.9h0M251.7 957.3h0M251.6 976.9h0M253.4 958.7h0M251.8 965.9h0M254.4 952.0h0M253.9 978.6h0M255.8 957.5h0M255.1 966.8h0M257.7 964.5h0M257.1 970.6h0M258.9 948.4h0M257.8 973.1h0M261.6 951.9h0M260.6 972.9h0M260.3 953.9h0M261.5 972.2h0M263.1 960.3h0M263.7 943.0h0M263.2 951.3h0M264.4 973.7h0M266.1 956.4h0M267.4 984.7h0M266.8 953.7h0M265.7 977.2h0M268.6 951.4h0M270.0 958.5h0M268.6 949.2h0M268.5 962.3h0M272.6 945.8h0M270.6 952.0h0M271.7 938.0h0M272.3 963.8h0M274.2 957.2h0M275.6 962.3h0M275.1 956.6h0M273.7 945.1h0M277.3 953.5h0M275.9 958.4h0M278.1 954.9h0M278.4 954.3h0M280.8 950.5h0M281.2 935.1h0M280.4 952.4h0M279.3 930.7h0M282.1 943.9h0M282.5 944.6h0M281.5 961.9h0M281.6 957.3h0M284.4 954.3h0M284.9 940.1h0M284.5 962.4h0M285.4 955.3h0M288.8 957.3h0M287.5 937.4h0M287.0 964.4h0M288.9 941.9h0M290.9 942.5h0M289.8 944.6h0M291.3 930.8h0M292.3 940.5h0M293.2 958.4h0M293.4 938.2h0M293.2 950.6h0M294.5 938.3h0M295.8 950.5h0M296.5 947.6h0M297.6 958.9h0M297.3 948.3h0M300.2 957.5h0M299.6 941.8h0M299.6 941.1h0M298.0 925.5h0M301.7 953.2h0M303.0 935.6h0M302.8 942.1h0M302.2 950.1h0M304.9 919.8h0M305.1 957.5h0M305.2 946.7h0M304.0 932.6h0M307.9 938.2h0M306.4 938.1h0M306.9 933.2h0M306.5 929.6h0M310.1 960.1h0M310.8 936.1h0M310.2 939.5h0M310.5 931.5h0M312.9 923.0h0M312.0 936.0h0M313.4 940.0h0M312.3 933.8h0M315.4 953.4h0M316.9 928.9h0M315.0 933.2h0M314.7 948.0h0M319.5 944.7h0M319.0 940.9h0M317.6 930.8h0M318.1 915.8h0M322.6 910.3h0M320.5 946.5h0M321.2 943.2h0M322.1 941.0h0M323.3 925.5h0M324.9 935.5h0M324.6 953.6h0M322.9 935.5h0M327.8 951.0h0M327.4 928.3h0M325.8 936.7h0M326.8 924.7h0M330.2 931.3h0M330.1 943.2h0M328.3 947.5h0M328.3 949.8h0M332.4 938.2h0M333.3 915.7h0M332.7 917.9h0M332.6 944.6h0M335.4 946.0h0M335.0 917.2h0M333.7 943.2h0M336.1 933.9h0M338.6 933.6h0M336.6 939.8h0M338.0 924.4h0M338.5 925.6h0M341.7 930.7h0M341.6 949.5h0M340.6 948.9h0M340.5 930.9h0M342.6 939.6h0M343.6 925.8h0M344.4 939.2h0M343.7 944.4h0M346.6 942.1h0M345.4 902.0h0M347.1 939.7h0M346.3 939.1h0M347.8 943.6h0M349.9 935.4h0M348.8 931.3h0M348.3 916.0h0M351.6 921.6h0M352.1 938.1h0M351.3 932.9h0M351.8 931.2h0M353.6 930.8h0M355.6 920.6h0M355.0 918.2h0M355.5 916.0h0M356.2 922.8h0M358.0 930.0h0M356.8 930.3h0M356.4 934.4h0M358.9 932.2h0M359.4 933.5h0M359.1 930.0h0M359.6 935.3h0M363.5 923.1h0M361.9 952.7h0M362.0 922.5h0M361.3 917.7h0M365.6 925.3h0M365.3 937.0h0M366.5 947.7h0M366.2 930.9h0M368.9 914.6h0M368.6 926.7h0M367.9 935.0h0M366.8 920.0h0M370.5 923.4h0M369.7 934.7h0M371.0 935.3h0M370.6 917.0h0M373.9 911.1h0M373.6 922.6h0M374.1 909.4h0M372.8 923.7h0M375.0 916.5h0M375.0 937.9h0M375.3 930.6h0M376.9 940.6h0M379.5 928.3h0M378.8 935.4h0M378.6 904.2h0M379.7 920.7h0M382.7 907.0h0M382.9 923.2h0M382.4 910.7h0M381.8 935.8h0M383.7 911.6h0M384.7 922.4h0M383.6 911.3h0M383.6 915.8h0" stroke="#e69f00" stroke-width="3.0" stroke-linecap="round" fill="none" clip-path="url(#cg)"/>
<path d="M114.5 1084.0h0M115.6 1085.7h0M114.8 1085.7h0M114.8 1085.7h0M119.0 1085.4h0M118.1 1085.7h0M117.2 1085.4h0M118.9 1084.7h0M119.3 1085.7h0M121.2 1085.7h0M119.2 1085.7h0M119.4 1085.7h0M124.2 1084.7h0M123.2 1082.1h0M124.5 1083.7h0M122.4 1085.7h0M127.0 1082.9h0M126.6 1079.3h0M125.1 1082.8h0M127.2 1083.4h0M129.2 1080.3h0M128.7 1082.6h0M127.9 1081.6h0M127.8 1080.7h0M130.4 1085.7h0M131.7 1079.9h0M131.2 1081.0h0M132.0 1082.1h0M135.3 1081.4h0M133.7 1077.8h0M134.8 1074.8h0M133.1 1078.9h0M136.9 1074.9h0M138.0 1068.0h0M137.1 1074.2h0M137.9 1075.4h0M140.0 1080.6h0M138.9 1075.2h0M140.6 1073.3h0M140.7 1072.1h0M141.1 1078.4h0M142.3 1075.4h0M142.5 1072.2h0M141.8 1073.9h0M143.9 1073.9h0M145.0 1072.0h0M145.8 1068.1h0M145.7 1075.3h0M148.0 1073.1h0M148.4 1072.7h0M148.2 1072.2h0M148.2 1072.5h0M150.4 1066.8h0M150.7 1070.3h0M150.2 1069.9h0M150.2 1072.8h0M154.1 1072.2h0M152.6 1072.0h0M153.2 1070.1h0M154.4 1066.0h0M156.6 1066.1h0M156.9 1066.5h0M154.8 1071.5h0M156.2 1065.2h0M158.1 1071.2h0M159.9 1066.6h0M159.8 1061.0h0M160.0 1062.4h0M162.7 1065.1h0M162.8 1067.9h0M161.6 1061.2h0M160.7 1070.7h0M163.5 1063.3h0M165.1 1058.1h0M164.8 1060.0h0M163.6 1061.2h0M167.3 1059.6h0M168.2 1059.8h0M168.2 1055.5h0M166.4 1065.2h0M169.2 1067.4h0M170.2 1065.3h0M170.7 1064.1h0M168.7 1060.9h0M172.4 1056.1h0M173.0 1059.1h0M171.4 1061.6h0M171.7 1061.4h0M176.4 1068.1h0M175.8 1064.0h0M176.1 1060.2h0M175.0 1059.9h0M178.1 1059.8h0M179.5 1059.1h0M179.4 1053.0h0M178.5 1059.4h0M180.0 1059.1h0M182.0 1062.3h0M181.6 1053.4h0M181.6 1058.5h0M182.7 1054.1h0M183.2 1051.0h0M184.7 1064.1h0M183.4 1053.5h0M186.8 1056.3h0M185.7 1061.8h0M185.1 1052.1h0M186.9 1048.8h0M189.6 1053.2h0M189.6 1055.6h0M190.2 1057.4h0M190.3 1055.8h0M192.7 1053.7h0M192.3 1049.7h0M191.0 1055.3h0M192.1 1052.8h0M195.7 1050.9h0M194.2 1054.2h0M195.3 1051.6h0M195.7 1045.9h0M196.1 1059.7h0M198.8 1049.4h0M198.7 1042.9h0M196.1 1040.6h0M200.0 1048.0h0M199.7 1045.4h0M199.6 1055.1h0M200.3 1045.9h0M203.9 1047.5h0M202.2 1050.9h0M201.8 1039.9h0M203.3 1051.6h0M206.5 1043.6h0M207.0 1045.3h0M206.3 1053.4h0M205.2 1055.0h0M208.7 1038.9h0M208.8 1044.5h0M207.3 1057.7h0M209.3 1043.3h0M211.8 1045.1h0M211.7 1034.4h0M209.9 1045.2h0M212.3 1046.4h0M215.2 1041.1h0M213.1 1046.6h0M213.1 1045.2h0M214.1 1045.3h0M216.0 1040.1h0M217.0 1043.6h0M216.8 1044.3h0M218.0 1042.7h0M220.3 1043.3h0M219.6 1039.4h0M219.3 1037.7h0M219.4 1039.7h0M221.7 1041.9h0M222.3 1055.8h0M221.5 1037.0h0M221.8 1050.3h0M225.9 1039.8h0M225.4 1045.3h0M224.4 1044.3h0M226.0 1039.8h0M227.2 1033.2h0M226.6 1038.3h0M227.7 1046.4h0M228.5 1045.0h0M231.7 1033.4h0M229.2 1036.7h0M230.2 1040.7h0M229.7 1032.9h0M233.8 1037.4h0M231.9 1038.0h0M233.9 1039.8h0M234.5 1048.0h0M235.7 1030.9h0M236.4 1035.4h0M235.8 1038.0h0M236.8 1037.0h0M239.1 1036.7h0M237.9 1040.1h0M238.8 1039.5h0M238.4 1034.2h0M241.3 1037.0h0M242.8 1035.0h0M242.6 1035.5h0M240.7 1038.3h0M245.1 1041.2h0M244.4 1027.2h0M244.3 1042.4h0M243.4 1039.8h0M246.2 1042.2h0M246.7 1033.0h0M248.3 1026.2h0M246.1 1026.1h0M248.8 1041.0h0M250.2 1036.4h0M249.2 1038.5h0M250.3 1034.0h0M253.1 1037.2h0M253.1 1039.7h0M253.3 1028.1h0M252.0 1041.5h0M256.0 1026.7h0M254.5 1036.6h0M255.9 1031.0h0M254.9 1032.9h0M258.8 1024.7h0M258.5 1028.7h0M259.3 1034.4h0M258.2 1038.1h0M261.4 1021.9h0M259.4 1027.4h0M260.6 1027.4h0M260.7 1036.0h0M263.5 1027.6h0M262.9 1031.7h0M264.7 1032.3h0M263.1 1025.9h0M265.8 1022.8h0M265.3 1036.6h0M266.3 1024.4h0M266.7 1030.7h0M269.7 1026.1h0M270.0 1028.1h0M268.7 1021.1h0M269.6 1030.1h0M271.9 1013.7h0M272.2 1020.1h0M270.6 1027.5h0M272.1 1034.1h0M274.3 1020.1h0M273.8 1019.7h0M273.2 1041.1h0M274.0 1023.4h0M278.4 1022.8h0M276.0 1015.3h0M278.1 1015.0h0M277.2 1033.0h0M279.1 1023.3h0M280.3 1023.4h0M280.1 1018.2h0M280.9 1036.3h0M282.4 1026.0h0M282.0 1025.6h0M282.8 1039.8h0M283.5 1020.2h0M284.5 1023.3h0M286.4 1019.9h0M284.2 1019.0h0M284.6 1025.9h0M287.5 1027.8h0M289.1 1023.0h0M287.0 1021.2h0M289.5 1024.4h0M291.9 1025.7h0M292.0 1030.6h0M291.0 1025.4h0M289.9 1011.9h0M293.2 1010.5h0M293.8 1017.2h0M292.7 1019.4h0M294.9 1026.0h0M295.9 1026.5h0M297.5 1024.9h0M295.4 1027.7h0M295.4 1023.2h0M299.1 1018.3h0M297.9 1026.0h0M297.9 1017.0h0M298.3 1018.6h0M303.0 1016.6h0M301.7 1010.6h0M302.7 1014.5h0M301.0 1028.2h0M304.3 1017.1h0M305.2 1021.5h0M303.9 1020.1h0M304.6 1022.3h0M308.4 1028.3h0M306.2 1010.3h0M307.4 1021.5h0M307.3 1003.7h0M309.4 1006.4h0M311.1 1021.4h0M310.6 1028.0h0M311.0 1012.8h0M311.8 1016.1h0M313.2 1002.2h0M314.3 1012.5h0M312.6 1014.1h0M316.0 1020.2h0M316.4 1012.4h0M317.0 1023.0h0M316.2 1021.3h0M318.1 1010.1h0M317.2 1021.4h0M319.6 1007.9h0M319.1 1004.2h0M320.7 1012.9h0M320.5 1016.2h0M321.0 1005.4h0M322.2 1007.9h0M324.9 1013.5h0M323.0 1007.9h0M322.7 1007.0h0M323.5 1017.6h0M327.3 1023.4h0M325.7 1012.3h0M325.7 1000.4h0M326.5 998.9h0M329.5 1015.8h0M330.9 1003.0h0M328.7 1000.4h0M328.5 1014.6h0M333.3 1016.0h0M332.4 1009.1h0M332.5 1002.9h0M332.6 1014.4h0M334.2 994.8h0M336.2 1011.9h0M335.2 1016.4h0M334.5 1004.0h0M337.4 1008.8h0M339.0 1000.5h0M338.6 1016.1h0M337.5 1011.9h0M340.0 1008.5h0M341.1 1010.3h0M339.7 1009.3h0M339.8 1012.9h0M342.7 1007.1h0M342.5 1001.4h0M342.6 1004.6h0M342.9 1015.7h0M345.0 1007.0h0M345.6 1007.4h0M346.4 1006.0h0M346.2 1003.7h0M349.4 1002.1h0M348.6 1009.8h0M350.1 1012.5h0M349.6 1002.9h0M352.0 1008.5h0M351.7 1005.9h0M352.7 1006.7h0M351.5 1014.2h0M353.6 1006.2h0M354.9 1013.8h0M354.6 1007.3h0M353.1 1005.7h0M355.8 1009.5h0M358.4 1011.7h0M358.0 1014.9h0M357.7 1003.1h0M358.8 1010.7h0M360.4 990.9h0M358.5 1016.8h0M360.2 1005.7h0M363.5 998.8h0M362.7 1012.0h0M361.6 1007.7h0M361.7 1012.7h0M364.8 1006.1h0M365.8 1005.3h0M364.9 992.1h0M365.1 1009.7h0M369.3 997.9h0M369.2 989.0h0M367.8 1005.4h0M367.2 1008.2h0M370.0 987.6h0M370.8 1003.2h0M372.1 984.4h0M369.9 1000.0h0M372.4 998.4h0M373.7 993.5h0M372.7 994.0h0M373.4 1008.3h0M376.3 1002.4h0M377.1 1004.3h0M375.6 995.7h0M377.4 1007.0h0M379.8 988.3h0M378.4 994.1h0M380.0 995.9h0M377.9 1002.1h0M382.4 992.7h0M381.8 1002.4h0M381.1 981.7h0M381.2 991.2h0M384.7 1005.9h0M383.8 992.1h0M383.9 987.7h0M384.5 994.7h0" stroke="#0072b2" stroke-width="3.0" stroke-linecap="round" fill="none" clip-path="url(#cg)"/>
<path d="M115.2 1085.7h0M114.5 1085.7h0M115.1 1085.7h0M115.5 1085.7h0M118.7 1085.7h0M116.4 1085.7h0M117.0 1085.7h0M118.2 1085.7h0M120.2 1085.7h0M121.6 1085.7h0M119.5 1085.7h0M119.6 1085.7h0M122.1 1085.7h0M122.3 1085.4h0M123.1 1085.2h0M122.9 1085.7h0M126.4 1085.7h0M125.7 1085.7h0M125.8 1084.6h0M126.6 1085.7h0M129.6 1085.7h0M127.7 1085.7h0M127.3 1085.7h0M127.3 1085.7h0M130.8 1085.7h0M130.2 1085.1h0M130.8 1085.5h0M132.0 1085.7h0M134.9 1084.5h0M135.2 1085.7h0M133.7 1084.9h0M135.4 1085.7h0M136.9 1084.1h0M137.7 1084.6h0M135.6 1085.7h0M138.1 1084.6h0M139.3 1083.3h0M139.1 1084.7h0M140.1 1082.9h0M138.8 1085.7h0M143.4 1083.6h0M143.0 1081.4h0M142.8 1083.3h0M141.5 1082.8h0M145.2 1080.3h0M146.3 1083.1h0M146.3 1085.6h0M145.3 1083.8h0M148.3 1084.3h0M147.6 1083.4h0M148.9 1083.8h0M147.2 1083.9h0M151.5 1082.9h0M149.5 1079.9h0M149.6 1082.5h0M149.4 1084.5h0M152.7 1080.0h0M152.8 1079.6h0M154.2 1082.2h0M154.7 1083.4h0M156.4 1078.8h0M155.5 1080.9h0M155.3 1080.3h0M155.0 1081.9h0M158.6 1083.7h0M158.6 1078.3h0M158.5 1081.8h0M159.8 1080.6h0M161.1 1085.0h0M160.8 1082.4h0M160.7 1082.2h0M162.9 1079.9h0M164.5 1079.3h0M165.5 1082.3h0M165.1 1085.5h0M164.6 1080.3h0M167.2 1081.4h0M167.1 1078.4h0M166.0 1082.5h0M168.2 1078.2h0M169.2 1083.0h0M169.2 1082.2h0M171.2 1080.6h0M171.0 1080.2h0M172.1 1077.9h0M171.6 1079.7h0M172.2 1084.1h0M173.1 1075.5h0M174.7 1081.3h0M176.4 1077.7h0M174.7 1078.7h0M176.0 1079.6h0M178.5 1076.6h0M177.3 1078.2h0M178.4 1079.9h0M177.8 1083.0h0M180.5 1080.1h0M180.1 1080.3h0M179.8 1078.6h0M181.4 1080.0h0M183.4 1080.3h0M183.9 1082.5h0M183.4 1081.1h0M182.5 1077.1h0M186.6 1085.2h0M185.1 1077.4h0M186.2 1075.5h0M185.8 1077.0h0M189.1 1078.1h0M188.8 1080.1h0M190.2 1076.3h0M189.0 1074.7h0M192.5 1079.9h0M191.0 1076.6h0M193.1 1079.0h0M191.8 1078.8h0M195.6 1075.9h0M194.8 1075.2h0M195.7 1071.6h0M194.1 1075.2h0M198.1 1077.8h0M197.3 1075.0h0M198.0 1074.6h0M198.3 1072.0h0M199.5 1080.7h0M201.6 1073.8h0M200.3 1075.5h0M199.6 1078.8h0M201.9 1070.7h0M203.8 1080.6h0M202.8 1074.9h0M203.8 1075.6h0M205.3 1075.6h0M206.5 1076.5h0M206.6 1067.8h0M206.3 1078.4h0M207.7 1078.4h0M207.2 1077.2h0M209.7 1070.8h0M209.4 1076.0h0M210.1 1071.6h0M210.7 1077.4h0M212.0 1070.2h0M211.0 1077.3h0M214.6 1077.5h0M212.7 1074.6h0M215.0 1070.4h0M213.7 1076.3h0M217.6 1075.1h0M216.9 1082.6h0M215.7 1075.1h0M216.5 1075.1h0M220.6 1069.2h0M220.7 1074.5h0M219.1 1071.2h0M218.1 1070.5h0M223.6 1074.0h0M223.1 1078.1h0M223.4 1071.7h0M221.6 1072.3h0M225.8 1072.3h0M225.7 1071.1h0M225.2 1066.5h0M224.7 1074.7h0M228.2 1076.6h0M227.3 1074.0h0M227.8 1075.5h0M227.5 1071.2h0M231.2 1076.1h0M229.7 1069.1h0M229.2 1073.1h0M229.9 1070.2h0M232.5 1077.9h0M232.8 1070.0h0M232.6 1070.3h0M232.6 1077.2h0M235.4 1080.2h0M235.5 1073.9h0M236.9 1071.2h0M235.7 1071.0h0M239.6 1071.9h0M239.7 1074.7h0M239.2 1076.8h0M239.8 1073.8h0M241.5 1064.4h0M242.4 1072.8h0M241.9 1070.7h0M241.5 1073.3h0M243.2 1068.3h0M243.2 1069.9h0M244.0 1071.4h0M245.4 1072.5h0M247.8 1059.0h0M247.9 1075.3h0M247.6 1074.4h0M247.5 1069.2h0M250.7 1068.8h0M249.7 1065.2h0M251.1 1071.2h0M250.0 1066.6h0M251.9 1075.5h0M253.3 1071.6h0M252.7 1074.3h0M252.8 1075.8h0M256.1 1067.6h0M255.5 1067.2h0M255.2 1065.2h0M254.1 1071.2h0M258.8 1065.8h0M258.3 1070.7h0M258.4 1069.3h0M258.7 1070.9h0M261.9 1067.4h0M260.4 1065.4h0M259.6 1069.1h0M260.9 1064.4h0M263.9 1066.9h0M263.8 1071.9h0M264.6 1073.7h0M264.5 1070.2h0M266.6 1068.3h0M266.6 1065.6h0M266.5 1073.4h0M265.3 1065.1h0M268.5 1067.4h0M268.4 1069.7h0M269.6 1067.2h0M268.9 1069.3h0M270.9 1069.6h0M271.2 1065.6h0M270.8 1064.7h0M272.6 1065.8h0M274.1 1063.3h0M274.7 1066.7h0M274.3 1070.5h0M275.6 1069.5h0M277.6 1068.2h0M277.7 1067.4h0M276.7 1067.2h0M276.4 1067.0h0M280.1 1063.8h0M280.3 1064.0h0M281.0 1064.2h0M280.1 1071.1h0M283.2 1068.5h0M283.5 1069.1h0M284.1 1066.3h0M283.7 1066.5h0M285.1 1062.6h0M285.0 1068.1h0M284.8 1071.0h0M285.2 1067.8h0M287.0 1062.8h0M288.3 1064.0h0M287.0 1069.3h0M287.9 1058.0h0M290.6 1068.1h0M290.4 1066.1h0M290.0 1065.1h0M290.9 1062.4h0M294.8 1067.3h0M294.8 1063.9h0M294.7 1063.1h0M293.6 1062.1h0M297.7 1070.3h0M295.4 1066.9h0M297.4 1067.3h0M295.8 1068.9h0M298.2 1067.2h0M298.1 1065.5h0M299.5 1061.4h0M298.2 1062.6h0M302.9 1066.4h0M301.4 1065.6h0M302.3 1065.4h0M303.0 1065.1h0M305.1 1064.2h0M304.8 1064.1h0M305.4 1061.3h0M304.7 1067.4h0M306.8 1059.9h0M306.9 1060.4h0M308.4 1066.7h0M308.5 1061.4h0M310.9 1061.4h0M309.1 1064.3h0M309.5 1052.9h0M309.1 1061.2h0M314.2 1060.4h0M312.9 1062.7h0M313.3 1054.5h0M312.8 1069.2h0M315.4 1063.6h0M314.6 1063.0h0M315.3 1056.6h0M316.9 1065.5h0M318.9 1063.4h0M318.8 1070.6h0M319.0 1066.8h0M319.2 1059.0h0M320.2 1060.9h0M322.1 1061.0h0M322.4 1057.8h0M320.4 1057.7h0M325.2 1066.7h0M323.0 1055.2h0M323.0 1058.6h0M324.6 1062.5h0M326.5 1061.1h0M326.0 1066.4h0M326.0 1064.4h0M327.9 1060.2h0M330.6 1061.6h0M329.5 1063.2h0M329.8 1064.4h0M330.0 1061.1h0M332.2 1063.3h0M331.2 1063.6h0M331.4 1059.9h0M331.1 1063.7h0M334.5 1056.9h0M335.1 1063.0h0M334.2 1066.3h0M336.2 1056.2h0M338.0 1056.6h0M337.1 1065.4h0M337.5 1061.3h0M337.1 1060.0h0M339.2 1062.3h0M340.3 1065.8h0M340.7 1055.7h0M339.5 1062.2h0M342.3 1061.4h0M344.2 1061.7h0M343.8 1053.3h0M342.7 1056.3h0M347.2 1064.1h0M345.2 1066.2h0M346.1 1067.3h0M346.3 1056.7h0M348.3 1062.8h0M347.6 1062.2h0M347.5 1058.8h0M349.6 1057.0h0M351.2 1056.5h0M351.8 1055.2h0M351.2 1051.0h0M351.8 1061.0h0M355.2 1055.0h0M355.1 1050.8h0M355.5 1062.7h0M354.0 1061.5h0M356.7 1061.4h0M356.9 1055.4h0M357.1 1053.6h0M356.5 1054.8h0M360.0 1058.3h0M361.0 1065.6h0M360.4 1059.8h0M360.6 1055.7h0M361.7 1052.3h0M361.2 1054.3h0M363.1 1055.3h0M361.9 1049.9h0M366.7 1061.0h0M366.2 1054.5h0M366.2 1054.2h0M364.5 1052.4h0M369.3 1052.3h0M368.3 1057.1h0M367.5 1050.7h0M367.5 1054.3h0M369.8 1061.7h0M371.3 1050.3h0M371.0 1053.7h0M370.9 1056.3h0M374.9 1050.9h0M374.4 1056.8h0M374.6 1053.9h0M372.9 1060.7h0M377.0 1054.4h0M375.6 1058.2h0M376.1 1058.6h0M375.3 1059.4h0M378.0 1056.0h0M379.8 1051.3h0M378.8 1055.0h0M378.6 1053.9h0M382.2 1053.5h0M382.9 1051.3h0M383.0 1050.2h0M381.8 1052.6h0M385.4 1054.0h0M385.8 1055.2h0M385.3 1049.7h0M385.2 1054.0h0" stroke="#d55e00" stroke-width="3.0" stroke-linecap="round" fill="none" clip-path="url(#cg)"/>
<rect x="113.5" y="814.7" width="270.8" height="271.5" fill="none" stroke="#3a3a3a" stroke-width="1.1"/>
<line x1="105.80" y1="1086.20" x2="113.50" y2="1086.20" stroke="#3a3a3a" stroke-width="1.2"/>
<text x="95.2" y="1092.7" font-size="18.5" text-anchor="end">0</text>
<line x1="105.80" y1="1033.50" x2="113.50" y2="1033.50" stroke="#3a3a3a" stroke-width="1.2"/>
<text x="95.2" y="1040.0" font-size="18.5" text-anchor="end">50</text>
<line x1="105.80" y1="978.80" x2="113.50" y2="978.80" stroke="#3a3a3a" stroke-width="1.2"/>
<text x="95.2" y="985.3" font-size="18.5" text-anchor="end">100</text>
<line x1="105.80" y1="924.10" x2="113.50" y2="924.10" stroke="#3a3a3a" stroke-width="1.2"/>
<text x="95.2" y="930.6" font-size="18.5" text-anchor="end">150</text>
<line x1="105.80" y1="869.40" x2="113.50" y2="869.40" stroke="#3a3a3a" stroke-width="1.2"/>
<text x="95.2" y="875.9" font-size="18.5" text-anchor="end">200</text>
<line x1="105.80" y1="814.70" x2="113.50" y2="814.70" stroke="#3a3a3a" stroke-width="1.2"/>
<text x="95.2" y="821.2" font-size="18.5" text-anchor="end">250</text>
<line x1="113.50" y1="1086.20" x2="113.50" y2="1093.70" stroke="#3a3a3a" stroke-width="1.2"/>
<text x="120.3" y="1104.3" font-size="19" text-anchor="end" transform="rotate(-90 120.3 1104.3)">0</text>
<line x1="141.02" y1="1086.20" x2="141.02" y2="1093.70" stroke="#3a3a3a" stroke-width="1.2"/>
<text x="147.8" y="1104.3" font-size="19" text-anchor="end" transform="rotate(-90 147.8 1104.3)">10</text>
<line x1="168.54" y1="1086.20" x2="168.54" y2="1093.70" stroke="#3a3a3a" stroke-width="1.2"/>
<text x="175.3" y="1104.3" font-size="19" text-anchor="end" transform="rotate(-90 175.3 1104.3)">20</text>
<line x1="196.06" y1="1086.20" x2="196.06" y2="1093.70" stroke="#3a3a3a" stroke-width="1.2"/>
<text x="202.9" y="1104.3" font-size="19" text-anchor="end" transform="rotate(-90 202.9 1104.3)">30</text>
<line x1="223.58" y1="1086.20" x2="223.58" y2="1093.70" stroke="#3a3a3a" stroke-width="1.2"/>
<text x="230.4" y="1104.3" font-size="19" text-anchor="end" transform="rotate(-90 230.4 1104.3)">40</text>
<line x1="251.10" y1="1086.20" x2="251.10" y2="1093.70" stroke="#3a3a3a" stroke-width="1.2"/>
<text x="257.9" y="1104.3" font-size="19" text-anchor="end" transform="rotate(-90 257.9 1104.3)">50</text>
<line x1="278.62" y1="1086.20" x2="278.62" y2="1093.70" stroke="#3a3a3a" stroke-width="1.2"/>
<text x="285.4" y="1104.3" font-size="19" text-anchor="end" transform="rotate(-90 285.4 1104.3)">60</text>
<line x1="306.14" y1="1086.20" x2="306.14" y2="1093.70" stroke="#3a3a3a" stroke-width="1.2"/>
<text x="312.9" y="1104.3" font-size="19" text-anchor="end" transform="rotate(-90 312.9 1104.3)">70</text>
<line x1="333.66" y1="1086.20" x2="333.66" y2="1093.70" stroke="#3a3a3a" stroke-width="1.2"/>
<text x="340.5" y="1104.3" font-size="19" text-anchor="end" transform="rotate(-90 340.5 1104.3)">80</text>
<line x1="361.18" y1="1086.20" x2="361.18" y2="1093.70" stroke="#3a3a3a" stroke-width="1.2"/>
<text x="368.0" y="1104.3" font-size="19" text-anchor="end" transform="rotate(-90 368.0 1104.3)">90</text>
<text x="248.8" y="1157.5" font-size="20.5" text-anchor="middle" textLength="139.7" lengthAdjust="spacingAndGlyphs">Simulated age</text>
<text x="50.8" y="950.1" font-size="20" text-anchor="middle" textLength="134.7" lengthAdjust="spacingAndGlyphs" transform="rotate(-90 50.8 950.1)">Predicted age</text>
<text x="275.7" y="832.6" font-size="18.3" textLength="67.5" lengthAdjust="spacingAndGlyphs"><tspan font-style="italic">N</tspan>(0,0.8<tspan font-size="12" dy="-7.5">2</tspan><tspan dy="7.5">)</tspan></text>
<text x="275.7" y="916.3" font-size="18.3" textLength="67.5" lengthAdjust="spacingAndGlyphs"><tspan font-style="italic">N</tspan>(0,0.4<tspan font-size="12" dy="-7.5">2</tspan><tspan dy="7.5">)</tspan></text>
<text x="275.7" y="996.5" font-size="18.3" textLength="67.5" lengthAdjust="spacingAndGlyphs"><tspan font-style="italic">N</tspan>(0,0.2<tspan font-size="12" dy="-7.5">2</tspan><tspan dy="7.5">)</tspan></text>
<text x="275.7" y="1050.3" font-size="18.3" textLength="67.5" lengthAdjust="spacingAndGlyphs"><tspan font-style="italic">N</tspan>(0,0.1<tspan font-size="12" dy="-7.5">2</tspan><tspan dy="7.5">)</tspan></text>
</svg>
</body></html>
